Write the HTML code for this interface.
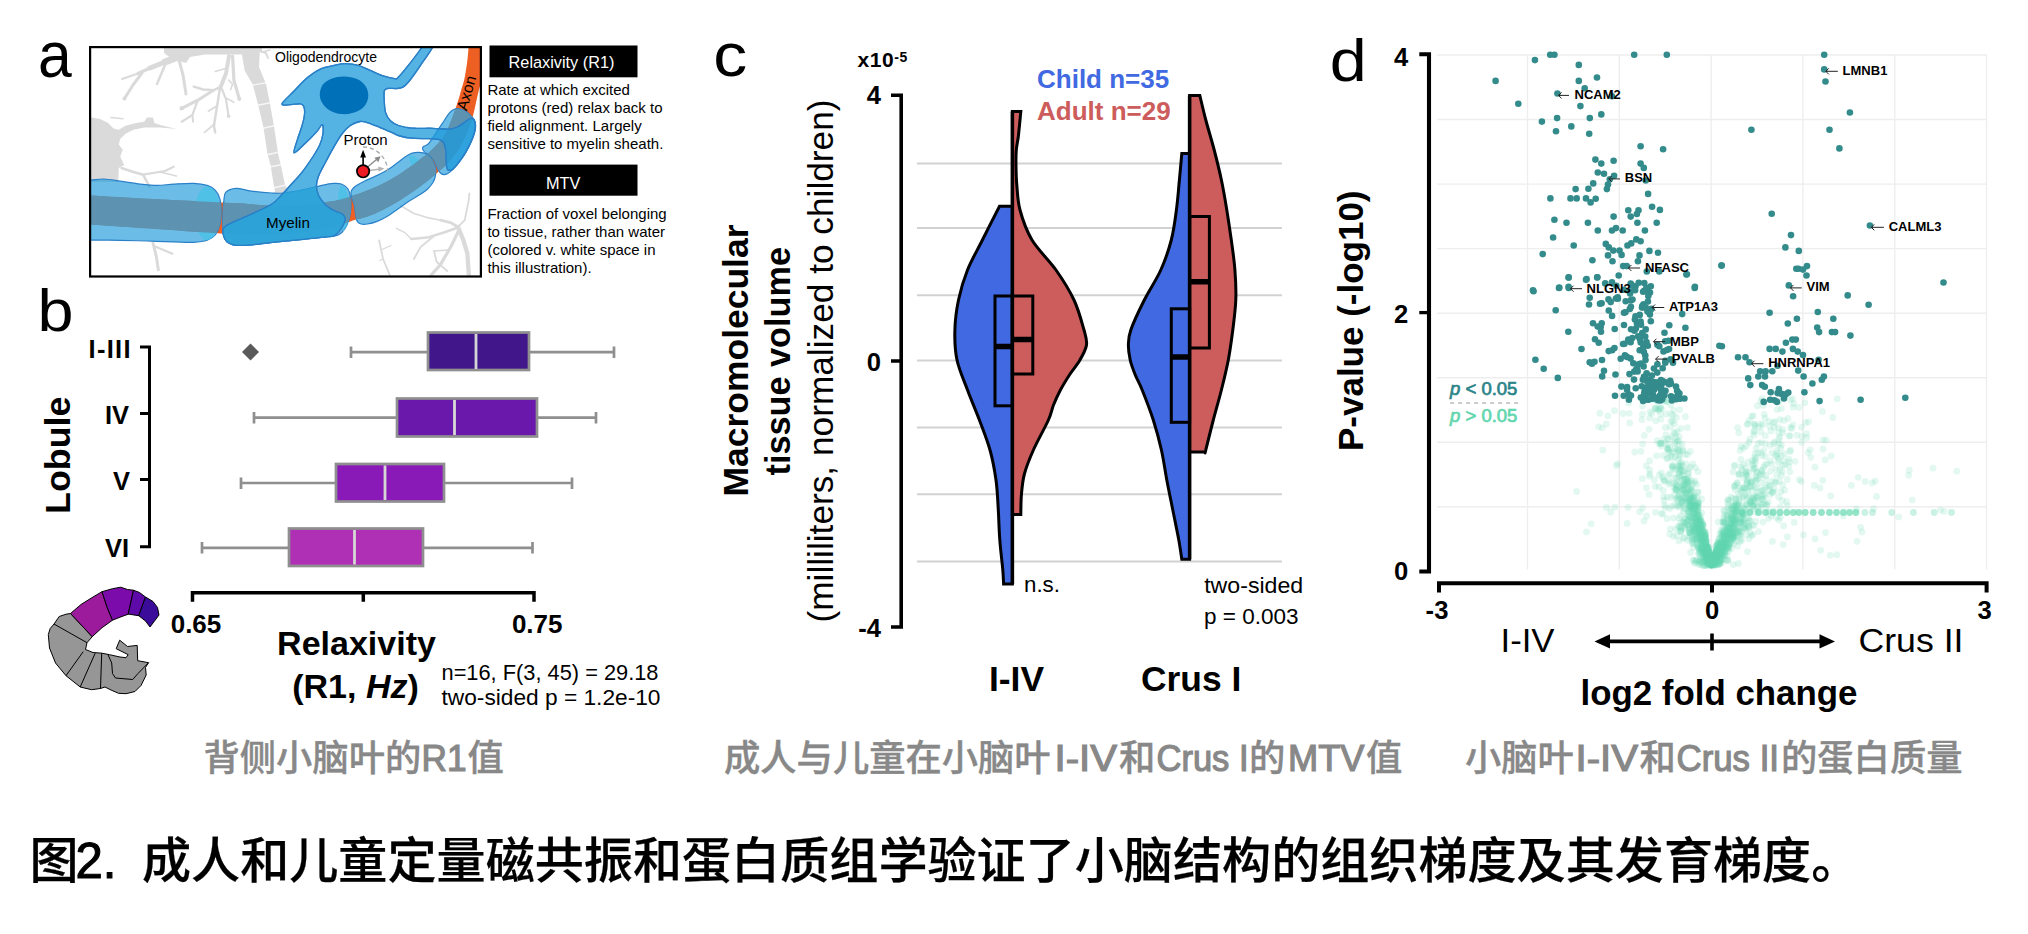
<!DOCTYPE html>
<html lang="zh">
<head>
<meta charset="utf-8">
<title>Figure 2</title>
<style>
html,body{margin:0;padding:0;background:#fff;}
body{width:2028px;height:934px;overflow:hidden;font-family:"Liberation Sans","Noto Sans CJK SC",sans-serif;}
svg{display:block;position:absolute;left:0;top:0;}
text{font-family:"Liberation Sans","Noto Sans CJK SC",sans-serif;}
.b{font-weight:bold;}
.cj{font-family:"Liberation Sans","Noto Sans CJK SC",sans-serif;}
</style>
</head>
<body>
<svg width="2028" height="934" viewBox="0 0 2028 934">
<rect x="0" y="0" width="2028" height="934" fill="#ffffff"/>

<g id="panel-a">
<defs><clipPath id="boxclip"><rect x="90" y="47" width="391" height="229.500"/></clipPath>
<clipPath id="m2clip"><path d="M225.7 192.4C227.7 190.2 231.7 188.5 236.0 188.3C240.3 188.1 245.4 190.3 251.4 191.1C257.4 191.9 266.5 192.7 271.9 193.0C277.2 193.3 278.4 193.5 283.5 193.0C288.6 192.5 296.4 191.1 302.8 189.8C309.2 188.5 316.9 186.4 322.0 185.3C327.1 184.2 330.4 183.6 333.6 183.4C336.8 183.2 339.0 183.2 341.3 184.0C343.6 184.8 346.2 186.5 347.7 188.5C349.2 190.5 349.8 193.0 350.3 196.2C350.8 199.4 351.1 203.9 350.9 207.8C350.7 211.7 350.0 216.0 349.0 219.4C348.0 222.8 346.8 225.8 345.1 228.4C343.4 231.0 341.5 233.4 338.7 234.8C335.9 236.2 334.4 235.9 328.4 236.7C322.4 237.4 311.4 238.5 302.8 239.3C294.2 240.2 285.7 240.9 277.1 241.8C268.5 242.7 258.2 244.2 251.4 244.8C244.6 245.4 240.1 245.8 236.0 245.3C231.9 244.8 229.2 243.8 227.0 241.8C224.8 239.8 223.8 238.1 223.1 233.5C222.4 228.9 222.8 219.5 222.9 214.2C223.0 208.8 223.3 205.0 223.8 201.4C224.3 197.8 223.7 194.6 225.7 192.4Z"/></clipPath><clipPath id="myeclip"><path d="M60.0 181.0C62.5 171.1 69.9 180.7 75.0 180.5C80.1 180.3 85.9 180.3 90.7 180.1C95.5 179.8 99.2 178.8 104.1 179.0C109.0 179.2 114.2 180.3 120.2 181.2C126.2 182.0 134.0 183.4 140.2 184.1C146.4 184.8 152.0 185.4 157.6 185.4C163.2 185.4 167.7 184.4 173.7 184.1C179.7 183.8 188.2 183.2 193.8 183.4C199.4 183.6 203.6 184.3 207.2 185.4C210.8 186.5 213.1 187.9 215.2 190.1C217.3 192.3 218.9 195.3 219.9 198.8C220.9 202.3 221.2 206.7 221.2 210.9C221.2 215.2 220.9 220.3 219.9 224.3C218.9 228.3 217.3 232.3 215.2 235.0C213.1 237.7 210.8 239.1 207.2 240.3C203.6 241.5 199.4 242.0 193.8 242.3C188.2 242.6 181.5 242.1 173.7 241.9C165.9 241.7 155.8 241.3 146.9 241.0C138.0 240.7 129.6 240.5 120.2 240.3C110.8 240.2 98.2 240.1 90.7 240.1C83.2 240.1 80.1 240.1 75.0 240.1C69.9 240.1 62.5 249.8 60.0 240.0C57.5 230.2 57.5 190.9 60.0 181.0Z"/><path d="M225.7 192.4C227.7 190.2 231.7 188.5 236.0 188.3C240.3 188.1 245.4 190.3 251.4 191.1C257.4 191.9 266.5 192.7 271.9 193.0C277.2 193.3 278.4 193.5 283.5 193.0C288.6 192.5 296.4 191.1 302.8 189.8C309.2 188.5 316.9 186.4 322.0 185.3C327.1 184.2 330.4 183.6 333.6 183.4C336.8 183.2 339.0 183.2 341.3 184.0C343.6 184.8 346.2 186.5 347.7 188.5C349.2 190.5 349.8 193.0 350.3 196.2C350.8 199.4 351.1 203.9 350.9 207.8C350.7 211.7 350.0 216.0 349.0 219.4C348.0 222.8 346.8 225.8 345.1 228.4C343.4 231.0 341.5 233.4 338.7 234.8C335.9 236.2 334.4 235.9 328.4 236.7C322.4 237.4 311.4 238.5 302.8 239.3C294.2 240.2 285.7 240.9 277.1 241.8C268.5 242.7 258.2 244.2 251.4 244.8C244.6 245.4 240.1 245.8 236.0 245.3C231.9 244.8 229.2 243.8 227.0 241.8C224.8 239.8 223.8 238.1 223.1 233.5C222.4 228.9 222.8 219.5 222.9 214.2C223.0 208.8 223.3 205.0 223.8 201.4C224.3 197.8 223.7 194.6 225.7 192.4Z"/><path d="M350.9 193.5C350.9 192.2 351.1 191.1 351.9 189.8C352.7 188.6 353.6 187.4 355.7 186.0C357.8 184.6 361.1 182.8 364.3 181.2C367.5 179.6 371.4 178.1 375.0 176.4C378.6 174.7 382.1 173.1 385.7 171.0C389.3 168.9 393.2 165.9 396.4 163.6C399.6 161.3 402.5 158.8 405.0 157.1C407.5 155.4 409.1 154.2 411.4 153.4C413.7 152.6 416.4 152.2 418.9 152.3C421.4 152.4 424.3 152.7 426.4 153.9C428.5 155.1 430.2 157.0 431.7 159.3C433.2 161.6 434.9 165.1 435.5 167.8C436.1 170.5 435.9 172.8 435.5 175.3C435.1 177.8 434.2 180.5 432.8 182.8C431.4 185.1 429.5 187.3 427.4 189.3C425.2 191.3 422.9 192.7 419.9 194.6C416.9 196.5 412.8 198.7 409.2 201.0C405.6 203.3 402.1 206.0 398.5 208.5C394.9 211.0 391.4 213.8 387.8 216.0C384.2 218.2 380.5 220.1 377.1 221.4C373.7 222.7 370.2 223.6 367.5 224.0C364.8 224.4 362.7 224.4 361.0 224.0C359.3 223.6 358.2 222.9 357.3 221.4C356.4 219.9 356.2 217.9 355.7 215.0C355.2 212.1 354.7 207.1 354.1 204.2C353.5 201.3 352.4 199.6 351.9 197.8C351.4 196.0 350.9 194.8 350.9 193.5Z"/><path d="M422.7 149.4C422.3 148.4 422.4 147.5 423.2 146.7C424.0 145.9 426.2 145.6 427.5 144.6C428.8 143.6 429.3 142.9 430.7 140.9C432.1 138.9 434.0 135.8 436.0 132.8C438.0 129.9 440.4 126.4 442.5 123.2C444.6 120.0 447.1 115.8 448.9 113.6C450.7 111.4 451.6 110.6 453.2 109.8C454.8 109.0 456.6 108.5 458.5 108.7C460.4 108.9 462.9 109.8 464.9 110.9C466.9 112.0 468.8 113.8 470.3 115.2C471.8 116.6 473.1 117.7 474.0 119.4C474.9 121.1 475.6 123.1 475.7 125.3C475.8 127.5 475.3 130.1 474.6 132.8C473.9 135.5 472.8 138.2 471.4 141.4C470.0 144.6 468.0 148.7 466.0 152.1C464.0 155.5 461.7 158.8 459.6 161.7C457.5 164.5 455.2 167.2 453.2 169.2C451.2 171.2 449.4 172.6 447.8 173.5C446.2 174.4 444.8 174.8 443.5 174.6C442.2 174.4 440.9 173.7 439.8 172.4C438.7 171.2 438.0 169.1 437.1 167.1C436.2 165.1 435.6 162.7 434.4 160.7C433.1 158.7 431.1 156.7 429.6 155.3C428.1 154.0 426.5 153.6 425.3 152.6C424.1 151.6 423.1 150.4 422.7 149.4Z"/></clipPath></defs>
<text x="37.900" y="77" font-size="64" textLength="33.700" lengthAdjust="spacingAndGlyphs">a</text>
<g clip-path="url(#boxclip)">
<g fill="none" stroke="#dadada" stroke-linecap="round" stroke-linejoin="round">
<path stroke="none" fill="#dadada" d="M164 47L262 47L262 51L255 53L240 54.500L228 54.500L205 54.500L190 57L186 63L176 60L168 56L164 53Z"/>
<path stroke="none" fill="#dadada" d="M240.6 47.0L244.7 70.8L252.7 84.2L258.0 104.3L263.4 127.0L267.4 153.8L270.5 165.0L274.1 186.8L275.4 194.0L288.8 192.0L284.8 184.1L280.8 165.0L278.1 153.8L274.1 127.0L270.1 104.3L266.1 84.2L259.0 66.8L260.0 47.0 Z"/>
<path stroke="#ffffff" stroke-width="1.300" stroke-opacity="0.750" d="M251.0 85.5L267.5 82.5M256.5 105.5L271.5 102.5M262.0 128.5L275.5 125.5M266.0 155.0L279.5 152.0M269.5 167.0L282.0 164.5M273.0 188.0L286.0 185.0"/>
<path stroke="none" fill="#dadada" d="M88.0 117.0L100.1 119.0L108.1 123.0L113.5 128.4L118.8 129.7L125.5 125.7L136.2 123.0L144.3 121.7L146.9 117.4L153.0 117.4L154.3 123.0L160.3 125.0L176.4 129.0L160.3 127.5L144.3 127.5L133.5 129.7L125.5 133.7L120.2 139.1L118.8 144.4L122.8 149.8L120.2 156.5L124.2 165.0L118.8 168.0L118.2 182.0L88.0 182.0 Z"/>
<path stroke-width="7.0" d="M178.0 57.0L165.0 62.0"/>
<path stroke-width="5.0" d="M165.0 62.0L150.0 68.0"/>
<path stroke-width="3.5" d="M150.0 68.0L138.0 73.5"/>
<path stroke-width="2.0" d="M138.0 73.5L122.0 79.0"/>
<path stroke-width="3.0" d="M142.0 73.0L133.0 85.0L124.5 98.5"/>
<circle cx="124.500" cy="98.500" r="2" fill="#dadada" stroke="none"/>
<path stroke-width="2.5" d="M165.0 65.0L157.0 84.0"/>
<path stroke-width="3.0" d="M179.0 60.0L183.0 75.0L186.0 94.0"/>
<path stroke-width="4.0" d="M229.0 56.0L226.0 73.5L220.6 86.9"/>
<path stroke-width="3.2" d="M232.6 56.0L233.9 80.2L239.3 98.9"/>
<circle cx="239.300" cy="98.900" r="2" fill="#dadada" stroke="none"/>
<path stroke-width="2.5" d="M220.6 86.9L213.9 90.2L203.2 89.5L193.8 86.6"/>
<path stroke-width="3.0" d="M213.0 90.5L197.8 100.2L181.7 108.3"/>
<circle cx="181.700" cy="108.300" r="2.200" fill="#dadada" stroke="none"/>
<path stroke-width="2.2" d="M197.8 100.2L192.4 115.0L181.7 121.7"/>
<path stroke-width="2.0" d="M192.4 115.0L193.1 121.7"/>
<path stroke-width="2.5" d="M220.0 88.0L216.5 109.6L213.9 125.7L215.2 132.4"/>
<path stroke-width="1.8" d="M214.5 124.0L204.5 132.4"/>
<path stroke-width="1.8" d="M217.0 106.0L208.5 111.0"/>
<path stroke-width="2.2" d="M221.9 89.0L225.9 98.9L228.6 116.3"/>
<circle cx="228.600" cy="116.300" r="1.800" fill="#dadada" stroke="none"/>
<path stroke-width="1.6" d="M225.9 98.0L234.0 102.2"/>
<path stroke-width="1.6" d="M228.6 80.0L232.6 84.2L230.6 89.5"/>
<path stroke-width="1.6" d="M227.3 68.0L215.2 71.5"/>
<path stroke-width="2.0" d="M257.0 50.0L266.0 53.0L268.0 58.0"/>
<path stroke-width="1.5" d="M262.0 52.0L270.0 50.0"/>
<path stroke-width="1.5" d="M111.0 117.5L123.0 118.7"/>
<path stroke-width="2.5" d="M121.5 168.0L133.5 172.0L143.0 174.7"/>
<path stroke-width="2.2" d="M143.0 174.7L165.0 171.0L173.7 166.7"/>
<path stroke-width="1.8" d="M160.0 172.0L176.4 176.0"/>
<path stroke-width="2.5" d="M143.0 174.7L149.6 186.8"/>
<path stroke-width="3.0" d="M153.0 243.0L156.3 256.4L158.3 269.8"/>
<path stroke-width="2.2" d="M154.0 246.0L172.4 253.7"/>
<path stroke-width="1.6" d="M400.5 205.5L413.9 213.5L427.3 217.6L440.6 220.2"/>
<path stroke-width="2.9" d="M440.6 220.2L451.4 222.9L458.0 226.9"/>
<path stroke-width="1.8" d="M458.0 226.9L464.7 220.2L468.8 200.2L469.4 193.5"/>
<path stroke-width="4.3" d="M458.0 226.9L463.4 240.3L467.4 253.7L468.8 275.0"/>
<path stroke-width="2.5" d="M458.0 227.5L444.7 232.3L427.3 237.6L411.2 239.0"/>
<path stroke-width="1.4" d="M411.2 239.0L404.5 232.3L396.5 228.3"/>
<path stroke-width="1.8" d="M434.0 236.0L420.6 247.0L413.9 259.0"/>
<path stroke-width="3.2" d="M459.0 230.0L451.4 245.7L440.6 264.4L431.3 275.0"/>
<path stroke-width="1.4" d="M449.0 250.0L434.0 251.0"/>
<path stroke-width="1.8" d="M434.0 251.0L436.6 261.7L447.3 271.0"/>
<path stroke-width="1.8" d="M379.1 240.3L383.1 259.0L389.8 275.0"/>
<path stroke-width="1.3" d="M381.0 250.0L391.0 245.5"/>
<path stroke-width="1.3" d="M383.1 259.0L379.6 260.5"/>
</g>
<path d="M84.0 195.2C94.5 195.8 127.6 197.8 146.9 198.8C166.2 199.8 184.7 200.7 200.0 201.4C215.3 202.2 227.8 202.7 238.5 203.3C249.2 203.9 255.6 204.8 264.2 205.2C272.8 205.6 281.4 205.7 290.0 205.5C298.6 205.3 308.9 204.7 315.6 204.0C322.3 203.3 325.8 202.4 330.0 201.6C334.2 200.8 337.2 200.3 340.7 199.4C344.2 198.5 347.3 197.3 350.9 196.2C354.5 195.0 357.6 194.2 362.1 192.5C366.7 190.8 372.9 188.5 378.2 186.0C383.5 183.5 388.8 180.7 394.2 177.5C399.6 174.3 405.6 170.1 410.3 166.8C415.0 163.5 419.3 159.8 422.1 157.7C424.9 155.6 424.6 156.2 426.9 154.2C429.2 152.2 433.2 148.5 436.0 145.7C438.8 142.8 441.4 140.1 443.5 137.1C445.6 134.1 446.9 130.9 448.4 127.5C449.9 124.1 451.5 119.8 452.6 116.8C453.8 113.8 454.3 112.2 455.3 109.3C456.3 106.4 457.5 102.8 458.5 99.6C459.5 96.4 460.2 93.7 461.2 90.0C462.2 86.3 463.7 82.5 464.7 77.5C465.7 72.5 466.7 65.7 467.4 60.1C468.1 54.5 468.6 46.7 468.8 44.0L486.0 44.0C485.7 46.7 484.8 54.0 484.0 60.0C483.2 66.0 482.4 75.0 481.5 80.0C480.6 85.0 479.9 86.0 478.9 90.0C477.9 94.0 476.8 99.3 475.7 103.9C474.6 108.5 474.0 112.6 472.4 117.8C470.8 123.0 468.4 129.6 466.0 135.0C463.6 140.4 461.0 145.3 458.0 150.0C455.0 154.7 451.3 159.3 448.0 163.0C444.7 166.7 440.4 170.0 438.1 172.1C435.8 174.2 436.3 173.7 434.4 175.3C432.4 176.9 429.5 179.4 426.4 181.8C423.3 184.2 420.2 186.7 415.7 189.8C411.2 192.9 405.0 197.2 399.6 200.5C394.2 203.8 388.9 206.9 383.5 209.6C378.1 212.3 372.2 214.9 367.5 216.6C362.8 218.3 358.1 219.0 355.2 219.8C352.3 220.6 353.7 220.3 350.3 221.4C346.9 222.5 340.9 225.0 335.0 226.5C329.1 228.0 322.5 229.4 315.0 230.5C307.5 231.6 298.8 232.6 290.0 233.3C281.2 234.0 270.7 234.6 262.0 234.8C253.3 235.0 244.9 234.5 238.0 234.3C231.1 234.1 235.8 234.6 220.6 233.6C205.4 232.6 169.7 229.9 146.9 228.3C124.1 226.7 94.5 224.7 84.0 224.0Z" fill="#ee5f23"/>
<g fill="#1c9ada" fill-opacity="0.65" stroke="#2a80c8" stroke-width="1.200">
<path d="M60.0 181.0C62.5 171.1 69.9 180.7 75.0 180.5C80.1 180.3 85.9 180.3 90.7 180.1C95.5 179.8 99.2 178.8 104.1 179.0C109.0 179.2 114.2 180.3 120.2 181.2C126.2 182.0 134.0 183.4 140.2 184.1C146.4 184.8 152.0 185.4 157.6 185.4C163.2 185.4 167.7 184.4 173.7 184.1C179.7 183.8 188.2 183.2 193.8 183.4C199.4 183.6 203.6 184.3 207.2 185.4C210.8 186.5 213.1 187.9 215.2 190.1C217.3 192.3 218.9 195.3 219.9 198.8C220.9 202.3 221.2 206.7 221.2 210.9C221.2 215.2 220.9 220.3 219.9 224.3C218.9 228.3 217.3 232.3 215.2 235.0C213.1 237.7 210.8 239.1 207.2 240.3C203.6 241.5 199.4 242.0 193.8 242.3C188.2 242.6 181.5 242.1 173.7 241.9C165.9 241.7 155.8 241.3 146.9 241.0C138.0 240.7 129.6 240.5 120.2 240.3C110.8 240.2 98.2 240.1 90.7 240.1C83.2 240.1 80.1 240.1 75.0 240.1C69.9 240.1 62.5 249.8 60.0 240.0C57.5 230.2 57.5 190.9 60.0 181.0Z"/>
<path d="M225.7 192.4C227.7 190.2 231.7 188.5 236.0 188.3C240.3 188.1 245.4 190.3 251.4 191.1C257.4 191.9 266.5 192.7 271.9 193.0C277.2 193.3 278.4 193.5 283.5 193.0C288.6 192.5 296.4 191.1 302.8 189.8C309.2 188.5 316.9 186.4 322.0 185.3C327.1 184.2 330.4 183.6 333.6 183.4C336.8 183.2 339.0 183.2 341.3 184.0C343.6 184.8 346.2 186.5 347.7 188.5C349.2 190.5 349.8 193.0 350.3 196.2C350.8 199.4 351.1 203.9 350.9 207.8C350.7 211.7 350.0 216.0 349.0 219.4C348.0 222.8 346.8 225.8 345.1 228.4C343.4 231.0 341.5 233.4 338.7 234.8C335.9 236.2 334.4 235.9 328.4 236.7C322.4 237.4 311.4 238.5 302.8 239.3C294.2 240.2 285.7 240.9 277.1 241.8C268.5 242.7 258.2 244.2 251.4 244.8C244.6 245.4 240.1 245.8 236.0 245.3C231.9 244.8 229.2 243.8 227.0 241.8C224.8 239.8 223.8 238.1 223.1 233.5C222.4 228.9 222.8 219.5 222.9 214.2C223.0 208.8 223.3 205.0 223.8 201.4C224.3 197.8 223.7 194.6 225.7 192.4Z"/>
<path d="M350.9 193.5C350.9 192.2 351.1 191.1 351.9 189.8C352.7 188.6 353.6 187.4 355.7 186.0C357.8 184.6 361.1 182.8 364.3 181.2C367.5 179.6 371.4 178.1 375.0 176.4C378.6 174.7 382.1 173.1 385.7 171.0C389.3 168.9 393.2 165.9 396.4 163.6C399.6 161.3 402.5 158.8 405.0 157.1C407.5 155.4 409.1 154.2 411.4 153.4C413.7 152.6 416.4 152.2 418.9 152.3C421.4 152.4 424.3 152.7 426.4 153.9C428.5 155.1 430.2 157.0 431.7 159.3C433.2 161.6 434.9 165.1 435.5 167.8C436.1 170.5 435.9 172.8 435.5 175.3C435.1 177.8 434.2 180.5 432.8 182.8C431.4 185.1 429.5 187.3 427.4 189.3C425.2 191.3 422.9 192.7 419.9 194.6C416.9 196.5 412.8 198.7 409.2 201.0C405.6 203.3 402.1 206.0 398.5 208.5C394.9 211.0 391.4 213.8 387.8 216.0C384.2 218.2 380.5 220.1 377.1 221.4C373.7 222.7 370.2 223.6 367.5 224.0C364.8 224.4 362.7 224.4 361.0 224.0C359.3 223.6 358.2 222.9 357.3 221.4C356.4 219.9 356.2 217.9 355.7 215.0C355.2 212.1 354.7 207.1 354.1 204.2C353.5 201.3 352.4 199.6 351.9 197.8C351.4 196.0 350.9 194.8 350.9 193.5Z"/>
<path d="M422.7 149.4C422.3 148.4 422.4 147.5 423.2 146.7C424.0 145.9 426.2 145.6 427.5 144.6C428.8 143.6 429.3 142.9 430.7 140.9C432.1 138.9 434.0 135.8 436.0 132.8C438.0 129.9 440.4 126.4 442.5 123.2C444.6 120.0 447.1 115.8 448.9 113.6C450.7 111.4 451.6 110.6 453.2 109.8C454.8 109.0 456.6 108.5 458.5 108.7C460.4 108.9 462.9 109.8 464.9 110.9C466.9 112.0 468.8 113.8 470.3 115.2C471.8 116.6 473.1 117.7 474.0 119.4C474.9 121.1 475.6 123.1 475.7 125.3C475.8 127.5 475.3 130.1 474.6 132.8C473.9 135.5 472.8 138.2 471.4 141.4C470.0 144.6 468.0 148.7 466.0 152.1C464.0 155.5 461.7 158.8 459.6 161.7C457.5 164.5 455.2 167.2 453.2 169.2C451.2 171.2 449.4 172.6 447.8 173.5C446.2 174.4 444.8 174.8 443.5 174.6C442.2 174.4 440.9 173.7 439.8 172.4C438.7 171.2 438.0 169.1 437.1 167.1C436.2 165.1 435.6 162.7 434.4 160.7C433.1 158.7 431.1 156.7 429.6 155.3C428.1 154.0 426.5 153.6 425.3 152.6C424.1 151.6 423.1 150.4 422.7 149.4Z"/>
</g>
<g fill="#4cc0e6" fill-opacity="0.9" clip-path="url(#myeclip)"><ellipse cx="207.5" cy="213.500" rx="12.500" ry="27"/><ellipse cx="344.500" cy="210.500" rx="6" ry="25" transform="rotate(-6 344.500 210.500)"/><ellipse cx="419" cy="168" rx="5" ry="15" transform="rotate(-35 419 168)"/></g>
<g clip-path="url(#myeclip)"><path d="M84.0 195.2C94.5 195.8 127.6 197.8 146.9 198.8C166.2 199.8 184.7 200.7 200.0 201.4C215.3 202.2 227.8 202.7 238.5 203.3C249.2 203.9 255.6 204.8 264.2 205.2C272.8 205.6 281.4 205.7 290.0 205.5C298.6 205.3 308.9 204.7 315.6 204.0C322.3 203.3 325.8 202.4 330.0 201.6C334.2 200.8 337.2 200.3 340.7 199.4C344.2 198.5 347.3 197.3 350.9 196.2C354.5 195.0 357.6 194.2 362.1 192.5C366.7 190.8 372.9 188.5 378.2 186.0C383.5 183.5 388.8 180.7 394.2 177.5C399.6 174.3 405.6 170.1 410.3 166.8C415.0 163.5 419.3 159.8 422.1 157.7C424.9 155.6 424.6 156.2 426.9 154.2C429.2 152.2 433.2 148.5 436.0 145.7C438.8 142.8 441.4 140.1 443.5 137.1C445.6 134.1 446.9 130.9 448.4 127.5C449.9 124.1 451.5 119.8 452.6 116.8C453.8 113.8 454.3 112.2 455.3 109.3C456.3 106.4 457.5 102.8 458.5 99.6C459.5 96.4 460.2 93.7 461.2 90.0C462.2 86.3 463.7 82.5 464.7 77.5C465.7 72.5 466.7 65.7 467.4 60.1C468.1 54.5 468.6 46.7 468.8 44.0L486.0 44.0C485.7 46.7 484.8 54.0 484.0 60.0C483.2 66.0 482.4 75.0 481.5 80.0C480.6 85.0 479.9 86.0 478.9 90.0C477.9 94.0 476.8 99.3 475.7 103.9C474.6 108.5 474.0 112.6 472.4 117.8C470.8 123.0 468.4 129.6 466.0 135.0C463.6 140.4 461.0 145.3 458.0 150.0C455.0 154.7 451.3 159.3 448.0 163.0C444.7 166.7 440.4 170.0 438.1 172.1C435.8 174.2 436.3 173.7 434.4 175.3C432.4 176.9 429.5 179.4 426.4 181.8C423.3 184.2 420.2 186.7 415.7 189.8C411.2 192.9 405.0 197.2 399.6 200.5C394.2 203.8 388.9 206.9 383.5 209.6C378.1 212.3 372.2 214.9 367.5 216.6C362.8 218.3 358.1 219.0 355.2 219.8C352.3 220.6 353.7 220.3 350.3 221.4C346.9 222.5 340.9 225.0 335.0 226.5C329.1 228.0 322.5 229.4 315.0 230.5C307.5 231.6 298.8 232.6 290.0 233.3C281.2 234.0 270.7 234.6 262.0 234.8C253.3 235.0 244.9 234.5 238.0 234.3C231.1 234.1 235.8 234.6 220.6 233.6C205.4 232.6 169.7 229.9 146.9 228.3C124.1 226.7 94.5 224.7 84.0 224.0Z" fill="#5d93b1"/></g>
<path d="M282.0 103.8C282.5 101.5 290.0 95.3 294.1 91.0C298.2 86.7 302.6 81.7 306.9 78.1C311.2 74.5 315.2 71.4 319.8 69.3C324.4 67.2 329.9 66.2 334.2 65.3C338.5 64.4 341.5 63.7 345.5 63.7C349.5 63.7 354.3 64.2 358.3 65.3C362.3 66.4 365.6 68.4 369.6 70.1C373.6 71.8 378.2 74.3 382.4 75.7C386.5 77.1 392.0 78.3 394.5 78.7C397.0 79.1 395.5 79.8 397.5 78.0C399.5 76.2 402.8 72.4 406.5 67.7C410.2 63.0 417.2 54.0 420.0 50.0C422.8 46.0 420.7 45.0 423.0 44.0C425.3 43.0 434.5 40.3 434.0 44.0C433.5 47.7 424.1 60.0 420.0 66.1C415.9 72.2 412.5 77.0 409.7 80.5C406.9 84.0 405.4 85.6 403.3 86.9C401.2 88.2 399.6 88.2 396.9 88.5C394.2 88.8 389.3 88.1 387.2 88.5C385.1 88.9 384.8 88.8 384.3 91.0C383.8 93.2 384.1 97.8 384.3 101.4C384.5 105.0 384.6 109.4 385.6 112.6C386.6 115.8 388.2 118.5 390.4 120.7C392.5 122.9 395.3 124.3 398.5 125.5C401.7 126.7 406.6 127.4 409.7 127.9C412.8 128.4 412.9 128.2 416.8 128.3C420.7 128.4 427.6 128.2 432.8 128.3C438.0 128.4 443.9 129.2 447.8 129.1C451.7 129.0 453.5 128.7 456.4 127.5C459.2 126.3 462.6 123.6 464.9 122.1C467.2 120.6 468.8 118.8 470.3 118.4C471.8 118.0 473.1 118.7 474.0 119.8C474.9 120.9 475.3 123.1 475.4 125.3C475.4 127.5 475.0 130.1 474.3 132.8C473.6 135.5 472.5 138.2 471.1 141.4C469.7 144.6 467.7 148.7 465.7 152.1C463.7 155.5 461.4 158.9 459.3 161.7C457.2 164.5 454.8 167.6 453.0 169.0C451.2 170.4 449.4 170.6 448.4 170.3C447.3 170.0 447.1 168.9 446.7 167.1C446.3 165.3 446.4 162.4 446.2 159.6C446.0 156.8 446.1 152.8 445.7 150.0C445.2 147.2 444.8 144.3 443.5 142.5C442.2 140.7 440.9 139.9 438.2 139.3C435.5 138.7 432.0 138.9 427.5 138.7C423.0 138.5 416.0 138.6 411.4 138.2C406.8 137.8 403.2 136.9 400.0 136.0C396.8 135.1 395.6 134.2 392.1 132.7C388.6 131.2 383.5 128.8 379.2 127.1C374.9 125.4 369.6 123.2 366.4 122.3C363.2 121.4 362.6 121.0 359.9 121.5C357.2 122.0 353.2 123.5 350.3 125.5C347.4 127.5 345.0 130.0 342.3 133.5C339.6 137.0 337.1 141.3 334.2 146.4C331.2 151.5 327.3 158.9 324.6 164.0C321.9 169.1 319.6 173.2 318.2 176.9C316.8 180.7 316.4 183.6 316.4 186.5C316.4 189.4 317.4 192.2 318.2 194.5C319.0 196.8 320.1 198.2 321.4 200.0C322.7 201.8 323.9 203.5 325.9 205.2C327.9 206.9 330.8 208.9 333.6 210.4C336.4 211.9 340.7 212.7 342.6 214.2C344.5 215.7 345.3 217.0 345.1 219.4C344.9 221.8 343.0 225.7 341.3 228.4C339.6 231.1 337.0 234.0 334.9 235.4C332.8 236.8 333.8 236.0 328.4 236.7C323.0 237.3 311.4 238.5 302.8 239.3C294.2 240.2 285.7 240.9 277.1 241.8C268.5 242.7 258.2 244.2 251.4 244.8C244.6 245.4 240.1 245.8 236.0 245.3C231.9 244.8 229.2 243.8 227.0 241.8C224.8 239.8 223.5 235.9 223.1 233.5C222.7 231.1 222.9 228.9 224.4 227.1C225.9 225.3 227.6 224.8 232.1 222.6C236.6 220.4 244.8 217.3 251.4 214.2C258.0 211.1 266.8 207.3 271.9 204.0C277.0 200.7 279.3 197.2 282.2 194.3C285.1 191.4 286.0 190.2 289.3 186.5C292.6 182.8 298.1 177.2 302.1 172.1C306.1 167.0 310.4 160.6 313.4 156.0C316.3 151.4 318.2 148.6 319.8 144.8C321.4 141.1 322.6 136.8 323.0 133.5C323.4 130.2 323.3 125.0 322.2 124.7C321.1 124.4 319.4 128.8 316.6 131.9C313.8 135.0 309.1 139.7 305.3 143.2C301.6 146.7 295.4 153.4 294.1 152.8C292.8 152.2 296.0 144.5 297.3 139.9C298.6 135.3 300.9 129.8 302.1 125.5C303.3 121.2 304.2 117.4 304.5 114.2C304.8 111.0 304.4 107.9 303.7 106.2C303.0 104.5 302.6 104.1 300.5 103.8C298.4 103.5 294.0 104.6 290.9 104.6C287.8 104.6 281.5 106.1 282.0 103.8Z" fill="#1c9ada" fill-opacity="0.75" stroke="#2a80c8" stroke-width="1.300" stroke-linejoin="round"/>
<g clip-path="url(#m2clip)"><path d="M282.0 103.8C282.5 101.5 290.0 95.3 294.1 91.0C298.2 86.7 302.6 81.7 306.9 78.1C311.2 74.5 315.2 71.4 319.8 69.3C324.4 67.2 329.9 66.2 334.2 65.3C338.5 64.4 341.5 63.7 345.5 63.7C349.5 63.7 354.3 64.2 358.3 65.3C362.3 66.4 365.6 68.4 369.6 70.1C373.6 71.8 378.2 74.3 382.4 75.7C386.5 77.1 392.0 78.3 394.5 78.7C397.0 79.1 395.5 79.8 397.5 78.0C399.5 76.2 402.8 72.4 406.5 67.7C410.2 63.0 417.2 54.0 420.0 50.0C422.8 46.0 420.7 45.0 423.0 44.0C425.3 43.0 434.5 40.3 434.0 44.0C433.5 47.7 424.1 60.0 420.0 66.1C415.9 72.2 412.5 77.0 409.7 80.5C406.9 84.0 405.4 85.6 403.3 86.9C401.2 88.2 399.6 88.2 396.9 88.5C394.2 88.8 389.3 88.1 387.2 88.5C385.1 88.9 384.8 88.8 384.3 91.0C383.8 93.2 384.1 97.8 384.3 101.4C384.5 105.0 384.6 109.4 385.6 112.6C386.6 115.8 388.2 118.5 390.4 120.7C392.5 122.9 395.3 124.3 398.5 125.5C401.7 126.7 406.6 127.4 409.7 127.9C412.8 128.4 412.9 128.2 416.8 128.3C420.7 128.4 427.6 128.2 432.8 128.3C438.0 128.4 443.9 129.2 447.8 129.1C451.7 129.0 453.5 128.7 456.4 127.5C459.2 126.3 462.6 123.6 464.9 122.1C467.2 120.6 468.8 118.8 470.3 118.4C471.8 118.0 473.1 118.7 474.0 119.8C474.9 120.9 475.3 123.1 475.4 125.3C475.4 127.5 475.0 130.1 474.3 132.8C473.6 135.5 472.5 138.2 471.1 141.4C469.7 144.6 467.7 148.7 465.7 152.1C463.7 155.5 461.4 158.9 459.3 161.7C457.2 164.5 454.8 167.6 453.0 169.0C451.2 170.4 449.4 170.6 448.4 170.3C447.3 170.0 447.1 168.9 446.7 167.1C446.3 165.3 446.4 162.4 446.2 159.6C446.0 156.8 446.1 152.8 445.7 150.0C445.2 147.2 444.8 144.3 443.5 142.5C442.2 140.7 440.9 139.9 438.2 139.3C435.5 138.7 432.0 138.9 427.5 138.7C423.0 138.5 416.0 138.6 411.4 138.2C406.8 137.8 403.2 136.9 400.0 136.0C396.8 135.1 395.6 134.2 392.1 132.7C388.6 131.2 383.5 128.8 379.2 127.1C374.9 125.4 369.6 123.2 366.4 122.3C363.2 121.4 362.6 121.0 359.9 121.5C357.2 122.0 353.2 123.5 350.3 125.5C347.4 127.5 345.0 130.0 342.3 133.5C339.6 137.0 337.1 141.3 334.2 146.4C331.2 151.5 327.3 158.9 324.6 164.0C321.9 169.1 319.6 173.2 318.2 176.9C316.8 180.7 316.4 183.6 316.4 186.5C316.4 189.4 317.4 192.2 318.2 194.5C319.0 196.8 320.1 198.2 321.4 200.0C322.7 201.8 323.9 203.5 325.9 205.2C327.9 206.9 330.8 208.9 333.6 210.4C336.4 211.9 340.7 212.7 342.6 214.2C344.5 215.7 345.3 217.0 345.1 219.4C344.9 221.8 343.0 225.7 341.3 228.4C339.6 231.1 337.0 234.0 334.9 235.4C332.8 236.8 333.8 236.0 328.4 236.7C323.0 237.3 311.4 238.5 302.8 239.3C294.2 240.2 285.7 240.9 277.1 241.8C268.5 242.7 258.2 244.2 251.4 244.8C244.6 245.4 240.1 245.8 236.0 245.3C231.9 244.8 229.2 243.8 227.0 241.8C224.8 239.8 223.5 235.9 223.1 233.5C222.7 231.1 222.9 228.9 224.4 227.1C225.9 225.3 227.6 224.8 232.1 222.6C236.6 220.4 244.8 217.3 251.4 214.2C258.0 211.1 266.8 207.3 271.9 204.0C277.0 200.7 279.3 197.2 282.2 194.3C285.1 191.4 286.0 190.2 289.3 186.5C292.6 182.8 298.1 177.2 302.1 172.1C306.1 167.0 310.4 160.6 313.4 156.0C316.3 151.4 318.2 148.6 319.8 144.8C321.4 141.1 322.6 136.8 323.0 133.5C323.4 130.2 323.3 125.0 322.2 124.7C321.1 124.4 319.4 128.8 316.6 131.9C313.8 135.0 309.1 139.7 305.3 143.2C301.6 146.7 295.4 153.4 294.1 152.8C292.8 152.2 296.0 144.5 297.3 139.9C298.6 135.3 300.9 129.8 302.1 125.5C303.3 121.2 304.2 117.4 304.5 114.2C304.8 111.0 304.4 107.9 303.7 106.2C303.0 104.5 302.6 104.1 300.5 103.8C298.4 103.5 294.0 104.6 290.9 104.6C287.8 104.6 281.5 106.1 282.0 103.8Z" fill="#2ea5d8" fill-opacity="0.8"/></g>
<path d="M282.0 103.8C282.5 101.5 290.0 95.3 294.1 91.0C298.2 86.7 302.6 81.7 306.9 78.1C311.2 74.5 315.2 71.4 319.8 69.3C324.4 67.2 329.9 66.2 334.2 65.3C338.5 64.4 341.5 63.7 345.5 63.7C349.5 63.7 354.3 64.2 358.3 65.3C362.3 66.4 365.6 68.4 369.6 70.1C373.6 71.8 378.2 74.3 382.4 75.7C386.5 77.1 392.0 78.3 394.5 78.7C397.0 79.1 395.5 79.8 397.5 78.0C399.5 76.2 402.8 72.4 406.5 67.7C410.2 63.0 417.2 54.0 420.0 50.0C422.8 46.0 420.7 45.0 423.0 44.0C425.3 43.0 434.5 40.3 434.0 44.0C433.5 47.7 424.1 60.0 420.0 66.1C415.9 72.2 412.5 77.0 409.7 80.5C406.9 84.0 405.4 85.6 403.3 86.9C401.2 88.2 399.6 88.2 396.9 88.5C394.2 88.8 389.3 88.1 387.2 88.5C385.1 88.9 384.8 88.8 384.3 91.0C383.8 93.2 384.1 97.8 384.3 101.4C384.5 105.0 384.6 109.4 385.6 112.6C386.6 115.8 388.2 118.5 390.4 120.7C392.5 122.9 395.3 124.3 398.5 125.5C401.7 126.7 406.6 127.4 409.7 127.9C412.8 128.4 412.9 128.2 416.8 128.3C420.7 128.4 427.6 128.2 432.8 128.3C438.0 128.4 443.9 129.2 447.8 129.1C451.7 129.0 453.5 128.7 456.4 127.5C459.2 126.3 462.6 123.6 464.9 122.1C467.2 120.6 468.8 118.8 470.3 118.4C471.8 118.0 473.1 118.7 474.0 119.8C474.9 120.9 475.3 123.1 475.4 125.3C475.4 127.5 475.0 130.1 474.3 132.8C473.6 135.5 472.5 138.2 471.1 141.4C469.7 144.6 467.7 148.7 465.7 152.1C463.7 155.5 461.4 158.9 459.3 161.7C457.2 164.5 454.8 167.6 453.0 169.0C451.2 170.4 449.4 170.6 448.4 170.3C447.3 170.0 447.1 168.9 446.7 167.1C446.3 165.3 446.4 162.4 446.2 159.6C446.0 156.8 446.1 152.8 445.7 150.0C445.2 147.2 444.8 144.3 443.5 142.5C442.2 140.7 440.9 139.9 438.2 139.3C435.5 138.7 432.0 138.9 427.5 138.7C423.0 138.5 416.0 138.6 411.4 138.2C406.8 137.8 403.2 136.9 400.0 136.0C396.8 135.1 395.6 134.2 392.1 132.7C388.6 131.2 383.5 128.8 379.2 127.1C374.9 125.4 369.6 123.2 366.4 122.3C363.2 121.4 362.6 121.0 359.9 121.5C357.2 122.0 353.2 123.5 350.3 125.5C347.4 127.5 345.0 130.0 342.3 133.5C339.6 137.0 337.1 141.3 334.2 146.4C331.2 151.5 327.3 158.9 324.6 164.0C321.9 169.1 319.6 173.2 318.2 176.9C316.8 180.7 316.4 183.6 316.4 186.5C316.4 189.4 317.4 192.2 318.2 194.5C319.0 196.8 320.1 198.2 321.4 200.0C322.7 201.8 323.9 203.5 325.9 205.2C327.9 206.9 330.8 208.9 333.6 210.4C336.4 211.9 340.7 212.7 342.6 214.2C344.5 215.7 345.3 217.0 345.1 219.4C344.9 221.8 343.0 225.7 341.3 228.4C339.6 231.1 337.0 234.0 334.9 235.4C332.8 236.8 333.8 236.0 328.4 236.7C323.0 237.3 311.4 238.5 302.8 239.3C294.2 240.2 285.7 240.9 277.1 241.8C268.5 242.7 258.2 244.2 251.4 244.8C244.6 245.4 240.1 245.8 236.0 245.3C231.9 244.8 229.2 243.8 227.0 241.8C224.8 239.8 223.5 235.9 223.1 233.5C222.7 231.1 222.9 228.9 224.4 227.1C225.9 225.3 227.6 224.8 232.1 222.6C236.6 220.4 244.8 217.3 251.4 214.2C258.0 211.1 266.8 207.3 271.9 204.0C277.0 200.7 279.3 197.2 282.2 194.3C285.1 191.4 286.0 190.2 289.3 186.5C292.6 182.8 298.1 177.2 302.1 172.1C306.1 167.0 310.4 160.6 313.4 156.0C316.3 151.4 318.2 148.6 319.8 144.8C321.4 141.1 322.6 136.8 323.0 133.5C323.4 130.2 323.3 125.0 322.2 124.7C321.1 124.4 319.4 128.8 316.6 131.9C313.8 135.0 309.1 139.7 305.3 143.2C301.6 146.7 295.4 153.4 294.1 152.8C292.8 152.2 296.0 144.5 297.3 139.9C298.6 135.3 300.9 129.8 302.1 125.5C303.3 121.2 304.2 117.4 304.5 114.2C304.8 111.0 304.4 107.9 303.7 106.2C303.0 104.5 302.6 104.1 300.5 103.8C298.4 103.5 294.0 104.6 290.9 104.6C287.8 104.6 281.5 106.1 282.0 103.8Z" fill="none" stroke="#2a80c8" stroke-width="1.300" stroke-linejoin="round"/>
<path d="M319.8 96.0C319.6 92.6 320.5 87.9 322.5 85.0C324.5 82.1 328.4 79.9 332.0 78.5C335.6 77.1 339.8 76.4 344.0 76.5C348.2 76.6 353.4 77.4 357.0 79.0C360.6 80.6 363.6 83.2 365.5 86.0C367.4 88.8 368.4 92.8 368.3 96.0C368.2 99.2 366.9 102.9 365.0 105.5C363.1 108.1 360.3 110.0 357.0 111.5C353.7 113.0 349.0 114.1 345.0 114.2C341.0 114.3 336.5 113.5 333.0 112.0C329.5 110.5 326.2 108.2 324.0 105.5C321.8 102.8 320.1 99.4 319.8 96.0Z" fill="#0070b9"/>
<path d="M363.1 147A24.500 24.500 0 0 1 387.6 171.300" fill="none" stroke="#ababab" stroke-width="1.400" stroke-dasharray="4 3"/>
<path d="M367 167.500L376.500 159.500" stroke="#8a8a8a" stroke-width="1.400" fill="none"/><path d="M369 170.500L379 169.300" stroke="#b4b4b4" stroke-width="1.400" fill="none"/>
<path d="M380.500 156.300L378.300 162.300L374.400 157.800Z" fill="#8a8a8a"/><path d="M384.500 168.600L378.600 171.700L378.300 166.600Z" fill="#b4b4b4"/>
<path d="M363.1 168V155" stroke="#000" stroke-width="1.600" fill="none"/><path d="M363.1 149.700L366 157.600H360.200Z" fill="#000"/>
<circle cx="363.1" cy="171.300" r="6.200" fill="#ed1c24" stroke="#000" stroke-width="1.700"/>
<g font-size="15"><text x="275" y="61.700" font-size="14">Oligodendrocyte</text><text x="343.5" y="144.500">Proton</text><text x="266" y="228.400" font-size="15.200">Myelin</text>
<text transform="translate(471.500,94.500) rotate(-74)" text-anchor="middle" font-size="15.500">Axon</text></g>
</g>
<rect x="90.100" y="47.100" width="390.800" height="229.400" fill="none" stroke="#000" stroke-width="2.200"/>
<rect x="489.500" y="45.500" width="148" height="31.800" fill="#000"/><rect x="489.500" y="164.600" width="148" height="31.100" fill="#000"/>
<g font-size="16.300" fill="#fff" text-anchor="middle"><text x="561.500" y="67.500">Relaxivity (R1)</text><text x="563.200" y="188.800">MTV</text></g>
<g font-size="15">
<text x="487.400" y="94.5">Rate at which excited</text>
<text x="487.400" y="112.6">protons (red) relax back to</text>
<text x="487.400" y="130.7">field alignment. Largely</text>
<text x="487.400" y="148.8">sensitive to myelin sheath.</text>
<text x="487.400" y="219.2">Fraction of voxel belonging</text>
<text x="487.400" y="237.3">to tissue, rather than water</text>
<text x="487.400" y="255.3">(colored v. white space in</text>
<text x="487.400" y="273.4">this illustration).</text>
</g>
</g>

<g id="panel-b">
<text x="37.500" y="331" font-size="58.500" textLength="36" lengthAdjust="spacingAndGlyphs">b</text>
<text transform="translate(69.5,455.300) rotate(-90)" text-anchor="middle" font-size="35.800" class="b">Lobule</text>
<g font-size="25.500" class="b" text-anchor="end">
<text x="88.500" y="358.300" text-anchor="start" textLength="42" lengthAdjust="spacing">I-III</text>
<text x="129" y="424.300">IV</text>
<text x="130" y="490">V</text>
<text x="129" y="556.600">VI</text>
</g>
<path d="M140 347H149.500V546.800H140M140 413.500H149.500M140 479.500H149.500" fill="none" stroke="#000" stroke-width="3"/>
<g stroke="#8f8f8f" stroke-width="2.700" fill="none">
<path d="M351 352.200H614M351 346.500V358M614 346.500V358"/>
<path d="M254 417.600H596M254 412V423.500M596 412V423.500"/>
<path d="M241 483H572M241 477.500V489M572 477.500V489"/>
<path d="M202 547.800H532.5M202 542V553.500M532.5 542V553.500"/>
<rect x="428" y="332.5" width="101" height="37.5" fill="#40168a"/>
<rect x="397" y="398.5" width="140" height="38" fill="#6a17ab"/>
<rect x="336" y="464" width="108" height="37.5" fill="#8a1ab8"/>
<rect x="289" y="528.5" width="134" height="37.5" fill="#b030b5"/>
</g>
<g stroke="#d6d6d6" stroke-width="2.800">
<path d="M476 334V369M454.5 400V435M385 465.5V500M354.5 530V564.5"/>
</g>
<path d="M250.5 343.500L259 352L250.5 360.500L242 352Z" fill="#5a5a5a"/>
<path d="M192.500 601.700V592.700H534V601.700M363.300 592.700V601.700" fill="none" stroke="#000" stroke-width="3.500"/>
<g font-size="26" class="b" text-anchor="middle">
<text x="196" y="633.200">0.65</text>
<text x="537.200" y="633.200">0.75</text>
</g>
<g font-size="34" class="b" text-anchor="middle">
<text x="356.500" y="654.700">Relaxivity</text>
<text x="355.500" y="697.800">(R1, <tspan font-style="italic">Hz</tspan>)</text>
</g>
<g font-size="21.800">
<text x="441.500" y="679.900" textLength="217" lengthAdjust="spacingAndGlyphs">n=16, F(3, 45) = 29.18</text>
<text x="441.500" y="704.700" textLength="219" lengthAdjust="spacingAndGlyphs">two-sided p = 1.2e-10</text>
</g>
<g id="cereb" stroke="#000" stroke-width="1" stroke-linejoin="round">
<path d="M70.5 613.5L92.2 636.7L87.0 642.7L85.5 649.5L93.0 652.5L102.0 653.2L109.5 654.7L120.0 657.0L126.0 657.7L128.2 654.7L116.2 648.7L119.7 640.2L127.5 646.5L137.2 645.4L137.7 660.7L148.5 662.7L145.5 667.5L146.2 675.0L141.0 685.5L135.0 691.5L126.0 693.7L118.5 693.3L111.0 690.0L105.0 687.0L100.5 688.5L91.5 689.7L80.2 687.0L66.0 675.7L55.5 663.0L49.5 648.0L48.3 634.5L50.2 628.5L54.0 624.0L59.2 616.5L66.0 614.2Z" fill="#969696"/>
<path d="M70.5 613.5L81.0 604.5L93.0 597.0L102.0 591.7L107.2 607.5L112.5 620.2L102.0 627.7L92.2 636.7Z" fill="#9c1b9c"/>
<path d="M102.0 591.7L112.5 588.7L120.7 587.2L127.5 589.5L133.5 590.2L128.2 614.2L120.0 617.2L112.5 620.2L107.2 607.5Z" fill="#7c0bab"/>
<path d="M133.5 590.2L139.5 592.5L145.5 597.0L138.7 615.7L129.0 614.2L128.2 614.2Z" fill="#5e0aa8"/>
<path d="M145.5 597.0L153.0 601.5L157.5 607.5L159.0 615.0L150.0 627.0L145.5 621.0L138.7 615.7Z" fill="#3a0c99"/>
<path d="M54.0 624.0L87.0 642.7M66.0 675.7L83.2 651.7M80.2 687.0L95.2 653.2M100.5 688.5L101.7 653.2M108.0 654.7L111.7 663.0L112.5 673.5L115.5 678.0L132.7 679.5L138.0 673.5L148.5 662.7" fill="none"/>
</g>
</g>

<g id="panel-c">
<text x="713.200" y="76" font-size="61.500" textLength="33.900" lengthAdjust="spacingAndGlyphs">c</text>
<text x="857.500" y="67" font-size="21" class="b" letter-spacing="0.600">x10<tspan font-size="14" dy="-5.300">-5</tspan></text>
<path d="M917 163.4H1282M917 228.0H1282M917 295.3H1282M917 360.5H1282M917 427.4H1282M917 494.3H1282M917 561.4H1282" stroke="#d2d2d2" stroke-width="2" fill="none"/>
<path d="M891 95.300H901.200V627H891M891 361H901.200" fill="none" stroke="#000" stroke-width="3.600"/>
<g font-size="25.600" class="b" text-anchor="end"><text x="881" y="104.200">4</text><text x="881" y="370.700">0</text><text x="881" y="637.200">-4</text></g>
<text transform="translate(747.500,496.500) rotate(-90)" font-size="35.500" class="b" textLength="272" lengthAdjust="spacingAndGlyphs">Macromolecular</text>
<text transform="translate(790.300,475.500) rotate(-90)" font-size="35.500" class="b" textLength="228.500" lengthAdjust="spacingAndGlyphs">tissue volume</text>
<text transform="translate(832.900,622.500) rotate(-90)" font-size="35.200" textLength="523" lengthAdjust="spacingAndGlyphs">(milliliters, normalized to children)</text>
<g stroke="#000" stroke-width="3" stroke-linejoin="miter">
<path d="M1012.4 206.3L999.5 206.3C996.6 211.9 987.7 229.4 982.4 240.0C977.1 250.6 971.5 260.0 967.5 270.0C963.5 280.0 960.6 290.0 958.5 300.0C956.4 310.0 955.1 320.0 954.9 330.0C954.6 340.0 954.9 350.0 957.0 360.0C959.1 370.0 963.8 380.0 967.5 390.0C971.2 400.0 975.6 410.0 979.4 420.0C983.1 430.0 987.2 440.0 990.0 450.0C992.8 460.0 994.6 470.0 996.0 480.0C997.4 490.0 997.7 500.0 998.3 510.0C998.9 520.0 999.0 530.0 999.8 540.0C1000.5 550.0 1002.2 562.7 1002.8 570.0C1003.4 577.3 1003.5 581.7 1003.6 584.0L1012.4 584.0 Z" fill="#4169e1"/>
<path d="M1012.4 111.6L1020.8 111.6C1020.4 115.5 1019.2 128.6 1018.5 135.0C1017.8 141.4 1016.7 145.0 1016.3 150.0C1015.9 155.0 1015.9 159.2 1016.0 165.0C1016.1 170.8 1016.1 177.5 1016.8 185.0C1017.5 192.5 1017.5 200.8 1020.0 210.0C1022.5 219.2 1026.0 230.0 1032.0 240.0C1038.0 250.0 1049.0 260.0 1056.0 270.0C1063.0 280.0 1069.3 290.0 1074.0 300.0C1078.7 310.0 1081.9 322.5 1084.0 330.0C1086.1 337.5 1087.2 340.0 1086.5 345.0C1085.8 350.0 1082.8 355.0 1079.9 360.0C1077.1 365.0 1072.7 370.0 1069.4 375.0C1066.2 380.0 1063.1 385.0 1060.4 390.0C1057.8 395.0 1055.5 400.0 1053.5 405.0C1051.5 410.0 1051.8 412.5 1048.4 420.0C1045.1 427.5 1037.4 441.0 1033.4 450.0C1029.4 459.0 1026.4 466.5 1024.4 474.0C1022.4 481.5 1022.0 488.3 1021.4 495.0C1020.8 501.7 1020.9 511.2 1020.8 514.4L1012.4 514.4 Z" fill="#cd5c5c"/>
<path d="M1189.6 153.5L1181.8 153.5C1181.4 157.9 1180.3 170.6 1179.4 180.0C1178.5 189.4 1177.8 200.0 1176.4 210.0C1175.1 220.0 1173.9 230.0 1171.3 240.0C1168.7 250.0 1165.3 260.0 1160.8 270.0C1156.3 280.0 1149.3 290.0 1144.3 300.0C1139.3 310.0 1133.4 322.5 1130.8 330.0C1128.2 337.5 1128.5 340.0 1128.4 345.0C1128.3 350.0 1129.1 355.0 1130.2 360.0C1131.3 365.0 1133.3 370.0 1135.3 375.0C1137.3 380.0 1139.2 382.5 1142.2 390.0C1145.2 397.5 1150.1 410.0 1153.3 420.0C1156.5 430.0 1159.2 440.0 1161.4 450.0C1163.7 460.0 1164.9 470.0 1166.8 480.0C1168.7 490.0 1170.8 500.0 1172.8 510.0C1174.8 520.0 1177.3 531.8 1178.8 540.0C1180.3 548.2 1181.3 556.1 1181.8 559.3L1189.6 559.3 Z" fill="#4169e1"/>
<path d="M1189.6 95.4L1199.8 95.4C1200.8 99.5 1203.4 110.9 1205.8 120.0C1208.2 129.1 1211.6 140.0 1214.2 150.0C1216.8 160.0 1219.3 170.0 1221.4 180.0C1223.5 190.0 1225.2 200.0 1226.8 210.0C1228.4 220.0 1229.9 230.0 1231.3 240.0C1232.7 250.0 1234.2 260.0 1234.9 270.0C1235.7 280.0 1236.2 290.0 1235.8 300.0C1235.4 310.0 1234.0 320.0 1232.8 330.0C1231.5 340.0 1230.2 350.0 1228.3 360.0C1226.4 370.0 1223.9 380.0 1221.4 390.0C1218.9 400.0 1215.9 410.0 1213.3 420.0C1210.7 430.0 1207.1 444.7 1205.8 450.0C1204.5 455.3 1205.4 451.7 1205.3 452.0L1189.6 452.0 Z" fill="#cd5c5c"/>
<rect x="995" y="296" width="17.400" height="109.800" fill="none"/>
<rect x="1012.4" y="296" width="20.400" height="78" fill="none"/>
<rect x="1171.3" y="308.800" width="18.300" height="113.500" fill="none"/>
<rect x="1189.6" y="216.500" width="19.800" height="131.500" fill="none"/>
</g>
<path d="M995 346.500H1012.4M1012.4 339.600H1032.8M1171.3 357H1189.6M1189.6 281.800H1209.4" stroke="#000" stroke-width="5.500" fill="none"/>
<path d="M1012.4 111.600V584M1189.6 95.400V559.300" stroke="#000" stroke-width="3.500" fill="none"/>
<g font-size="26" class="b"><text x="1037" y="87.600" fill="#4169e1">Child n=35</text><text x="1037" y="120" fill="#cd5c5c">Adult n=29</text></g>
<g font-size="22.500"><text x="1024" y="592" textLength="36" lengthAdjust="spacingAndGlyphs">n.s.</text><text x="1204.2" y="592.800" textLength="99" lengthAdjust="spacingAndGlyphs">two-sided</text><text x="1204" y="623.700">p = 0.003</text></g>
<g font-size="35.400" class="b"><text x="989" y="691.200">I-IV</text><text x="1141" y="691.200">Crus I</text></g>
</g>

<g id="panel-d">
<text x="1329.700" y="81" font-size="60" textLength="37" lengthAdjust="spacingAndGlyphs">d</text>
<path d="M1437 55.0H1986.5M1437 119.5H1986.5M1437 184.1H1986.5M1437 248.6H1986.5M1437 313.2H1986.5M1437 377.8H1986.5M1437 442.3H1986.5M1437 506.8H1986.5M1527.5 54.600V569.500M1619.3 54.600V569.500M1711.1 54.600V569.500M1802.9 54.600V569.500M1894.7 54.600V569.500M1986.5 54.600V569.500" stroke="#eeeeee" stroke-width="1.400" fill="none"/>
<g fill="#66d9b0" fill-opacity="0.18">
<circle cx="1732.7" cy="534.6" r="3.400"/><circle cx="1716.0" cy="548.9" r="3.400"/><circle cx="1728.3" cy="532.8" r="3.400"/><circle cx="1714.9" cy="554.5" r="3.400"/><circle cx="1711.3" cy="562.8" r="3.400"/><circle cx="1704.8" cy="536.4" r="3.400"/><circle cx="1722.4" cy="546.9" r="3.400"/><circle cx="1688.6" cy="498.1" r="3.400"/><circle cx="1697.4" cy="511.6" r="3.400"/><circle cx="1683.8" cy="506.4" r="3.400"/><circle cx="1694.7" cy="538.9" r="3.400"/><circle cx="1710.2" cy="558.1" r="3.400"/><circle cx="1702.8" cy="531.0" r="3.400"/><circle cx="1678.1" cy="449.4" r="3.400"/><circle cx="1655.5" cy="512.3" r="3.400"/><circle cx="1712.5" cy="557.2" r="3.400"/><circle cx="1696.8" cy="539.0" r="3.400"/><circle cx="1710.6" cy="563.5" r="3.400"/><circle cx="1708.8" cy="562.1" r="3.400"/><circle cx="1674.5" cy="423.8" r="3.400"/><circle cx="1743.5" cy="520.0" r="3.400"/><circle cx="1722.5" cy="536.3" r="3.400"/><circle cx="1697.8" cy="510.3" r="3.400"/><circle cx="1716.5" cy="551.0" r="3.400"/><circle cx="1711.3" cy="563.2" r="3.400"/><circle cx="1723.4" cy="546.8" r="3.400"/><circle cx="1743.7" cy="508.2" r="3.400"/><circle cx="1698.4" cy="503.4" r="3.400"/><circle cx="1752.4" cy="481.3" r="3.400"/><circle cx="1753.2" cy="465.6" r="3.400"/><circle cx="1733.8" cy="527.1" r="3.400"/><circle cx="1641.8" cy="399.0" r="3.400"/><circle cx="1696.0" cy="517.8" r="3.400"/><circle cx="1706.2" cy="546.2" r="3.400"/><circle cx="1722.9" cy="544.3" r="3.400"/><circle cx="1705.2" cy="556.3" r="3.400"/><circle cx="1738.9" cy="505.3" r="3.400"/><circle cx="1719.7" cy="542.7" r="3.400"/><circle cx="1723.0" cy="552.8" r="3.400"/><circle cx="1735.6" cy="485.1" r="3.400"/><circle cx="1716.3" cy="552.7" r="3.400"/><circle cx="1715.6" cy="553.7" r="3.400"/><circle cx="1717.4" cy="555.9" r="3.400"/><circle cx="1714.7" cy="555.0" r="3.400"/><circle cx="1703.9" cy="545.0" r="3.400"/><circle cx="1701.0" cy="524.1" r="3.400"/><circle cx="1754.6" cy="424.0" r="3.400"/><circle cx="1757.5" cy="472.4" r="3.400"/><circle cx="1698.2" cy="538.5" r="3.400"/><circle cx="1711.0" cy="561.3" r="3.400"/><circle cx="1753.4" cy="499.4" r="3.400"/><circle cx="1738.6" cy="532.7" r="3.400"/><circle cx="1715.3" cy="553.3" r="3.400"/><circle cx="1733.8" cy="504.3" r="3.400"/><circle cx="1707.9" cy="557.4" r="3.400"/><circle cx="1725.9" cy="543.7" r="3.400"/><circle cx="1735.2" cy="520.2" r="3.400"/><circle cx="1693.4" cy="512.6" r="3.400"/><circle cx="1706.1" cy="545.6" r="3.400"/><circle cx="1734.9" cy="518.5" r="3.400"/><circle cx="1719.4" cy="547.0" r="3.400"/><circle cx="1689.9" cy="505.5" r="3.400"/><circle cx="1717.3" cy="547.3" r="3.400"/><circle cx="1701.6" cy="499.0" r="3.400"/><circle cx="1697.1" cy="520.3" r="3.400"/><circle cx="1665.4" cy="427.5" r="3.400"/><circle cx="1710.9" cy="562.0" r="3.400"/><circle cx="1714.2" cy="557.0" r="3.400"/><circle cx="1711.4" cy="563.7" r="3.400"/><circle cx="1721.9" cy="547.7" r="3.400"/><circle cx="1692.1" cy="483.6" r="3.400"/><circle cx="1712.1" cy="562.1" r="3.400"/><circle cx="1676.1" cy="498.6" r="3.400"/><circle cx="1670.2" cy="427.0" r="3.400"/><circle cx="1715.9" cy="560.4" r="3.400"/><circle cx="1701.3" cy="538.6" r="3.400"/><circle cx="1705.2" cy="532.3" r="3.400"/><circle cx="1723.4" cy="548.9" r="3.400"/><circle cx="1707.6" cy="554.8" r="3.400"/><circle cx="1777.1" cy="456.6" r="3.400"/><circle cx="1724.9" cy="551.0" r="3.400"/><circle cx="1729.8" cy="531.4" r="3.400"/><circle cx="1710.5" cy="560.9" r="3.400"/><circle cx="1691.4" cy="480.7" r="3.400"/><circle cx="1646.3" cy="465.9" r="3.400"/><circle cx="1715.1" cy="557.8" r="3.400"/><circle cx="1718.5" cy="547.7" r="3.400"/><circle cx="1729.7" cy="532.9" r="3.400"/><circle cx="1746.5" cy="534.6" r="3.400"/><circle cx="1722.2" cy="542.6" r="3.400"/><circle cx="1690.6" cy="490.4" r="3.400"/><circle cx="1729.4" cy="528.2" r="3.400"/><circle cx="1717.2" cy="548.4" r="3.400"/><circle cx="1708.0" cy="554.3" r="3.400"/><circle cx="1720.0" cy="549.0" r="3.400"/><circle cx="1737.1" cy="523.1" r="3.400"/><circle cx="1657.2" cy="440.7" r="3.400"/><circle cx="1764.8" cy="465.0" r="3.400"/><circle cx="1708.2" cy="552.4" r="3.400"/><circle cx="1701.7" cy="538.6" r="3.400"/><circle cx="1691.5" cy="522.2" r="3.400"/><circle cx="1683.7" cy="489.7" r="3.400"/><circle cx="1746.0" cy="528.9" r="3.400"/><circle cx="1654.2" cy="400.0" r="3.400"/><circle cx="1703.4" cy="531.3" r="3.400"/><circle cx="1704.8" cy="558.9" r="3.400"/><circle cx="1706.0" cy="540.6" r="3.400"/><circle cx="1706.2" cy="553.5" r="3.400"/><circle cx="1743.9" cy="496.5" r="3.400"/><circle cx="1695.7" cy="530.7" r="3.400"/><circle cx="1696.7" cy="536.6" r="3.400"/><circle cx="1779.8" cy="469.6" r="3.400"/><circle cx="1717.2" cy="558.0" r="3.400"/><circle cx="1737.0" cy="511.5" r="3.400"/><circle cx="1739.2" cy="541.5" r="3.400"/><circle cx="1697.2" cy="523.8" r="3.400"/><circle cx="1735.4" cy="529.3" r="3.400"/><circle cx="1734.9" cy="532.6" r="3.400"/><circle cx="1705.4" cy="550.0" r="3.400"/><circle cx="1712.1" cy="557.1" r="3.400"/><circle cx="1725.8" cy="545.1" r="3.400"/><circle cx="1765.3" cy="503.6" r="3.400"/><circle cx="1716.6" cy="559.5" r="3.400"/><circle cx="1734.9" cy="508.5" r="3.400"/><circle cx="1701.5" cy="529.2" r="3.400"/><circle cx="1689.6" cy="532.6" r="3.400"/><circle cx="1701.1" cy="525.3" r="3.400"/><circle cx="1698.0" cy="546.5" r="3.400"/><circle cx="1727.4" cy="514.9" r="3.400"/><circle cx="1664.7" cy="442.9" r="3.400"/><circle cx="1701.5" cy="538.8" r="3.400"/><circle cx="1717.7" cy="554.3" r="3.400"/><circle cx="1724.6" cy="555.1" r="3.400"/><circle cx="1736.2" cy="519.5" r="3.400"/><circle cx="1711.5" cy="564.3" r="3.400"/><circle cx="1737.7" cy="482.5" r="3.400"/><circle cx="1725.1" cy="548.2" r="3.400"/><circle cx="1778.4" cy="427.6" r="3.400"/><circle cx="1714.0" cy="559.9" r="3.400"/><circle cx="1702.1" cy="540.3" r="3.400"/><circle cx="1707.5" cy="558.1" r="3.400"/><circle cx="1754.9" cy="468.1" r="3.400"/><circle cx="1667.3" cy="401.5" r="3.400"/><circle cx="1722.7" cy="546.7" r="3.400"/><circle cx="1721.1" cy="549.0" r="3.400"/><circle cx="1663.6" cy="439.4" r="3.400"/><circle cx="1723.9" cy="534.2" r="3.400"/><circle cx="1689.8" cy="506.9" r="3.400"/><circle cx="1716.5" cy="555.9" r="3.400"/><circle cx="1671.0" cy="497.4" r="3.400"/><circle cx="1711.9" cy="562.3" r="3.400"/><circle cx="1761.0" cy="507.0" r="3.400"/><circle cx="1681.5" cy="502.4" r="3.400"/><circle cx="1722.9" cy="547.2" r="3.400"/><circle cx="1744.3" cy="513.7" r="3.400"/><circle cx="1676.9" cy="535.5" r="3.400"/><circle cx="1707.4" cy="554.7" r="3.400"/><circle cx="1642.6" cy="406.0" r="3.400"/><circle cx="1706.0" cy="548.7" r="3.400"/><circle cx="1709.9" cy="556.4" r="3.400"/><circle cx="1705.3" cy="545.1" r="3.400"/><circle cx="1713.9" cy="558.7" r="3.400"/><circle cx="1671.9" cy="436.6" r="3.400"/><circle cx="1699.6" cy="544.6" r="3.400"/><circle cx="1699.3" cy="549.6" r="3.400"/><circle cx="1715.1" cy="558.7" r="3.400"/><circle cx="1672.7" cy="421.2" r="3.400"/><circle cx="1743.7" cy="477.6" r="3.400"/><circle cx="1685.6" cy="491.4" r="3.400"/><circle cx="1727.8" cy="525.9" r="3.400"/><circle cx="1682.1" cy="486.2" r="3.400"/><circle cx="1724.9" cy="511.2" r="3.400"/><circle cx="1711.5" cy="565.3" r="3.400"/><circle cx="1773.9" cy="443.7" r="3.400"/><circle cx="1730.5" cy="528.8" r="3.400"/><circle cx="1703.0" cy="549.5" r="3.400"/><circle cx="1737.4" cy="510.7" r="3.400"/><circle cx="1701.1" cy="552.5" r="3.400"/><circle cx="1718.3" cy="522.0" r="3.400"/><circle cx="1744.1" cy="515.0" r="3.400"/><circle cx="1759.0" cy="426.7" r="3.400"/><circle cx="1709.4" cy="558.5" r="3.400"/><circle cx="1806.7" cy="437.7" r="3.400"/><circle cx="1705.7" cy="543.6" r="3.400"/><circle cx="1733.7" cy="537.0" r="3.400"/><circle cx="1720.1" cy="549.4" r="3.400"/><circle cx="1649.6" cy="418.1" r="3.400"/><circle cx="1735.0" cy="518.1" r="3.400"/><circle cx="1662.8" cy="514.2" r="3.400"/><circle cx="1711.3" cy="563.8" r="3.400"/><circle cx="1689.0" cy="517.0" r="3.400"/><circle cx="1693.6" cy="547.5" r="3.400"/><circle cx="1718.2" cy="554.6" r="3.400"/><circle cx="1662.9" cy="477.1" r="3.400"/><circle cx="1700.2" cy="548.3" r="3.400"/><circle cx="1712.1" cy="564.4" r="3.400"/><circle cx="1724.1" cy="529.9" r="3.400"/><circle cx="1708.5" cy="554.5" r="3.400"/><circle cx="1674.4" cy="432.1" r="3.400"/><circle cx="1709.3" cy="560.6" r="3.400"/><circle cx="1716.2" cy="551.1" r="3.400"/><circle cx="1758.2" cy="478.6" r="3.400"/><circle cx="1714.2" cy="560.5" r="3.400"/><circle cx="1750.0" cy="502.9" r="3.400"/><circle cx="1736.6" cy="528.7" r="3.400"/><circle cx="1692.4" cy="512.6" r="3.400"/><circle cx="1713.2" cy="557.4" r="3.400"/><circle cx="1714.5" cy="562.2" r="3.400"/><circle cx="1727.8" cy="548.3" r="3.400"/><circle cx="1704.6" cy="554.0" r="3.400"/><circle cx="1689.7" cy="511.9" r="3.400"/><circle cx="1709.3" cy="563.3" r="3.400"/><circle cx="1706.5" cy="548.1" r="3.400"/><circle cx="1731.3" cy="508.4" r="3.400"/><circle cx="1718.9" cy="552.7" r="3.400"/><circle cx="1649.4" cy="476.2" r="3.400"/><circle cx="1688.3" cy="473.8" r="3.400"/><circle cx="1692.8" cy="508.3" r="3.400"/><circle cx="1705.1" cy="537.4" r="3.400"/><circle cx="1735.6" cy="506.1" r="3.400"/><circle cx="1677.4" cy="431.6" r="3.400"/><circle cx="1709.1" cy="560.0" r="3.400"/><circle cx="1700.7" cy="520.3" r="3.400"/><circle cx="1729.5" cy="539.7" r="3.400"/><circle cx="1760.9" cy="504.3" r="3.400"/><circle cx="1700.7" cy="530.0" r="3.400"/><circle cx="1712.4" cy="563.5" r="3.400"/><circle cx="1694.6" cy="500.8" r="3.400"/><circle cx="1702.5" cy="530.9" r="3.400"/><circle cx="1732.3" cy="518.1" r="3.400"/><circle cx="1660.9" cy="445.9" r="3.400"/><circle cx="1719.9" cy="557.8" r="3.400"/><circle cx="1713.6" cy="558.5" r="3.400"/><circle cx="1678.3" cy="526.4" r="3.400"/><circle cx="1724.2" cy="532.4" r="3.400"/><circle cx="1738.4" cy="535.8" r="3.400"/><circle cx="1702.7" cy="524.5" r="3.400"/><circle cx="1670.3" cy="528.8" r="3.400"/><circle cx="1700.7" cy="538.5" r="3.400"/><circle cx="1766.9" cy="464.0" r="3.400"/><circle cx="1705.8" cy="549.3" r="3.400"/><circle cx="1747.6" cy="481.9" r="3.400"/><circle cx="1745.9" cy="467.9" r="3.400"/><circle cx="1679.5" cy="466.5" r="3.400"/><circle cx="1692.0" cy="539.4" r="3.400"/><circle cx="1754.7" cy="457.3" r="3.400"/><circle cx="1698.5" cy="532.7" r="3.400"/><circle cx="1776.8" cy="450.5" r="3.400"/><circle cx="1715.0" cy="559.5" r="3.400"/><circle cx="1667.1" cy="518.7" r="3.400"/><circle cx="1702.1" cy="541.3" r="3.400"/><circle cx="1723.5" cy="543.1" r="3.400"/><circle cx="1714.1" cy="561.5" r="3.400"/><circle cx="1687.5" cy="503.0" r="3.400"/><circle cx="1700.2" cy="533.1" r="3.400"/><circle cx="1705.8" cy="553.8" r="3.400"/><circle cx="1673.4" cy="410.1" r="3.400"/><circle cx="1706.6" cy="551.3" r="3.400"/><circle cx="1717.1" cy="548.5" r="3.400"/><circle cx="1704.2" cy="548.9" r="3.400"/><circle cx="1686.4" cy="492.2" r="3.400"/><circle cx="1708.6" cy="554.6" r="3.400"/><circle cx="1657.5" cy="402.0" r="3.400"/><circle cx="1686.5" cy="485.2" r="3.400"/><circle cx="1671.5" cy="506.4" r="3.400"/><circle cx="1717.1" cy="559.6" r="3.400"/><circle cx="1673.2" cy="415.1" r="3.400"/><circle cx="1701.3" cy="527.8" r="3.400"/><circle cx="1685.0" cy="500.7" r="3.400"/><circle cx="1709.6" cy="556.3" r="3.400"/><circle cx="1754.4" cy="469.0" r="3.400"/><circle cx="1694.7" cy="520.2" r="3.400"/><circle cx="1666.0" cy="434.8" r="3.400"/><circle cx="1778.6" cy="432.9" r="3.400"/><circle cx="1708.0" cy="556.5" r="3.400"/><circle cx="1661.4" cy="513.4" r="3.400"/><circle cx="1701.9" cy="528.0" r="3.400"/><circle cx="1711.7" cy="564.8" r="3.400"/><circle cx="1742.0" cy="469.9" r="3.400"/><circle cx="1698.0" cy="529.5" r="3.400"/><circle cx="1717.7" cy="558.4" r="3.400"/><circle cx="1683.9" cy="498.1" r="3.400"/><circle cx="1769.1" cy="490.6" r="3.400"/><circle cx="1691.6" cy="509.3" r="3.400"/><circle cx="1712.3" cy="556.3" r="3.400"/><circle cx="1702.8" cy="534.7" r="3.400"/><circle cx="1655.2" cy="486.5" r="3.400"/><circle cx="1703.1" cy="551.7" r="3.400"/><circle cx="1705.9" cy="539.0" r="3.400"/><circle cx="1691.4" cy="519.9" r="3.400"/><circle cx="1708.6" cy="557.6" r="3.400"/><circle cx="1708.9" cy="551.6" r="3.400"/><circle cx="1731.6" cy="538.6" r="3.400"/><circle cx="1692.4" cy="536.5" r="3.400"/><circle cx="1730.5" cy="520.3" r="3.400"/><circle cx="1721.1" cy="529.8" r="3.400"/><circle cx="1751.3" cy="482.2" r="3.400"/><circle cx="1666.8" cy="458.8" r="3.400"/><circle cx="1664.4" cy="400.4" r="3.400"/><circle cx="1692.0" cy="489.6" r="3.400"/><circle cx="1709.8" cy="560.4" r="3.400"/><circle cx="1744.9" cy="495.1" r="3.400"/><circle cx="1675.9" cy="484.6" r="3.400"/><circle cx="1715.4" cy="552.3" r="3.400"/><circle cx="1707.5" cy="551.7" r="3.400"/><circle cx="1667.9" cy="448.7" r="3.400"/><circle cx="1734.8" cy="531.2" r="3.400"/><circle cx="1692.4" cy="541.5" r="3.400"/><circle cx="1749.0" cy="526.3" r="3.400"/><circle cx="1701.7" cy="513.0" r="3.400"/><circle cx="1697.3" cy="528.5" r="3.400"/><circle cx="1717.1" cy="552.4" r="3.400"/><circle cx="1707.7" cy="549.2" r="3.400"/><circle cx="1712.5" cy="559.2" r="3.400"/><circle cx="1708.2" cy="555.5" r="3.400"/><circle cx="1763.3" cy="405.4" r="3.400"/><circle cx="1708.6" cy="560.6" r="3.400"/><circle cx="1758.1" cy="443.4" r="3.400"/><circle cx="1748.9" cy="442.3" r="3.400"/><circle cx="1777.0" cy="409.6" r="3.400"/><circle cx="1713.9" cy="560.9" r="3.400"/><circle cx="1724.3" cy="514.6" r="3.400"/><circle cx="1716.4" cy="550.4" r="3.400"/><circle cx="1699.1" cy="528.8" r="3.400"/><circle cx="1724.2" cy="522.7" r="3.400"/><circle cx="1751.5" cy="535.8" r="3.400"/><circle cx="1708.7" cy="560.4" r="3.400"/><circle cx="1788.7" cy="459.1" r="3.400"/><circle cx="1755.5" cy="512.0" r="3.400"/><circle cx="1697.2" cy="539.8" r="3.400"/><circle cx="1751.0" cy="497.9" r="3.400"/><circle cx="1762.0" cy="470.5" r="3.400"/><circle cx="1710.6" cy="560.5" r="3.400"/><circle cx="1724.0" cy="537.2" r="3.400"/><circle cx="1727.6" cy="501.4" r="3.400"/><circle cx="1733.3" cy="520.0" r="3.400"/><circle cx="1745.8" cy="472.3" r="3.400"/><circle cx="1709.3" cy="562.0" r="3.400"/><circle cx="1703.4" cy="525.0" r="3.400"/><circle cx="1704.6" cy="552.3" r="3.400"/><circle cx="1750.2" cy="503.3" r="3.400"/><circle cx="1704.6" cy="558.4" r="3.400"/><circle cx="1724.9" cy="555.5" r="3.400"/><circle cx="1705.0" cy="553.0" r="3.400"/><circle cx="1693.9" cy="523.3" r="3.400"/><circle cx="1730.9" cy="517.5" r="3.400"/><circle cx="1733.0" cy="521.6" r="3.400"/><circle cx="1768.8" cy="421.5" r="3.400"/><circle cx="1708.3" cy="555.1" r="3.400"/><circle cx="1713.6" cy="558.4" r="3.400"/><circle cx="1719.0" cy="554.5" r="3.400"/><circle cx="1708.1" cy="549.0" r="3.400"/><circle cx="1677.3" cy="481.8" r="3.400"/><circle cx="1713.5" cy="562.0" r="3.400"/><circle cx="1732.7" cy="513.1" r="3.400"/><circle cx="1685.6" cy="493.8" r="3.400"/><circle cx="1693.2" cy="504.9" r="3.400"/><circle cx="1722.9" cy="547.3" r="3.400"/><circle cx="1734.6" cy="522.2" r="3.400"/><circle cx="1726.5" cy="538.8" r="3.400"/><circle cx="1743.3" cy="522.3" r="3.400"/><circle cx="1665.5" cy="401.4" r="3.400"/><circle cx="1723.7" cy="510.2" r="3.400"/><circle cx="1711.6" cy="563.4" r="3.400"/><circle cx="1701.3" cy="535.8" r="3.400"/><circle cx="1732.8" cy="533.0" r="3.400"/><circle cx="1718.6" cy="554.3" r="3.400"/><circle cx="1716.4" cy="552.1" r="3.400"/><circle cx="1749.3" cy="420.2" r="3.400"/><circle cx="1711.2" cy="564.8" r="3.400"/><circle cx="1694.2" cy="504.9" r="3.400"/><circle cx="1734.0" cy="466.0" r="3.400"/><circle cx="1707.1" cy="559.9" r="3.400"/><circle cx="1678.0" cy="496.5" r="3.400"/><circle cx="1705.3" cy="542.0" r="3.400"/><circle cx="1728.4" cy="540.8" r="3.400"/><circle cx="1737.6" cy="427.6" r="3.400"/><circle cx="1699.5" cy="538.0" r="3.400"/><circle cx="1714.1" cy="556.9" r="3.400"/><circle cx="1778.5" cy="462.2" r="3.400"/><circle cx="1721.8" cy="547.6" r="3.400"/><circle cx="1746.9" cy="475.7" r="3.400"/><circle cx="1709.8" cy="558.3" r="3.400"/><circle cx="1712.6" cy="560.7" r="3.400"/><circle cx="1678.1" cy="440.3" r="3.400"/><circle cx="1747.8" cy="491.0" r="3.400"/><circle cx="1707.9" cy="556.7" r="3.400"/><circle cx="1722.7" cy="522.1" r="3.400"/><circle cx="1727.7" cy="534.1" r="3.400"/><circle cx="1704.1" cy="551.3" r="3.400"/><circle cx="1673.5" cy="536.4" r="3.400"/><circle cx="1792.9" cy="407.2" r="3.400"/><circle cx="1737.6" cy="531.7" r="3.400"/><circle cx="1706.7" cy="557.8" r="3.400"/><circle cx="1706.7" cy="555.4" r="3.400"/><circle cx="1725.9" cy="526.1" r="3.400"/><circle cx="1696.8" cy="527.9" r="3.400"/><circle cx="1673.5" cy="518.0" r="3.400"/><circle cx="1731.4" cy="531.3" r="3.400"/><circle cx="1699.8" cy="526.0" r="3.400"/><circle cx="1711.1" cy="561.3" r="3.400"/><circle cx="1723.4" cy="555.9" r="3.400"/><circle cx="1676.2" cy="489.8" r="3.400"/><circle cx="1693.5" cy="507.1" r="3.400"/><circle cx="1720.0" cy="556.5" r="3.400"/><circle cx="1713.2" cy="559.2" r="3.400"/><circle cx="1736.8" cy="505.4" r="3.400"/><circle cx="1711.7" cy="562.7" r="3.400"/><circle cx="1672.3" cy="453.2" r="3.400"/><circle cx="1723.9" cy="537.3" r="3.400"/><circle cx="1701.1" cy="531.1" r="3.400"/><circle cx="1708.3" cy="547.2" r="3.400"/><circle cx="1700.4" cy="532.1" r="3.400"/><circle cx="1720.7" cy="546.7" r="3.400"/><circle cx="1757.2" cy="498.0" r="3.400"/><circle cx="1703.2" cy="545.4" r="3.400"/><circle cx="1728.0" cy="528.4" r="3.400"/><circle cx="1720.3" cy="544.4" r="3.400"/><circle cx="1717.6" cy="552.4" r="3.400"/><circle cx="1769.4" cy="426.0" r="3.400"/><circle cx="1739.4" cy="473.9" r="3.400"/><circle cx="1704.6" cy="538.9" r="3.400"/><circle cx="1670.9" cy="421.2" r="3.400"/><circle cx="1682.1" cy="488.0" r="3.400"/><circle cx="1707.1" cy="555.1" r="3.400"/><circle cx="1732.1" cy="505.9" r="3.400"/><circle cx="1711.4" cy="562.5" r="3.400"/><circle cx="1740.7" cy="522.4" r="3.400"/><circle cx="1694.8" cy="533.3" r="3.400"/><circle cx="1702.2" cy="533.5" r="3.400"/><circle cx="1683.0" cy="450.0" r="3.400"/><circle cx="1765.4" cy="456.6" r="3.400"/><circle cx="1682.6" cy="485.6" r="3.400"/><circle cx="1702.3" cy="536.8" r="3.400"/><circle cx="1702.5" cy="534.3" r="3.400"/><circle cx="1719.0" cy="548.1" r="3.400"/><circle cx="1708.6" cy="559.4" r="3.400"/><circle cx="1663.3" cy="479.2" r="3.400"/><circle cx="1701.1" cy="544.1" r="3.400"/><circle cx="1730.1" cy="543.9" r="3.400"/><circle cx="1699.4" cy="525.5" r="3.400"/><circle cx="1757.3" cy="405.8" r="3.400"/><circle cx="1692.8" cy="524.9" r="3.400"/><circle cx="1732.4" cy="532.0" r="3.400"/><circle cx="1696.8" cy="484.4" r="3.400"/><circle cx="1676.8" cy="506.3" r="3.400"/><circle cx="1684.6" cy="485.1" r="3.400"/><circle cx="1752.4" cy="525.6" r="3.400"/><circle cx="1737.9" cy="504.6" r="3.400"/><circle cx="1733.0" cy="525.0" r="3.400"/><circle cx="1699.4" cy="525.6" r="3.400"/><circle cx="1667.0" cy="448.6" r="3.400"/><circle cx="1699.4" cy="551.1" r="3.400"/><circle cx="1713.8" cy="557.1" r="3.400"/><circle cx="1670.6" cy="482.9" r="3.400"/><circle cx="1731.2" cy="518.4" r="3.400"/><circle cx="1755.7" cy="521.5" r="3.400"/><circle cx="1675.1" cy="441.9" r="3.400"/><circle cx="1699.9" cy="533.6" r="3.400"/><circle cx="1744.8" cy="488.8" r="3.400"/><circle cx="1711.8" cy="561.7" r="3.400"/><circle cx="1741.2" cy="446.4" r="3.400"/><circle cx="1721.4" cy="550.2" r="3.400"/><circle cx="1722.9" cy="549.1" r="3.400"/><circle cx="1755.1" cy="487.6" r="3.400"/><circle cx="1713.8" cy="561.9" r="3.400"/><circle cx="1721.6" cy="554.1" r="3.400"/><circle cx="1704.7" cy="541.4" r="3.400"/><circle cx="1728.1" cy="518.9" r="3.400"/><circle cx="1719.6" cy="555.5" r="3.400"/><circle cx="1734.8" cy="537.1" r="3.400"/><circle cx="1791.9" cy="428.4" r="3.400"/><circle cx="1723.0" cy="549.4" r="3.400"/><circle cx="1723.4" cy="543.2" r="3.400"/><circle cx="1708.3" cy="551.4" r="3.400"/><circle cx="1706.2" cy="545.6" r="3.400"/><circle cx="1703.0" cy="534.9" r="3.400"/><circle cx="1742.3" cy="487.8" r="3.400"/><circle cx="1724.0" cy="522.6" r="3.400"/><circle cx="1722.4" cy="544.7" r="3.400"/><circle cx="1727.0" cy="517.1" r="3.400"/><circle cx="1651.7" cy="413.7" r="3.400"/><circle cx="1698.9" cy="520.1" r="3.400"/><circle cx="1723.4" cy="544.5" r="3.400"/><circle cx="1739.7" cy="534.5" r="3.400"/><circle cx="1778.6" cy="497.0" r="3.400"/><circle cx="1702.1" cy="538.9" r="3.400"/><circle cx="1752.7" cy="504.2" r="3.400"/><circle cx="1727.9" cy="531.5" r="3.400"/><circle cx="1756.4" cy="471.8" r="3.400"/><circle cx="1739.5" cy="522.2" r="3.400"/><circle cx="1718.7" cy="550.0" r="3.400"/><circle cx="1649.5" cy="460.7" r="3.400"/><circle cx="1729.6" cy="531.9" r="3.400"/><circle cx="1690.1" cy="535.6" r="3.400"/><circle cx="1696.6" cy="522.2" r="3.400"/><circle cx="1694.5" cy="483.0" r="3.400"/><circle cx="1712.2" cy="564.9" r="3.400"/><circle cx="1704.1" cy="544.8" r="3.400"/><circle cx="1708.0" cy="548.8" r="3.400"/><circle cx="1675.7" cy="529.1" r="3.400"/><circle cx="1727.7" cy="527.8" r="3.400"/><circle cx="1695.2" cy="537.8" r="3.400"/><circle cx="1689.4" cy="501.1" r="3.400"/><circle cx="1724.1" cy="552.3" r="3.400"/><circle cx="1702.4" cy="555.4" r="3.400"/><circle cx="1733.1" cy="528.4" r="3.400"/><circle cx="1660.7" cy="443.1" r="3.400"/><circle cx="1701.6" cy="549.1" r="3.400"/><circle cx="1722.0" cy="547.4" r="3.400"/><circle cx="1722.0" cy="546.8" r="3.400"/><circle cx="1832.8" cy="417.5" r="3.400"/><circle cx="1689.6" cy="532.6" r="3.400"/><circle cx="1697.3" cy="506.8" r="3.400"/><circle cx="1698.4" cy="548.3" r="3.400"/><circle cx="1704.3" cy="538.4" r="3.400"/><circle cx="1715.6" cy="554.2" r="3.400"/><circle cx="1724.7" cy="546.1" r="3.400"/><circle cx="1688.4" cy="509.6" r="3.400"/><circle cx="1697.5" cy="524.5" r="3.400"/><circle cx="1703.6" cy="543.3" r="3.400"/><circle cx="1731.3" cy="523.7" r="3.400"/><circle cx="1708.5" cy="549.2" r="3.400"/><circle cx="1804.9" cy="402.8" r="3.400"/><circle cx="1721.2" cy="553.0" r="3.400"/><circle cx="1760.4" cy="474.0" r="3.400"/><circle cx="1702.6" cy="549.4" r="3.400"/><circle cx="1734.1" cy="522.4" r="3.400"/><circle cx="1705.4" cy="551.5" r="3.400"/><circle cx="1752.9" cy="463.4" r="3.400"/><circle cx="1683.0" cy="450.9" r="3.400"/><circle cx="1710.2" cy="558.2" r="3.400"/><circle cx="1672.8" cy="469.4" r="3.400"/><circle cx="1792.9" cy="424.8" r="3.400"/><circle cx="1697.6" cy="528.3" r="3.400"/><circle cx="1712.1" cy="565.0" r="3.400"/><circle cx="1700.1" cy="554.0" r="3.400"/><circle cx="1790.1" cy="451.5" r="3.400"/><circle cx="1720.1" cy="546.3" r="3.400"/><circle cx="1690.5" cy="507.9" r="3.400"/><circle cx="1677.8" cy="499.1" r="3.400"/><circle cx="1712.8" cy="559.3" r="3.400"/><circle cx="1710.1" cy="557.1" r="3.400"/><circle cx="1694.9" cy="530.0" r="3.400"/><circle cx="1746.0" cy="527.0" r="3.400"/><circle cx="1702.7" cy="546.9" r="3.400"/><circle cx="1746.4" cy="505.1" r="3.400"/><circle cx="1707.8" cy="546.4" r="3.400"/><circle cx="1692.4" cy="501.5" r="3.400"/><circle cx="1740.4" cy="520.2" r="3.400"/><circle cx="1706.2" cy="546.5" r="3.400"/><circle cx="1703.1" cy="534.9" r="3.400"/><circle cx="1699.8" cy="540.7" r="3.400"/><circle cx="1714.3" cy="558.1" r="3.400"/><circle cx="1691.3" cy="495.0" r="3.400"/><circle cx="1723.8" cy="539.8" r="3.400"/><circle cx="1686.7" cy="498.9" r="3.400"/><circle cx="1717.4" cy="548.9" r="3.400"/><circle cx="1707.8" cy="560.4" r="3.400"/><circle cx="1701.9" cy="557.6" r="3.400"/><circle cx="1715.2" cy="547.0" r="3.400"/><circle cx="1747.2" cy="424.4" r="3.400"/><circle cx="1723.8" cy="520.3" r="3.400"/><circle cx="1697.4" cy="534.0" r="3.400"/><circle cx="1702.6" cy="539.1" r="3.400"/><circle cx="1695.5" cy="511.5" r="3.400"/><circle cx="1719.4" cy="547.4" r="3.400"/><circle cx="1762.2" cy="398.3" r="3.400"/><circle cx="1736.8" cy="509.3" r="3.400"/><circle cx="1699.7" cy="533.6" r="3.400"/><circle cx="1711.4" cy="561.6" r="3.400"/><circle cx="1681.1" cy="465.3" r="3.400"/><circle cx="1775.4" cy="455.5" r="3.400"/><circle cx="1682.9" cy="521.8" r="3.400"/><circle cx="1719.2" cy="550.7" r="3.400"/><circle cx="1716.2" cy="555.8" r="3.400"/><circle cx="1721.7" cy="533.6" r="3.400"/><circle cx="1700.3" cy="521.3" r="3.400"/><circle cx="1675.0" cy="489.6" r="3.400"/><circle cx="1685.4" cy="523.4" r="3.400"/><circle cx="1748.2" cy="522.8" r="3.400"/><circle cx="1742.9" cy="527.5" r="3.400"/><circle cx="1734.4" cy="505.6" r="3.400"/><circle cx="1735.9" cy="499.2" r="3.400"/><circle cx="1715.0" cy="556.4" r="3.400"/><circle cx="1779.1" cy="401.5" r="3.400"/><circle cx="1748.0" cy="462.2" r="3.400"/><circle cx="1728.9" cy="535.6" r="3.400"/><circle cx="1695.7" cy="508.0" r="3.400"/><circle cx="1719.7" cy="534.2" r="3.400"/><circle cx="1726.1" cy="536.5" r="3.400"/><circle cx="1704.1" cy="534.5" r="3.400"/><circle cx="1740.0" cy="528.4" r="3.400"/><circle cx="1709.4" cy="557.7" r="3.400"/><circle cx="1748.9" cy="472.3" r="3.400"/><circle cx="1741.2" cy="516.3" r="3.400"/><circle cx="1682.1" cy="499.7" r="3.400"/><circle cx="1727.3" cy="536.2" r="3.400"/><circle cx="1702.8" cy="539.1" r="3.400"/><circle cx="1747.2" cy="488.4" r="3.400"/><circle cx="1736.2" cy="504.1" r="3.400"/><circle cx="1707.2" cy="556.4" r="3.400"/><circle cx="1728.6" cy="531.7" r="3.400"/><circle cx="1741.1" cy="509.2" r="3.400"/><circle cx="1705.4" cy="545.5" r="3.400"/><circle cx="1706.5" cy="550.0" r="3.400"/><circle cx="1778.7" cy="443.6" r="3.400"/><circle cx="1730.9" cy="522.4" r="3.400"/><circle cx="1714.5" cy="557.2" r="3.400"/><circle cx="1783.8" cy="420.4" r="3.400"/><circle cx="1748.9" cy="527.8" r="3.400"/><circle cx="1707.0" cy="551.6" r="3.400"/><circle cx="1790.4" cy="450.2" r="3.400"/><circle cx="1721.9" cy="549.0" r="3.400"/><circle cx="1706.0" cy="551.8" r="3.400"/><circle cx="1725.2" cy="536.3" r="3.400"/><circle cx="1685.4" cy="479.1" r="3.400"/><circle cx="1746.1" cy="474.4" r="3.400"/><circle cx="1724.7" cy="551.5" r="3.400"/><circle cx="1687.5" cy="540.3" r="3.400"/><circle cx="1711.4" cy="562.9" r="3.400"/><circle cx="1693.6" cy="498.1" r="3.400"/><circle cx="1705.5" cy="545.2" r="3.400"/><circle cx="1693.1" cy="527.3" r="3.400"/><circle cx="1682.1" cy="470.7" r="3.400"/><circle cx="1688.6" cy="501.9" r="3.400"/><circle cx="1694.0" cy="504.8" r="3.400"/><circle cx="1711.1" cy="560.4" r="3.400"/><circle cx="1694.1" cy="539.4" r="3.400"/><circle cx="1753.3" cy="415.6" r="3.400"/><circle cx="1750.5" cy="500.9" r="3.400"/><circle cx="1659.0" cy="443.6" r="3.400"/><circle cx="1732.5" cy="539.9" r="3.400"/><circle cx="1731.8" cy="535.8" r="3.400"/><circle cx="1715.9" cy="553.5" r="3.400"/><circle cx="1682.5" cy="503.4" r="3.400"/><circle cx="1729.7" cy="533.6" r="3.400"/><circle cx="1740.2" cy="450.4" r="3.400"/><circle cx="1754.2" cy="424.7" r="3.400"/><circle cx="1642.5" cy="414.2" r="3.400"/><circle cx="1708.3" cy="555.2" r="3.400"/><circle cx="1722.5" cy="546.0" r="3.400"/><circle cx="1771.8" cy="492.4" r="3.400"/><circle cx="1735.7" cy="540.9" r="3.400"/><circle cx="1691.0" cy="534.2" r="3.400"/><circle cx="1717.8" cy="552.4" r="3.400"/><circle cx="1685.2" cy="508.6" r="3.400"/><circle cx="1741.3" cy="541.1" r="3.400"/><circle cx="1729.7" cy="527.5" r="3.400"/><circle cx="1694.5" cy="495.5" r="3.400"/><circle cx="1733.7" cy="544.1" r="3.400"/><circle cx="1655.6" cy="409.0" r="3.400"/><circle cx="1692.4" cy="530.3" r="3.400"/><circle cx="1765.1" cy="487.4" r="3.400"/><circle cx="1762.4" cy="495.3" r="3.400"/><circle cx="1672.4" cy="466.7" r="3.400"/><circle cx="1714.4" cy="556.9" r="3.400"/><circle cx="1714.5" cy="555.5" r="3.400"/><circle cx="1728.6" cy="549.2" r="3.400"/><circle cx="1735.8" cy="499.1" r="3.400"/><circle cx="1706.7" cy="559.8" r="3.400"/><circle cx="1715.1" cy="560.6" r="3.400"/><circle cx="1691.9" cy="520.8" r="3.400"/><circle cx="1699.9" cy="522.2" r="3.400"/><circle cx="1760.2" cy="491.4" r="3.400"/><circle cx="1697.5" cy="503.2" r="3.400"/><circle cx="1682.5" cy="465.1" r="3.400"/><circle cx="1728.1" cy="499.6" r="3.400"/><circle cx="1782.2" cy="500.5" r="3.400"/><circle cx="1690.0" cy="507.0" r="3.400"/><circle cx="1674.7" cy="483.5" r="3.400"/><circle cx="1749.1" cy="511.5" r="3.400"/><circle cx="1709.0" cy="562.5" r="3.400"/><circle cx="1686.3" cy="464.2" r="3.400"/><circle cx="1681.0" cy="529.2" r="3.400"/><circle cx="1686.4" cy="524.1" r="3.400"/><circle cx="1718.3" cy="552.1" r="3.400"/><circle cx="1712.1" cy="564.1" r="3.400"/><circle cx="1723.7" cy="546.4" r="3.400"/><circle cx="1724.2" cy="542.3" r="3.400"/><circle cx="1705.3" cy="554.5" r="3.400"/><circle cx="1768.6" cy="511.4" r="3.400"/><circle cx="1711.0" cy="558.8" r="3.400"/><circle cx="1710.9" cy="561.4" r="3.400"/><circle cx="1707.7" cy="553.5" r="3.400"/><circle cx="1667.3" cy="497.1" r="3.400"/><circle cx="1743.2" cy="498.6" r="3.400"/><circle cx="1712.0" cy="561.5" r="3.400"/><circle cx="1822.4" cy="411.5" r="3.400"/><circle cx="1690.7" cy="498.3" r="3.400"/><circle cx="1781.4" cy="445.0" r="3.400"/><circle cx="1774.1" cy="488.7" r="3.400"/><circle cx="1712.5" cy="564.1" r="3.400"/><circle cx="1733.7" cy="526.0" r="3.400"/><circle cx="1755.3" cy="463.2" r="3.400"/><circle cx="1720.3" cy="552.4" r="3.400"/><circle cx="1765.1" cy="443.7" r="3.400"/><circle cx="1656.6" cy="455.8" r="3.400"/><circle cx="1679.2" cy="472.1" r="3.400"/><circle cx="1719.7" cy="555.2" r="3.400"/><circle cx="1690.2" cy="531.7" r="3.400"/><circle cx="1711.5" cy="563.8" r="3.400"/><circle cx="1728.4" cy="504.2" r="3.400"/><circle cx="1741.9" cy="522.6" r="3.400"/><circle cx="1770.4" cy="460.9" r="3.400"/><circle cx="1634.7" cy="452.0" r="3.400"/><circle cx="1703.4" cy="534.7" r="3.400"/><circle cx="1755.2" cy="502.6" r="3.400"/><circle cx="1837.2" cy="398.8" r="3.400"/><circle cx="1758.3" cy="506.8" r="3.400"/><circle cx="1705.1" cy="535.8" r="3.400"/><circle cx="1754.6" cy="430.9" r="3.400"/><circle cx="1732.4" cy="537.6" r="3.400"/><circle cx="1718.1" cy="552.0" r="3.400"/><circle cx="1700.1" cy="534.4" r="3.400"/><circle cx="1780.5" cy="448.0" r="3.400"/><circle cx="1709.5" cy="557.6" r="3.400"/><circle cx="1673.4" cy="465.5" r="3.400"/><circle cx="1709.6" cy="557.1" r="3.400"/><circle cx="1682.8" cy="490.0" r="3.400"/><circle cx="1808.2" cy="452.6" r="3.400"/><circle cx="1680.3" cy="475.8" r="3.400"/><circle cx="1705.4" cy="554.3" r="3.400"/><circle cx="1712.6" cy="563.9" r="3.400"/><circle cx="1706.6" cy="553.9" r="3.400"/><circle cx="1687.5" cy="479.5" r="3.400"/><circle cx="1778.8" cy="520.0" r="3.400"/><circle cx="1716.3" cy="556.0" r="3.400"/><circle cx="1728.8" cy="536.9" r="3.400"/><circle cx="1717.7" cy="548.0" r="3.400"/><circle cx="1699.3" cy="528.5" r="3.400"/><circle cx="1706.8" cy="546.4" r="3.400"/><circle cx="1664.6" cy="480.8" r="3.400"/><circle cx="1706.7" cy="546.6" r="3.400"/><circle cx="1710.3" cy="558.7" r="3.400"/><circle cx="1699.0" cy="520.6" r="3.400"/><circle cx="1721.7" cy="539.1" r="3.400"/><circle cx="1690.3" cy="451.5" r="3.400"/><circle cx="1710.5" cy="558.5" r="3.400"/><circle cx="1716.5" cy="559.4" r="3.400"/><circle cx="1691.5" cy="503.1" r="3.400"/><circle cx="1695.3" cy="467.6" r="3.400"/><circle cx="1712.0" cy="563.7" r="3.400"/><circle cx="1745.2" cy="487.9" r="3.400"/><circle cx="1708.9" cy="559.3" r="3.400"/><circle cx="1755.2" cy="426.0" r="3.400"/><circle cx="1729.8" cy="510.9" r="3.400"/><circle cx="1708.1" cy="556.9" r="3.400"/><circle cx="1710.8" cy="563.1" r="3.400"/><circle cx="1782.5" cy="432.7" r="3.400"/><circle cx="1723.2" cy="533.2" r="3.400"/><circle cx="1752.1" cy="486.0" r="3.400"/><circle cx="1740.7" cy="534.8" r="3.400"/><circle cx="1685.4" cy="416.7" r="3.400"/><circle cx="1722.6" cy="550.3" r="3.400"/><circle cx="1730.3" cy="543.4" r="3.400"/><circle cx="1694.0" cy="530.4" r="3.400"/><circle cx="1702.7" cy="549.6" r="3.400"/><circle cx="1710.0" cy="560.0" r="3.400"/><circle cx="1711.3" cy="565.1" r="3.400"/><circle cx="1685.3" cy="454.5" r="3.400"/><circle cx="1720.1" cy="549.7" r="3.400"/><circle cx="1717.9" cy="543.7" r="3.400"/><circle cx="1707.1" cy="551.2" r="3.400"/><circle cx="1707.2" cy="556.0" r="3.400"/><circle cx="1717.5" cy="554.9" r="3.400"/><circle cx="1693.8" cy="504.6" r="3.400"/><circle cx="1679.3" cy="527.2" r="3.400"/><circle cx="1733.3" cy="519.8" r="3.400"/><circle cx="1706.6" cy="556.8" r="3.400"/><circle cx="1716.1" cy="558.9" r="3.400"/><circle cx="1714.7" cy="558.0" r="3.400"/><circle cx="1691.7" cy="490.9" r="3.400"/><circle cx="1700.4" cy="533.1" r="3.400"/><circle cx="1723.2" cy="521.8" r="3.400"/><circle cx="1752.0" cy="506.6" r="3.400"/><circle cx="1755.7" cy="475.6" r="3.400"/><circle cx="1826.1" cy="440.3" r="3.400"/><circle cx="1701.1" cy="548.5" r="3.400"/><circle cx="1722.6" cy="545.0" r="3.400"/><circle cx="1705.6" cy="542.9" r="3.400"/><circle cx="1722.7" cy="553.7" r="3.400"/><circle cx="1760.4" cy="476.1" r="3.400"/><circle cx="1689.3" cy="529.1" r="3.400"/><circle cx="1716.5" cy="558.4" r="3.400"/><circle cx="1735.1" cy="465.1" r="3.400"/><circle cx="1695.3" cy="525.6" r="3.400"/><circle cx="1689.0" cy="519.6" r="3.400"/><circle cx="1707.6" cy="547.6" r="3.400"/><circle cx="1781.0" cy="491.6" r="3.400"/><circle cx="1669.1" cy="452.5" r="3.400"/><circle cx="1698.6" cy="530.0" r="3.400"/><circle cx="1696.4" cy="524.5" r="3.400"/><circle cx="1709.3" cy="558.7" r="3.400"/><circle cx="1758.0" cy="452.9" r="3.400"/><circle cx="1688.2" cy="482.5" r="3.400"/><circle cx="1712.9" cy="563.4" r="3.400"/><circle cx="1719.4" cy="553.4" r="3.400"/><circle cx="1682.4" cy="480.0" r="3.400"/><circle cx="1774.8" cy="421.7" r="3.400"/><circle cx="1704.9" cy="552.2" r="3.400"/><circle cx="1703.4" cy="542.9" r="3.400"/><circle cx="1798.9" cy="407.5" r="3.400"/><circle cx="1708.8" cy="553.1" r="3.400"/><circle cx="1692.0" cy="543.3" r="3.400"/><circle cx="1665.6" cy="400.3" r="3.400"/><circle cx="1724.9" cy="523.4" r="3.400"/><circle cx="1704.2" cy="556.2" r="3.400"/><circle cx="1706.4" cy="541.4" r="3.400"/><circle cx="1732.5" cy="515.9" r="3.400"/><circle cx="1698.1" cy="492.2" r="3.400"/><circle cx="1703.8" cy="549.2" r="3.400"/><circle cx="1753.7" cy="506.5" r="3.400"/><circle cx="1710.1" cy="557.3" r="3.400"/><circle cx="1732.7" cy="498.3" r="3.400"/><circle cx="1735.4" cy="520.4" r="3.400"/><circle cx="1730.8" cy="539.0" r="3.400"/><circle cx="1722.1" cy="542.0" r="3.400"/><circle cx="1693.4" cy="496.7" r="3.400"/><circle cx="1693.5" cy="518.5" r="3.400"/><circle cx="1678.5" cy="505.2" r="3.400"/><circle cx="1717.0" cy="557.5" r="3.400"/><circle cx="1726.2" cy="547.8" r="3.400"/><circle cx="1700.0" cy="519.0" r="3.400"/><circle cx="1709.2" cy="562.8" r="3.400"/><circle cx="1715.9" cy="551.8" r="3.400"/><circle cx="1706.9" cy="548.9" r="3.400"/><circle cx="1688.6" cy="482.1" r="3.400"/><circle cx="1707.4" cy="557.2" r="3.400"/><circle cx="1704.1" cy="530.4" r="3.400"/><circle cx="1709.7" cy="554.1" r="3.400"/><circle cx="1663.2" cy="490.4" r="3.400"/><circle cx="1727.5" cy="544.2" r="3.400"/><circle cx="1703.5" cy="552.1" r="3.400"/><circle cx="1714.5" cy="555.5" r="3.400"/><circle cx="1714.5" cy="559.7" r="3.400"/><circle cx="1628.7" cy="403.0" r="3.400"/><circle cx="1735.1" cy="489.7" r="3.400"/><circle cx="1720.4" cy="556.4" r="3.400"/><circle cx="1680.1" cy="450.6" r="3.400"/><circle cx="1701.9" cy="542.1" r="3.400"/><circle cx="1782.6" cy="485.0" r="3.400"/><circle cx="1697.2" cy="519.2" r="3.400"/><circle cx="1714.9" cy="560.9" r="3.400"/><circle cx="1752.2" cy="460.3" r="3.400"/><circle cx="1704.6" cy="550.0" r="3.400"/><circle cx="1718.1" cy="555.6" r="3.400"/><circle cx="1687.4" cy="515.6" r="3.400"/><circle cx="1709.8" cy="561.5" r="3.400"/><circle cx="1714.7" cy="561.6" r="3.400"/><circle cx="1721.3" cy="548.2" r="3.400"/><circle cx="1729.2" cy="526.6" r="3.400"/><circle cx="1734.2" cy="538.2" r="3.400"/><circle cx="1689.1" cy="503.9" r="3.400"/><circle cx="1785.0" cy="464.6" r="3.400"/><circle cx="1716.3" cy="549.7" r="3.400"/><circle cx="1722.5" cy="556.0" r="3.400"/><circle cx="1698.0" cy="471.7" r="3.400"/><circle cx="1707.6" cy="556.0" r="3.400"/><circle cx="1702.9" cy="549.3" r="3.400"/><circle cx="1680.7" cy="469.0" r="3.400"/><circle cx="1711.3" cy="564.7" r="3.400"/><circle cx="1796.9" cy="435.2" r="3.400"/><circle cx="1687.9" cy="490.4" r="3.400"/><circle cx="1702.6" cy="525.1" r="3.400"/><circle cx="1732.6" cy="537.7" r="3.400"/><circle cx="1706.6" cy="549.7" r="3.400"/><circle cx="1712.4" cy="561.0" r="3.400"/><circle cx="1738.0" cy="526.3" r="3.400"/><circle cx="1762.3" cy="497.6" r="3.400"/><circle cx="1711.1" cy="556.2" r="3.400"/><circle cx="1658.2" cy="410.3" r="3.400"/><circle cx="1712.5" cy="563.2" r="3.400"/><circle cx="1714.9" cy="556.1" r="3.400"/><circle cx="1782.4" cy="465.3" r="3.400"/><circle cx="1744.5" cy="509.8" r="3.400"/><circle cx="1708.0" cy="549.8" r="3.400"/><circle cx="1713.4" cy="558.5" r="3.400"/><circle cx="1722.2" cy="556.1" r="3.400"/><circle cx="1708.2" cy="556.8" r="3.400"/><circle cx="1692.1" cy="505.2" r="3.400"/><circle cx="1740.5" cy="514.6" r="3.400"/><circle cx="1775.9" cy="482.5" r="3.400"/><circle cx="1719.4" cy="555.6" r="3.400"/><circle cx="1699.9" cy="533.7" r="3.400"/><circle cx="1717.8" cy="555.7" r="3.400"/><circle cx="1727.0" cy="528.3" r="3.400"/><circle cx="1722.3" cy="548.3" r="3.400"/><circle cx="1718.9" cy="539.0" r="3.400"/><circle cx="1688.8" cy="486.4" r="3.400"/><circle cx="1703.4" cy="541.1" r="3.400"/><circle cx="1781.3" cy="455.7" r="3.400"/><circle cx="1703.7" cy="554.1" r="3.400"/><circle cx="1801.3" cy="481.6" r="3.400"/><circle cx="1795.0" cy="461.3" r="3.400"/><circle cx="1684.5" cy="479.1" r="3.400"/><circle cx="1690.2" cy="494.8" r="3.400"/><circle cx="1702.6" cy="524.3" r="3.400"/><circle cx="1763.8" cy="450.3" r="3.400"/><circle cx="1744.5" cy="522.6" r="3.400"/><circle cx="1712.1" cy="560.9" r="3.400"/><circle cx="1676.3" cy="485.2" r="3.400"/><circle cx="1705.4" cy="536.1" r="3.400"/><circle cx="1756.1" cy="495.9" r="3.400"/><circle cx="1678.6" cy="473.8" r="3.400"/><circle cx="1706.2" cy="542.1" r="3.400"/><circle cx="1706.4" cy="541.1" r="3.400"/><circle cx="1709.7" cy="556.9" r="3.400"/><circle cx="1714.1" cy="559.0" r="3.400"/><circle cx="1708.3" cy="557.3" r="3.400"/><circle cx="1701.6" cy="547.8" r="3.400"/><circle cx="1700.5" cy="534.3" r="3.400"/><circle cx="1703.0" cy="526.0" r="3.400"/><circle cx="1752.9" cy="505.7" r="3.400"/><circle cx="1730.4" cy="531.2" r="3.400"/><circle cx="1701.4" cy="521.6" r="3.400"/><circle cx="1743.0" cy="513.3" r="3.400"/><circle cx="1713.5" cy="563.1" r="3.400"/><circle cx="1771.2" cy="516.1" r="3.400"/><circle cx="1668.5" cy="484.0" r="3.400"/><circle cx="1655.8" cy="408.4" r="3.400"/><circle cx="1697.8" cy="514.9" r="3.400"/><circle cx="1781.4" cy="408.7" r="3.400"/><circle cx="1738.7" cy="517.5" r="3.400"/><circle cx="1684.9" cy="470.6" r="3.400"/><circle cx="1715.2" cy="557.4" r="3.400"/><circle cx="1702.8" cy="536.9" r="3.400"/><circle cx="1725.6" cy="546.4" r="3.400"/><circle cx="1752.4" cy="490.6" r="3.400"/><circle cx="1690.6" cy="517.6" r="3.400"/><circle cx="1709.5" cy="560.2" r="3.400"/><circle cx="1743.0" cy="515.5" r="3.400"/><circle cx="1697.8" cy="501.7" r="3.400"/><circle cx="1704.6" cy="544.9" r="3.400"/><circle cx="1768.2" cy="512.2" r="3.400"/><circle cx="1623.0" cy="413.5" r="3.400"/><circle cx="1703.5" cy="549.6" r="3.400"/><circle cx="1734.0" cy="516.6" r="3.400"/><circle cx="1763.0" cy="522.1" r="3.400"/><circle cx="1693.4" cy="513.8" r="3.400"/><circle cx="1719.8" cy="546.9" r="3.400"/><circle cx="1663.2" cy="455.4" r="3.400"/><circle cx="1725.2" cy="543.6" r="3.400"/><circle cx="1701.0" cy="533.5" r="3.400"/><circle cx="1716.5" cy="553.5" r="3.400"/><circle cx="1723.8" cy="543.4" r="3.400"/><circle cx="1700.1" cy="541.7" r="3.400"/><circle cx="1743.1" cy="464.7" r="3.400"/><circle cx="1743.7" cy="487.7" r="3.400"/><circle cx="1711.2" cy="564.8" r="3.400"/><circle cx="1779.8" cy="419.6" r="3.400"/><circle cx="1709.7" cy="558.4" r="3.400"/><circle cx="1710.7" cy="556.3" r="3.400"/><circle cx="1752.5" cy="469.1" r="3.400"/><circle cx="1709.3" cy="551.1" r="3.400"/><circle cx="1694.5" cy="514.5" r="3.400"/><circle cx="1699.4" cy="515.2" r="3.400"/><circle cx="1690.6" cy="552.4" r="3.400"/><circle cx="1732.6" cy="537.3" r="3.400"/><circle cx="1769.9" cy="486.5" r="3.400"/><circle cx="1672.9" cy="458.3" r="3.400"/><circle cx="1680.8" cy="526.2" r="3.400"/><circle cx="1731.9" cy="524.4" r="3.400"/><circle cx="1742.2" cy="511.0" r="3.400"/><circle cx="1723.0" cy="533.3" r="3.400"/><circle cx="1725.7" cy="537.8" r="3.400"/><circle cx="1756.1" cy="480.3" r="3.400"/><circle cx="1736.4" cy="514.5" r="3.400"/><circle cx="1690.5" cy="506.0" r="3.400"/><circle cx="1761.1" cy="442.6" r="3.400"/><circle cx="1728.1" cy="527.9" r="3.400"/><circle cx="1694.5" cy="497.4" r="3.400"/><circle cx="1676.0" cy="489.0" r="3.400"/><circle cx="1717.7" cy="543.9" r="3.400"/><circle cx="1687.0" cy="479.6" r="3.400"/><circle cx="1725.3" cy="538.0" r="3.400"/><circle cx="1718.7" cy="557.1" r="3.400"/><circle cx="1659.4" cy="475.0" r="3.400"/><circle cx="1727.7" cy="545.3" r="3.400"/><circle cx="1707.5" cy="560.5" r="3.400"/><circle cx="1700.1" cy="520.8" r="3.400"/><circle cx="1709.2" cy="555.5" r="3.400"/><circle cx="1724.3" cy="544.9" r="3.400"/><circle cx="1705.7" cy="541.4" r="3.400"/><circle cx="1710.8" cy="563.9" r="3.400"/><circle cx="1718.4" cy="554.9" r="3.400"/><circle cx="1705.6" cy="534.3" r="3.400"/><circle cx="1712.3" cy="563.2" r="3.400"/><circle cx="1712.8" cy="559.9" r="3.400"/><circle cx="1720.8" cy="536.6" r="3.400"/><circle cx="1676.7" cy="490.4" r="3.400"/><circle cx="1716.0" cy="552.0" r="3.400"/><circle cx="1681.2" cy="531.9" r="3.400"/><circle cx="1701.5" cy="547.2" r="3.400"/><circle cx="1706.3" cy="551.7" r="3.400"/><circle cx="1669.6" cy="447.5" r="3.400"/><circle cx="1697.3" cy="497.5" r="3.400"/><circle cx="1732.1" cy="532.7" r="3.400"/><circle cx="1717.3" cy="557.0" r="3.400"/><circle cx="1693.9" cy="529.0" r="3.400"/><circle cx="1735.0" cy="532.0" r="3.400"/><circle cx="1649.7" cy="473.9" r="3.400"/><circle cx="1754.1" cy="435.0" r="3.400"/><circle cx="1763.4" cy="490.4" r="3.400"/><circle cx="1718.1" cy="549.4" r="3.400"/><circle cx="1748.9" cy="538.8" r="3.400"/><circle cx="1709.9" cy="556.6" r="3.400"/><circle cx="1664.5" cy="505.4" r="3.400"/><circle cx="1728.1" cy="544.3" r="3.400"/><circle cx="1764.2" cy="414.3" r="3.400"/><circle cx="1697.0" cy="525.0" r="3.400"/><circle cx="1715.9" cy="555.3" r="3.400"/><circle cx="1696.5" cy="527.5" r="3.400"/><circle cx="1708.8" cy="560.5" r="3.400"/><circle cx="1717.5" cy="557.7" r="3.400"/><circle cx="1691.1" cy="505.6" r="3.400"/><circle cx="1742.9" cy="514.5" r="3.400"/><circle cx="1709.1" cy="559.3" r="3.400"/><circle cx="1734.5" cy="486.1" r="3.400"/><circle cx="1660.3" cy="408.7" r="3.400"/><circle cx="1728.3" cy="547.0" r="3.400"/><circle cx="1695.4" cy="513.1" r="3.400"/><circle cx="1705.3" cy="538.2" r="3.400"/><circle cx="1667.9" cy="458.0" r="3.400"/><circle cx="1715.2" cy="561.1" r="3.400"/><circle cx="1746.7" cy="482.5" r="3.400"/><circle cx="1711.6" cy="564.0" r="3.400"/><circle cx="1682.2" cy="443.9" r="3.400"/><circle cx="1688.1" cy="472.6" r="3.400"/><circle cx="1689.2" cy="501.6" r="3.400"/><circle cx="1716.2" cy="555.7" r="3.400"/><circle cx="1691.7" cy="502.7" r="3.400"/><circle cx="1754.2" cy="525.3" r="3.400"/><circle cx="1720.4" cy="548.6" r="3.400"/><circle cx="1703.2" cy="550.6" r="3.400"/><circle cx="1693.4" cy="543.5" r="3.400"/><circle cx="1714.0" cy="558.5" r="3.400"/><circle cx="1687.8" cy="525.2" r="3.400"/><circle cx="1680.7" cy="522.7" r="3.400"/><circle cx="1683.6" cy="486.0" r="3.400"/><circle cx="1729.0" cy="545.9" r="3.400"/><circle cx="1737.6" cy="509.8" r="3.400"/><circle cx="1724.6" cy="548.5" r="3.400"/><circle cx="1709.6" cy="557.6" r="3.400"/><circle cx="1711.7" cy="560.3" r="3.400"/><circle cx="1698.7" cy="553.3" r="3.400"/><circle cx="1712.7" cy="562.9" r="3.400"/><circle cx="1710.2" cy="561.6" r="3.400"/><circle cx="1748.8" cy="518.3" r="3.400"/><circle cx="1685.1" cy="497.4" r="3.400"/><circle cx="1696.0" cy="533.4" r="3.400"/><circle cx="1761.5" cy="470.7" r="3.400"/><circle cx="1738.6" cy="528.5" r="3.400"/><circle cx="1740.3" cy="522.2" r="3.400"/><circle cx="1659.0" cy="487.0" r="3.400"/><circle cx="1731.4" cy="548.4" r="3.400"/><circle cx="1707.6" cy="560.2" r="3.400"/><circle cx="1707.1" cy="548.1" r="3.400"/><circle cx="1790.5" cy="427.5" r="3.400"/><circle cx="1671.8" cy="465.6" r="3.400"/><circle cx="1711.2" cy="564.6" r="3.400"/><circle cx="1736.0" cy="503.1" r="3.400"/><circle cx="1731.5" cy="509.1" r="3.400"/><circle cx="1728.2" cy="536.0" r="3.400"/><circle cx="1706.0" cy="545.1" r="3.400"/><circle cx="1689.3" cy="537.5" r="3.400"/><circle cx="1701.2" cy="539.9" r="3.400"/><circle cx="1720.4" cy="548.8" r="3.400"/><circle cx="1667.6" cy="449.2" r="3.400"/><circle cx="1679.0" cy="518.2" r="3.400"/><circle cx="1695.6" cy="536.2" r="3.400"/><circle cx="1706.5" cy="547.2" r="3.400"/><circle cx="1690.7" cy="497.4" r="3.400"/><circle cx="1711.4" cy="564.9" r="3.400"/><circle cx="1728.0" cy="534.8" r="3.400"/><circle cx="1738.6" cy="530.8" r="3.400"/><circle cx="1690.6" cy="497.0" r="3.400"/><circle cx="1714.4" cy="559.7" r="3.400"/><circle cx="1733.8" cy="536.0" r="3.400"/><circle cx="1725.4" cy="537.1" r="3.400"/><circle cx="1703.9" cy="553.0" r="3.400"/><circle cx="1712.0" cy="563.2" r="3.400"/><circle cx="1710.0" cy="558.9" r="3.400"/><circle cx="1714.8" cy="554.9" r="3.400"/><circle cx="1710.0" cy="560.7" r="3.400"/><circle cx="1680.2" cy="470.2" r="3.400"/><circle cx="1740.9" cy="459.5" r="3.400"/><circle cx="1786.6" cy="501.7" r="3.400"/><circle cx="1700.7" cy="536.4" r="3.400"/><circle cx="1674.8" cy="448.6" r="3.400"/><circle cx="1680.5" cy="531.5" r="3.400"/><circle cx="1707.3" cy="559.6" r="3.400"/><circle cx="1730.3" cy="523.5" r="3.400"/><circle cx="1713.4" cy="560.8" r="3.400"/><circle cx="1712.8" cy="562.1" r="3.400"/><circle cx="1694.0" cy="526.3" r="3.400"/><circle cx="1750.2" cy="520.5" r="3.400"/><circle cx="1683.8" cy="522.1" r="3.400"/><circle cx="1723.9" cy="533.2" r="3.400"/><circle cx="1706.8" cy="546.5" r="3.400"/><circle cx="1709.4" cy="556.3" r="3.400"/><circle cx="1661.4" cy="472.8" r="3.400"/><circle cx="1711.3" cy="561.9" r="3.400"/><circle cx="1710.0" cy="556.7" r="3.400"/><circle cx="1770.6" cy="471.1" r="3.400"/><circle cx="1704.6" cy="536.9" r="3.400"/><circle cx="1676.4" cy="417.4" r="3.400"/><circle cx="1792.5" cy="398.7" r="3.400"/><circle cx="1709.1" cy="552.3" r="3.400"/><circle cx="1753.2" cy="504.6" r="3.400"/><circle cx="1706.5" cy="556.4" r="3.400"/><circle cx="1711.5" cy="563.7" r="3.400"/><circle cx="1715.6" cy="556.8" r="3.400"/><circle cx="1679.3" cy="466.3" r="3.400"/><circle cx="1714.8" cy="560.2" r="3.400"/><circle cx="1705.1" cy="549.9" r="3.400"/><circle cx="1801.5" cy="427.3" r="3.400"/><circle cx="1701.1" cy="524.7" r="3.400"/><circle cx="1707.6" cy="551.4" r="3.400"/><circle cx="1675.8" cy="469.6" r="3.400"/><circle cx="1713.8" cy="562.3" r="3.400"/><circle cx="1696.9" cy="532.3" r="3.400"/><circle cx="1689.0" cy="500.0" r="3.400"/><circle cx="1685.1" cy="519.0" r="3.400"/><circle cx="1696.4" cy="532.6" r="3.400"/><circle cx="1673.8" cy="451.7" r="3.400"/><circle cx="1712.9" cy="562.7" r="3.400"/><circle cx="1739.2" cy="499.6" r="3.400"/><circle cx="1723.4" cy="548.7" r="3.400"/><circle cx="1737.1" cy="512.0" r="3.400"/><circle cx="1723.1" cy="531.1" r="3.400"/><circle cx="1748.6" cy="495.6" r="3.400"/><circle cx="1705.7" cy="547.9" r="3.400"/><circle cx="1781.3" cy="475.5" r="3.400"/><circle cx="1717.5" cy="554.8" r="3.400"/><circle cx="1687.3" cy="482.0" r="3.400"/><circle cx="1719.4" cy="557.2" r="3.400"/><circle cx="1725.4" cy="552.9" r="3.400"/><circle cx="1700.1" cy="532.0" r="3.400"/><circle cx="1726.9" cy="540.4" r="3.400"/><circle cx="1708.3" cy="556.3" r="3.400"/><circle cx="1713.6" cy="560.0" r="3.400"/><circle cx="1753.6" cy="432.0" r="3.400"/><circle cx="1771.5" cy="464.1" r="3.400"/><circle cx="1719.6" cy="543.8" r="3.400"/><circle cx="1700.6" cy="524.8" r="3.400"/><circle cx="1738.7" cy="474.9" r="3.400"/><circle cx="1740.0" cy="531.5" r="3.400"/><circle cx="1696.0" cy="504.7" r="3.400"/><circle cx="1754.9" cy="454.0" r="3.400"/><circle cx="1707.0" cy="558.4" r="3.400"/><circle cx="1741.1" cy="532.4" r="3.400"/><circle cx="1654.9" cy="408.2" r="3.400"/><circle cx="1700.2" cy="516.9" r="3.400"/><circle cx="1750.6" cy="482.9" r="3.400"/><circle cx="1698.9" cy="519.6" r="3.400"/><circle cx="1722.1" cy="550.3" r="3.400"/><circle cx="1683.9" cy="479.1" r="3.400"/><circle cx="1719.3" cy="538.7" r="3.400"/><circle cx="1690.5" cy="508.9" r="3.400"/><circle cx="1746.9" cy="504.7" r="3.400"/><circle cx="1721.6" cy="544.1" r="3.400"/><circle cx="1677.3" cy="441.6" r="3.400"/><circle cx="1710.1" cy="556.0" r="3.400"/><circle cx="1728.3" cy="535.3" r="3.400"/><circle cx="1758.5" cy="511.9" r="3.400"/><circle cx="1682.9" cy="471.2" r="3.400"/><circle cx="1709.4" cy="556.8" r="3.400"/><circle cx="1746.8" cy="517.6" r="3.400"/><circle cx="1704.2" cy="534.6" r="3.400"/><circle cx="1731.5" cy="534.5" r="3.400"/><circle cx="1714.4" cy="560.0" r="3.400"/><circle cx="1695.7" cy="512.9" r="3.400"/><circle cx="1694.9" cy="521.9" r="3.400"/><circle cx="1660.7" cy="443.5" r="3.400"/><circle cx="1702.7" cy="535.5" r="3.400"/><circle cx="1682.6" cy="501.5" r="3.400"/><circle cx="1706.8" cy="550.9" r="3.400"/><circle cx="1708.9" cy="555.2" r="3.400"/><circle cx="1718.6" cy="554.8" r="3.400"/><circle cx="1738.7" cy="497.2" r="3.400"/><circle cx="1724.2" cy="545.4" r="3.400"/><circle cx="1642.6" cy="444.1" r="3.400"/><circle cx="1735.4" cy="515.8" r="3.400"/><circle cx="1725.6" cy="548.0" r="3.400"/><circle cx="1708.7" cy="550.3" r="3.400"/><circle cx="1679.3" cy="444.0" r="3.400"/><circle cx="1700.3" cy="539.5" r="3.400"/><circle cx="1704.7" cy="554.0" r="3.400"/><circle cx="1694.4" cy="509.9" r="3.400"/><circle cx="1728.2" cy="539.8" r="3.400"/><circle cx="1733.0" cy="512.7" r="3.400"/><circle cx="1810.2" cy="449.8" r="3.400"/><circle cx="1710.9" cy="563.5" r="3.400"/><circle cx="1710.7" cy="557.9" r="3.400"/><circle cx="1725.9" cy="542.9" r="3.400"/><circle cx="1722.0" cy="542.4" r="3.400"/><circle cx="1701.0" cy="546.6" r="3.400"/><circle cx="1731.1" cy="496.9" r="3.400"/><circle cx="1770.0" cy="485.3" r="3.400"/><circle cx="1751.2" cy="501.7" r="3.400"/><circle cx="1773.7" cy="491.8" r="3.400"/><circle cx="1802.0" cy="436.3" r="3.400"/><circle cx="1711.1" cy="563.5" r="3.400"/><circle cx="1711.1" cy="561.6" r="3.400"/><circle cx="1744.6" cy="527.9" r="3.400"/><circle cx="1670.6" cy="404.8" r="3.400"/><circle cx="1697.7" cy="508.9" r="3.400"/><circle cx="1711.6" cy="559.4" r="3.400"/><circle cx="1702.8" cy="547.1" r="3.400"/><circle cx="1683.2" cy="538.5" r="3.400"/><circle cx="1706.1" cy="548.1" r="3.400"/><circle cx="1727.2" cy="529.1" r="3.400"/><circle cx="1701.3" cy="551.7" r="3.400"/><circle cx="1687.6" cy="484.3" r="3.400"/><circle cx="1721.6" cy="552.3" r="3.400"/><circle cx="1764.4" cy="496.7" r="3.400"/><circle cx="1738.3" cy="493.9" r="3.400"/><circle cx="1680.4" cy="488.4" r="3.400"/><circle cx="1748.4" cy="526.2" r="3.400"/><circle cx="1715.5" cy="557.7" r="3.400"/><circle cx="1793.9" cy="403.6" r="3.400"/><circle cx="1732.8" cy="519.3" r="3.400"/><circle cx="1695.9" cy="519.3" r="3.400"/><circle cx="1801.7" cy="442.3" r="3.400"/><circle cx="1706.4" cy="552.2" r="3.400"/><circle cx="1720.3" cy="553.9" r="3.400"/><circle cx="1736.5" cy="521.8" r="3.400"/><circle cx="1711.5" cy="560.8" r="3.400"/><circle cx="1695.9" cy="533.2" r="3.400"/><circle cx="1712.1" cy="562.3" r="3.400"/><circle cx="1766.1" cy="505.2" r="3.400"/><circle cx="1667.5" cy="438.8" r="3.400"/><circle cx="1692.8" cy="463.8" r="3.400"/><circle cx="1722.0" cy="544.5" r="3.400"/><circle cx="1716.5" cy="557.5" r="3.400"/><circle cx="1733.7" cy="535.0" r="3.400"/><circle cx="1711.4" cy="560.2" r="3.400"/><circle cx="1772.5" cy="480.9" r="3.400"/><circle cx="1712.1" cy="564.6" r="3.400"/><circle cx="1737.6" cy="546.2" r="3.400"/><circle cx="1714.9" cy="559.4" r="3.400"/><circle cx="1717.5" cy="544.9" r="3.400"/><circle cx="1693.8" cy="516.7" r="3.400"/><circle cx="1724.3" cy="536.2" r="3.400"/><circle cx="1730.3" cy="528.2" r="3.400"/><circle cx="1705.9" cy="544.0" r="3.400"/><circle cx="1727.0" cy="555.5" r="3.400"/><circle cx="1746.7" cy="504.2" r="3.400"/><circle cx="1708.9" cy="554.2" r="3.400"/><circle cx="1704.4" cy="545.9" r="3.400"/><circle cx="1750.2" cy="501.3" r="3.400"/><circle cx="1702.9" cy="538.7" r="3.400"/><circle cx="1715.5" cy="556.9" r="3.400"/><circle cx="1695.7" cy="508.3" r="3.400"/><circle cx="1717.1" cy="554.3" r="3.400"/><circle cx="1698.5" cy="538.4" r="3.400"/><circle cx="1704.6" cy="532.2" r="3.400"/><circle cx="1683.4" cy="511.6" r="3.400"/><circle cx="1697.6" cy="491.8" r="3.400"/><circle cx="1713.2" cy="559.5" r="3.400"/><circle cx="1694.8" cy="481.2" r="3.400"/><circle cx="1666.2" cy="414.0" r="3.400"/><circle cx="1684.0" cy="483.8" r="3.400"/><circle cx="1715.9" cy="556.2" r="3.400"/><circle cx="1756.2" cy="497.9" r="3.400"/><circle cx="1715.6" cy="552.7" r="3.400"/><circle cx="1707.5" cy="547.4" r="3.400"/><circle cx="1678.8" cy="469.4" r="3.400"/><circle cx="1682.6" cy="490.4" r="3.400"/><circle cx="1779.3" cy="481.1" r="3.400"/><circle cx="1702.1" cy="537.1" r="3.400"/><circle cx="1689.2" cy="489.6" r="3.400"/><circle cx="1720.4" cy="543.8" r="3.400"/><circle cx="1708.1" cy="553.6" r="3.400"/><circle cx="1710.4" cy="562.5" r="3.400"/><circle cx="1688.1" cy="514.0" r="3.400"/><circle cx="1681.9" cy="502.5" r="3.400"/><circle cx="1731.2" cy="524.3" r="3.400"/><circle cx="1709.3" cy="559.8" r="3.400"/><circle cx="1684.7" cy="484.4" r="3.400"/><circle cx="1708.8" cy="552.5" r="3.400"/><circle cx="1690.3" cy="500.6" r="3.400"/><circle cx="1777.6" cy="453.5" r="3.400"/><circle cx="1741.4" cy="518.5" r="3.400"/><circle cx="1734.9" cy="506.1" r="3.400"/><circle cx="1750.5" cy="532.7" r="3.400"/><circle cx="1709.4" cy="552.5" r="3.400"/><circle cx="1724.3" cy="536.2" r="3.400"/><circle cx="1731.5" cy="525.7" r="3.400"/><circle cx="1728.4" cy="534.7" r="3.400"/><circle cx="1698.5" cy="547.6" r="3.400"/><circle cx="1718.0" cy="541.8" r="3.400"/><circle cx="1698.1" cy="522.0" r="3.400"/><circle cx="1718.1" cy="550.6" r="3.400"/><circle cx="1758.5" cy="531.6" r="3.400"/><circle cx="1675.2" cy="457.0" r="3.400"/><circle cx="1698.2" cy="525.6" r="3.400"/><circle cx="1701.0" cy="530.2" r="3.400"/><circle cx="1705.0" cy="553.2" r="3.400"/><circle cx="1722.1" cy="549.8" r="3.400"/><circle cx="1679.0" cy="540.9" r="3.400"/><circle cx="1710.1" cy="559.2" r="3.400"/><circle cx="1674.1" cy="495.2" r="3.400"/><circle cx="1758.1" cy="495.8" r="3.400"/><circle cx="1721.1" cy="546.4" r="3.400"/><circle cx="1669.8" cy="534.1" r="3.400"/><circle cx="1660.9" cy="419.2" r="3.400"/><circle cx="1705.4" cy="545.5" r="3.400"/><circle cx="1674.6" cy="433.7" r="3.400"/><circle cx="1687.5" cy="521.3" r="3.400"/><circle cx="1741.8" cy="492.5" r="3.400"/><circle cx="1668.5" cy="450.5" r="3.400"/><circle cx="1709.7" cy="554.9" r="3.400"/><circle cx="1683.5" cy="474.9" r="3.400"/><circle cx="1715.2" cy="558.6" r="3.400"/><circle cx="1708.5" cy="557.9" r="3.400"/><circle cx="1688.4" cy="511.6" r="3.400"/><circle cx="1711.4" cy="565.2" r="3.400"/><circle cx="1756.1" cy="458.3" r="3.400"/><circle cx="1724.7" cy="539.8" r="3.400"/><circle cx="1692.4" cy="526.2" r="3.400"/><circle cx="1712.3" cy="562.8" r="3.400"/><circle cx="1728.9" cy="500.1" r="3.400"/><circle cx="1708.0" cy="555.7" r="3.400"/><circle cx="1688.5" cy="468.8" r="3.400"/><circle cx="1717.2" cy="553.8" r="3.400"/><circle cx="1790.1" cy="435.8" r="3.400"/><circle cx="1718.9" cy="544.1" r="3.400"/><circle cx="1726.8" cy="532.5" r="3.400"/><circle cx="1806.6" cy="433.6" r="3.400"/><circle cx="1694.3" cy="510.4" r="3.400"/><circle cx="1747.1" cy="497.7" r="3.400"/><circle cx="1681.6" cy="462.2" r="3.400"/><circle cx="1718.7" cy="541.7" r="3.400"/><circle cx="1732.0" cy="528.2" r="3.400"/><circle cx="1731.1" cy="513.5" r="3.400"/><circle cx="1669.5" cy="439.2" r="3.400"/><circle cx="1709.5" cy="560.3" r="3.400"/><circle cx="1689.2" cy="532.5" r="3.400"/><circle cx="1780.4" cy="506.9" r="3.400"/><circle cx="1754.8" cy="460.3" r="3.400"/><circle cx="1727.0" cy="537.6" r="3.400"/><circle cx="1762.6" cy="425.0" r="3.400"/><circle cx="1736.6" cy="510.9" r="3.400"/><circle cx="1699.9" cy="528.4" r="3.400"/><circle cx="1711.2" cy="560.7" r="3.400"/><circle cx="1709.7" cy="557.2" r="3.400"/><circle cx="1705.7" cy="535.9" r="3.400"/><circle cx="1713.9" cy="559.5" r="3.400"/><circle cx="1661.3" cy="443.6" r="3.400"/><circle cx="1706.0" cy="549.8" r="3.400"/><circle cx="1702.1" cy="538.1" r="3.400"/><circle cx="1710.9" cy="563.3" r="3.400"/><circle cx="1717.7" cy="553.9" r="3.400"/><circle cx="1694.1" cy="508.2" r="3.400"/><circle cx="1679.2" cy="436.9" r="3.400"/><circle cx="1698.8" cy="553.6" r="3.400"/><circle cx="1718.2" cy="554.0" r="3.400"/><circle cx="1743.3" cy="520.5" r="3.400"/><circle cx="1690.6" cy="467.1" r="3.400"/><circle cx="1698.3" cy="507.5" r="3.400"/><circle cx="1810.8" cy="457.3" r="3.400"/><circle cx="1704.7" cy="544.7" r="3.400"/><circle cx="1678.7" cy="459.7" r="3.400"/><circle cx="1696.9" cy="506.0" r="3.400"/><circle cx="1763.6" cy="467.3" r="3.400"/><circle cx="1718.8" cy="549.0" r="3.400"/><circle cx="1799.3" cy="479.6" r="3.400"/><circle cx="1677.8" cy="466.1" r="3.400"/><circle cx="1724.5" cy="544.4" r="3.400"/><circle cx="1712.6" cy="563.4" r="3.400"/><circle cx="1717.3" cy="554.3" r="3.400"/><circle cx="1711.3" cy="563.2" r="3.400"/><circle cx="1746.2" cy="445.9" r="3.400"/><circle cx="1753.6" cy="500.5" r="3.400"/><circle cx="1661.5" cy="408.6" r="3.400"/><circle cx="1715.9" cy="556.2" r="3.400"/><circle cx="1757.0" cy="487.4" r="3.400"/><circle cx="1734.2" cy="523.5" r="3.400"/><circle cx="1693.2" cy="496.9" r="3.400"/><circle cx="1702.1" cy="542.3" r="3.400"/><circle cx="1694.3" cy="518.3" r="3.400"/><circle cx="1710.8" cy="564.2" r="3.400"/><circle cx="1677.6" cy="486.8" r="3.400"/><circle cx="1742.8" cy="513.0" r="3.400"/><circle cx="1788.8" cy="466.1" r="3.400"/><circle cx="1695.8" cy="529.5" r="3.400"/><circle cx="1706.8" cy="552.4" r="3.400"/><circle cx="1694.1" cy="540.4" r="3.400"/><circle cx="1726.2" cy="530.3" r="3.400"/><circle cx="1698.0" cy="503.8" r="3.400"/><circle cx="1776.9" cy="475.2" r="3.400"/><circle cx="1700.3" cy="519.1" r="3.400"/><circle cx="1704.3" cy="539.3" r="3.400"/><circle cx="1701.8" cy="522.0" r="3.400"/><circle cx="1684.8" cy="528.4" r="3.400"/><circle cx="1750.2" cy="486.8" r="3.400"/><circle cx="1685.3" cy="527.0" r="3.400"/><circle cx="1715.7" cy="556.9" r="3.400"/><circle cx="1762.8" cy="474.0" r="3.400"/><circle cx="1710.1" cy="562.4" r="3.400"/><circle cx="1678.9" cy="476.0" r="3.400"/><circle cx="1649.6" cy="470.0" r="3.400"/><circle cx="1676.3" cy="488.7" r="3.400"/><circle cx="1750.3" cy="485.7" r="3.400"/><circle cx="1698.1" cy="518.5" r="3.400"/><circle cx="1668.9" cy="481.1" r="3.400"/><circle cx="1692.0" cy="527.5" r="3.400"/><circle cx="1707.0" cy="552.0" r="3.400"/><circle cx="1726.2" cy="537.0" r="3.400"/><circle cx="1762.1" cy="455.6" r="3.400"/><circle cx="1702.7" cy="535.9" r="3.400"/><circle cx="1658.7" cy="409.2" r="3.400"/><circle cx="1691.0" cy="499.1" r="3.400"/><circle cx="1689.6" cy="506.5" r="3.400"/><circle cx="1760.9" cy="401.2" r="3.400"/><circle cx="1715.5" cy="556.7" r="3.400"/><circle cx="1717.5" cy="544.9" r="3.400"/><circle cx="1698.0" cy="515.3" r="3.400"/><circle cx="1692.1" cy="508.9" r="3.400"/><circle cx="1721.8" cy="546.4" r="3.400"/><circle cx="1706.1" cy="548.9" r="3.400"/><circle cx="1768.3" cy="502.2" r="3.400"/><circle cx="1708.5" cy="553.6" r="3.400"/><circle cx="1767.0" cy="504.8" r="3.400"/><circle cx="1726.0" cy="542.0" r="3.400"/><circle cx="1705.3" cy="538.9" r="3.400"/><circle cx="1660.5" cy="407.3" r="3.400"/><circle cx="1760.8" cy="482.7" r="3.400"/><circle cx="1697.5" cy="515.1" r="3.400"/><circle cx="1680.9" cy="428.4" r="3.400"/><circle cx="1674.7" cy="505.0" r="3.400"/><circle cx="1715.0" cy="556.0" r="3.400"/><circle cx="1674.6" cy="443.4" r="3.400"/><circle cx="1708.1" cy="552.6" r="3.400"/><circle cx="1703.0" cy="536.6" r="3.400"/><circle cx="1766.0" cy="479.9" r="3.400"/><circle cx="1697.1" cy="545.7" r="3.400"/><circle cx="1733.0" cy="506.2" r="3.400"/><circle cx="1700.6" cy="530.1" r="3.400"/><circle cx="1703.1" cy="539.8" r="3.400"/><circle cx="1714.5" cy="563.7" r="3.400"/><circle cx="1731.1" cy="517.6" r="3.400"/><circle cx="1805.5" cy="422.7" r="3.400"/><circle cx="1678.6" cy="451.8" r="3.400"/><circle cx="1698.4" cy="526.8" r="3.400"/><circle cx="1728.5" cy="547.2" r="3.400"/><circle cx="1707.2" cy="548.8" r="3.400"/><circle cx="1736.9" cy="483.3" r="3.400"/><circle cx="1789.1" cy="435.8" r="3.400"/><circle cx="1751.8" cy="416.3" r="3.400"/><circle cx="1749.0" cy="478.7" r="3.400"/><circle cx="1680.6" cy="515.7" r="3.400"/><circle cx="1722.4" cy="546.0" r="3.400"/><circle cx="1706.5" cy="547.8" r="3.400"/><circle cx="1664.1" cy="500.4" r="3.400"/><circle cx="1710.9" cy="561.6" r="3.400"/><circle cx="1680.6" cy="504.6" r="3.400"/><circle cx="1726.7" cy="539.5" r="3.400"/><circle cx="1721.2" cy="542.8" r="3.400"/><circle cx="1712.7" cy="562.2" r="3.400"/><circle cx="1774.3" cy="427.6" r="3.400"/><circle cx="1790.5" cy="400.1" r="3.400"/><circle cx="1679.8" cy="493.7" r="3.400"/><circle cx="1673.8" cy="487.4" r="3.400"/><circle cx="1696.4" cy="527.2" r="3.400"/><circle cx="1711.7" cy="564.0" r="3.400"/><circle cx="1722.1" cy="539.7" r="3.400"/><circle cx="1738.8" cy="432.8" r="3.400"/><circle cx="1709.4" cy="556.6" r="3.400"/><circle cx="1723.6" cy="541.8" r="3.400"/><circle cx="1704.8" cy="553.7" r="3.400"/><circle cx="1705.1" cy="546.2" r="3.400"/><circle cx="1695.8" cy="517.7" r="3.400"/><circle cx="1700.2" cy="557.7" r="3.400"/><circle cx="1720.6" cy="549.6" r="3.400"/><circle cx="1722.0" cy="546.8" r="3.400"/><circle cx="1698.3" cy="506.6" r="3.400"/><circle cx="1672.6" cy="467.5" r="3.400"/><circle cx="1749.4" cy="521.2" r="3.400"/><circle cx="1787.4" cy="479.5" r="3.400"/><circle cx="1688.7" cy="512.3" r="3.400"/><circle cx="1709.3" cy="558.3" r="3.400"/><circle cx="1717.1" cy="553.7" r="3.400"/><circle cx="1700.9" cy="532.6" r="3.400"/><circle cx="1697.3" cy="544.5" r="3.400"/><circle cx="1713.2" cy="561.6" r="3.400"/><circle cx="1688.1" cy="492.5" r="3.400"/><circle cx="1733.0" cy="538.1" r="3.400"/><circle cx="1676.4" cy="477.9" r="3.400"/><circle cx="1701.7" cy="542.3" r="3.400"/><circle cx="1712.4" cy="564.8" r="3.400"/><circle cx="1782.7" cy="429.3" r="3.400"/><circle cx="1740.8" cy="466.9" r="3.400"/><circle cx="1760.8" cy="431.9" r="3.400"/><circle cx="1668.4" cy="474.8" r="3.400"/><circle cx="1709.3" cy="557.1" r="3.400"/><circle cx="1727.8" cy="527.7" r="3.400"/><circle cx="1747.2" cy="480.6" r="3.400"/><circle cx="1715.6" cy="556.0" r="3.400"/><circle cx="1776.6" cy="517.5" r="3.400"/><circle cx="1693.7" cy="513.6" r="3.400"/><circle cx="1708.1" cy="557.3" r="3.400"/><circle cx="1704.8" cy="540.1" r="3.400"/><circle cx="1655.7" cy="420.7" r="3.400"/><circle cx="1717.2" cy="550.1" r="3.400"/><circle cx="1739.2" cy="473.6" r="3.400"/><circle cx="1679.5" cy="455.9" r="3.400"/><circle cx="1738.4" cy="522.8" r="3.400"/><circle cx="1707.1" cy="553.2" r="3.400"/><circle cx="1691.1" cy="505.2" r="3.400"/><circle cx="1770.8" cy="430.9" r="3.400"/><circle cx="1709.9" cy="561.7" r="3.400"/><circle cx="1699.1" cy="502.8" r="3.400"/><circle cx="1746.8" cy="484.1" r="3.400"/><circle cx="1687.4" cy="454.4" r="3.400"/><circle cx="1753.4" cy="497.5" r="3.400"/><circle cx="1765.0" cy="418.2" r="3.400"/><circle cx="1713.0" cy="563.3" r="3.400"/><circle cx="1747.9" cy="423.7" r="3.400"/><circle cx="1717.3" cy="549.0" r="3.400"/><circle cx="1704.6" cy="545.2" r="3.400"/><circle cx="1733.3" cy="528.4" r="3.400"/><circle cx="1679.6" cy="409.7" r="3.400"/><circle cx="1727.9" cy="507.2" r="3.400"/><circle cx="1741.0" cy="518.0" r="3.400"/><circle cx="1711.1" cy="565.0" r="3.400"/><circle cx="1720.4" cy="549.0" r="3.400"/><circle cx="1689.6" cy="528.9" r="3.400"/><circle cx="1688.7" cy="477.6" r="3.400"/><circle cx="1732.7" cy="519.3" r="3.400"/><circle cx="1760.8" cy="424.0" r="3.400"/><circle cx="1696.7" cy="516.8" r="3.400"/><circle cx="1741.3" cy="505.7" r="3.400"/><circle cx="1670.1" cy="473.7" r="3.400"/><circle cx="1674.5" cy="477.9" r="3.400"/><circle cx="1689.4" cy="500.0" r="3.400"/><circle cx="1709.8" cy="556.6" r="3.400"/><circle cx="1733.0" cy="510.0" r="3.400"/><circle cx="1687.3" cy="525.3" r="3.400"/><circle cx="1732.5" cy="534.6" r="3.400"/><circle cx="1727.5" cy="521.3" r="3.400"/><circle cx="1701.4" cy="526.3" r="3.400"/><circle cx="1685.5" cy="491.8" r="3.400"/><circle cx="1708.8" cy="552.5" r="3.400"/><circle cx="1772.8" cy="492.3" r="3.400"/><circle cx="1773.4" cy="422.7" r="3.400"/><circle cx="1694.2" cy="506.7" r="3.400"/><circle cx="1745.8" cy="471.7" r="3.400"/><circle cx="1712.6" cy="563.4" r="3.400"/><circle cx="1741.0" cy="490.4" r="3.400"/><circle cx="1715.7" cy="556.1" r="3.400"/><circle cx="1761.1" cy="452.9" r="3.400"/><circle cx="1690.6" cy="517.3" r="3.400"/><circle cx="1733.1" cy="471.9" r="3.400"/><circle cx="1682.0" cy="527.1" r="3.400"/><circle cx="1735.0" cy="518.8" r="3.400"/><circle cx="1739.3" cy="503.2" r="3.400"/><circle cx="1682.0" cy="476.0" r="3.400"/><circle cx="1784.7" cy="490.2" r="3.400"/><circle cx="1715.4" cy="562.4" r="3.400"/><circle cx="1756.1" cy="448.4" r="3.400"/><circle cx="1708.1" cy="551.6" r="3.400"/><circle cx="1717.9" cy="550.6" r="3.400"/><circle cx="1740.1" cy="488.1" r="3.400"/><circle cx="1689.2" cy="516.8" r="3.400"/><circle cx="1702.9" cy="543.6" r="3.400"/><circle cx="1708.9" cy="554.4" r="3.400"/><circle cx="1719.8" cy="542.5" r="3.400"/><circle cx="1823.0" cy="439.8" r="3.400"/><circle cx="1679.2" cy="455.1" r="3.400"/><circle cx="1713.6" cy="557.0" r="3.400"/><circle cx="1665.3" cy="507.6" r="3.400"/><circle cx="1782.2" cy="471.6" r="3.400"/><circle cx="1732.0" cy="540.2" r="3.400"/><circle cx="1701.5" cy="548.6" r="3.400"/><circle cx="1679.3" cy="491.3" r="3.400"/><circle cx="1766.0" cy="475.4" r="3.400"/><circle cx="1705.8" cy="547.6" r="3.400"/><circle cx="1712.0" cy="562.8" r="3.400"/><circle cx="1745.6" cy="474.8" r="3.400"/><circle cx="1694.4" cy="528.9" r="3.400"/><circle cx="1677.4" cy="449.5" r="3.400"/><circle cx="1731.8" cy="518.6" r="3.400"/><circle cx="1694.5" cy="531.9" r="3.400"/><circle cx="1725.5" cy="538.6" r="3.400"/><circle cx="1664.2" cy="480.9" r="3.400"/><circle cx="1744.1" cy="524.2" r="3.400"/><circle cx="1762.3" cy="490.0" r="3.400"/><circle cx="1685.0" cy="492.8" r="3.400"/><circle cx="1690.9" cy="510.8" r="3.400"/><circle cx="1722.5" cy="553.9" r="3.400"/><circle cx="1686.7" cy="494.1" r="3.400"/><circle cx="1725.9" cy="531.4" r="3.400"/><circle cx="1703.6" cy="531.6" r="3.400"/><circle cx="1708.6" cy="547.2" r="3.400"/><circle cx="1698.0" cy="511.1" r="3.400"/><circle cx="1701.5" cy="536.9" r="3.400"/><circle cx="1688.4" cy="505.5" r="3.400"/><circle cx="1731.8" cy="532.9" r="3.400"/><circle cx="1691.4" cy="488.8" r="3.400"/><circle cx="1725.3" cy="544.4" r="3.400"/><circle cx="1754.2" cy="497.1" r="3.400"/><circle cx="1710.0" cy="554.2" r="3.400"/><circle cx="1680.5" cy="481.5" r="3.400"/><circle cx="1684.2" cy="497.8" r="3.400"/><circle cx="1773.9" cy="510.9" r="3.400"/><circle cx="1735.3" cy="524.9" r="3.400"/><circle cx="1679.5" cy="463.5" r="3.400"/><circle cx="1717.0" cy="552.4" r="3.400"/><circle cx="1713.4" cy="563.5" r="3.400"/><circle cx="1710.6" cy="560.4" r="3.400"/><circle cx="1705.7" cy="542.6" r="3.400"/><circle cx="1741.4" cy="539.1" r="3.400"/><circle cx="1714.2" cy="555.2" r="3.400"/><circle cx="1663.6" cy="496.8" r="3.400"/><circle cx="1734.2" cy="486.5" r="3.400"/><circle cx="1787.4" cy="505.8" r="3.400"/><circle cx="1761.5" cy="499.5" r="3.400"/><circle cx="1749.8" cy="439.0" r="3.400"/><circle cx="1730.0" cy="542.7" r="3.400"/><circle cx="1705.1" cy="534.7" r="3.400"/><circle cx="1688.0" cy="520.1" r="3.400"/><circle cx="1711.8" cy="557.7" r="3.400"/><circle cx="1698.5" cy="514.5" r="3.400"/><circle cx="1697.2" cy="514.0" r="3.400"/><circle cx="1705.7" cy="544.2" r="3.400"/><circle cx="1696.3" cy="506.1" r="3.400"/><circle cx="1756.2" cy="477.9" r="3.400"/><circle cx="1691.7" cy="517.2" r="3.400"/><circle cx="1736.7" cy="532.5" r="3.400"/><circle cx="1697.1" cy="503.8" r="3.400"/><circle cx="1696.9" cy="538.5" r="3.400"/><circle cx="1682.2" cy="496.7" r="3.400"/><circle cx="1779.8" cy="437.1" r="3.400"/><circle cx="1696.8" cy="543.4" r="3.400"/><circle cx="1692.6" cy="497.3" r="3.400"/><circle cx="1710.1" cy="556.7" r="3.400"/><circle cx="1698.7" cy="523.1" r="3.400"/><circle cx="1697.4" cy="517.1" r="3.400"/><circle cx="1716.4" cy="551.3" r="3.400"/><circle cx="1701.8" cy="547.4" r="3.400"/><circle cx="1789.3" cy="462.0" r="3.400"/><circle cx="1735.6" cy="511.6" r="3.400"/><circle cx="1755.3" cy="481.0" r="3.400"/><circle cx="1649.1" cy="494.4" r="3.400"/><circle cx="1705.7" cy="551.0" r="3.400"/><circle cx="1703.2" cy="557.2" r="3.400"/><circle cx="1717.0" cy="554.1" r="3.400"/><circle cx="1716.4" cy="545.0" r="3.400"/><circle cx="1707.7" cy="559.5" r="3.400"/><circle cx="1688.7" cy="526.0" r="3.400"/><circle cx="1719.3" cy="550.8" r="3.400"/><circle cx="1723.8" cy="517.7" r="3.400"/><circle cx="1694.4" cy="502.6" r="3.400"/><circle cx="1712.2" cy="563.4" r="3.400"/><circle cx="1729.9" cy="514.7" r="3.400"/><circle cx="1711.7" cy="562.7" r="3.400"/><circle cx="1687.5" cy="427.6" r="3.400"/><circle cx="1687.0" cy="484.5" r="3.400"/><circle cx="1724.4" cy="530.7" r="3.400"/><circle cx="1696.5" cy="518.1" r="3.400"/><circle cx="1757.9" cy="506.6" r="3.400"/><circle cx="1708.6" cy="556.7" r="3.400"/><circle cx="1696.2" cy="523.0" r="3.400"/><circle cx="1671.0" cy="414.2" r="3.400"/><circle cx="1700.2" cy="550.9" r="3.400"/><circle cx="1667.9" cy="444.4" r="3.400"/><circle cx="1729.0" cy="523.4" r="3.400"/><circle cx="1737.1" cy="505.7" r="3.400"/><circle cx="1707.0" cy="550.4" r="3.400"/><circle cx="1693.4" cy="531.3" r="3.400"/><circle cx="1720.6" cy="557.5" r="3.400"/><circle cx="1808.6" cy="421.8" r="3.400"/><circle cx="1767.3" cy="485.5" r="3.400"/><circle cx="1728.7" cy="509.1" r="3.400"/><circle cx="1679.0" cy="495.4" r="3.400"/><circle cx="1778.4" cy="459.2" r="3.400"/><circle cx="1679.6" cy="498.1" r="3.400"/><circle cx="1720.7" cy="553.5" r="3.400"/><circle cx="1730.3" cy="538.8" r="3.400"/><circle cx="1676.0" cy="437.4" r="3.400"/><circle cx="1715.1" cy="558.9" r="3.400"/><circle cx="1712.7" cy="561.8" r="3.400"/><circle cx="1727.2" cy="548.1" r="3.400"/><circle cx="1706.0" cy="547.8" r="3.400"/><circle cx="1680.6" cy="530.7" r="3.400"/><circle cx="1728.4" cy="544.4" r="3.400"/><circle cx="1783.7" cy="460.6" r="3.400"/><circle cx="1693.4" cy="525.9" r="3.400"/><circle cx="1708.6" cy="557.1" r="3.400"/><circle cx="1757.4" cy="492.7" r="3.400"/><circle cx="1764.2" cy="494.3" r="3.400"/><circle cx="1788.0" cy="418.5" r="3.400"/><circle cx="1735.4" cy="509.3" r="3.400"/><circle cx="1720.4" cy="546.7" r="3.400"/><circle cx="1721.6" cy="551.1" r="3.400"/><circle cx="1677.6" cy="500.3" r="3.400"/><circle cx="1719.3" cy="556.2" r="3.400"/><circle cx="1720.4" cy="551.6" r="3.400"/><circle cx="1716.8" cy="546.0" r="3.400"/><circle cx="1733.3" cy="533.6" r="3.400"/><circle cx="1722.1" cy="535.3" r="3.400"/><circle cx="1725.4" cy="550.5" r="3.400"/><circle cx="1758.8" cy="500.9" r="3.400"/><circle cx="1724.2" cy="543.6" r="3.400"/><circle cx="1720.5" cy="547.5" r="3.400"/><circle cx="1679.0" cy="507.1" r="3.400"/><circle cx="1722.6" cy="547.8" r="3.400"/><circle cx="1721.2" cy="532.2" r="3.400"/><circle cx="1694.4" cy="505.2" r="3.400"/><circle cx="1683.8" cy="509.0" r="3.400"/><circle cx="1660.4" cy="413.8" r="3.400"/><circle cx="1705.2" cy="532.6" r="3.400"/><circle cx="1669.7" cy="508.5" r="3.400"/><circle cx="1725.3" cy="521.4" r="3.400"/><circle cx="1704.4" cy="543.0" r="3.400"/><circle cx="1702.5" cy="547.1" r="3.400"/><circle cx="1692.0" cy="523.6" r="3.400"/><circle cx="1726.5" cy="515.6" r="3.400"/><circle cx="1721.2" cy="544.3" r="3.400"/><circle cx="1728.6" cy="551.2" r="3.400"/><circle cx="1670.8" cy="456.0" r="3.400"/><circle cx="1701.5" cy="538.6" r="3.400"/><circle cx="1705.1" cy="538.0" r="3.400"/><circle cx="1744.0" cy="528.6" r="3.400"/><circle cx="1710.2" cy="557.3" r="3.400"/><circle cx="1686.3" cy="479.6" r="3.400"/><circle cx="1710.1" cy="559.9" r="3.400"/><circle cx="1720.5" cy="547.4" r="3.400"/><circle cx="1685.1" cy="518.6" r="3.400"/><circle cx="1724.9" cy="536.2" r="3.400"/><circle cx="1684.2" cy="537.5" r="3.400"/><circle cx="1694.6" cy="507.8" r="3.400"/><circle cx="1725.5" cy="537.6" r="3.400"/><circle cx="1765.3" cy="435.7" r="3.400"/><circle cx="1711.3" cy="559.7" r="3.400"/><circle cx="1690.3" cy="488.1" r="3.400"/><circle cx="1629.7" cy="422.9" r="3.400"/><circle cx="1702.0" cy="547.9" r="3.400"/><circle cx="1723.3" cy="526.1" r="3.400"/><circle cx="1733.4" cy="527.0" r="3.400"/><circle cx="1712.3" cy="563.2" r="3.400"/><circle cx="1685.0" cy="522.5" r="3.400"/><circle cx="1716.2" cy="552.4" r="3.400"/><circle cx="1689.8" cy="532.8" r="3.400"/><circle cx="1716.6" cy="555.4" r="3.400"/><circle cx="1729.8" cy="541.4" r="3.400"/><circle cx="1735.6" cy="535.8" r="3.400"/><circle cx="1713.7" cy="561.1" r="3.400"/><circle cx="1715.1" cy="561.7" r="3.400"/><circle cx="1707.0" cy="562.5" r="3.400"/><circle cx="1700.6" cy="564.5" r="3.400"/><circle cx="1720.2" cy="562.8" r="3.400"/><circle cx="1706.3" cy="564.1" r="3.400"/><circle cx="1694.9" cy="563.2" r="3.400"/><circle cx="1727.7" cy="560.6" r="3.400"/><circle cx="1719.4" cy="564.0" r="3.400"/><circle cx="1719.4" cy="564.3" r="3.400"/><circle cx="1708.8" cy="561.6" r="3.400"/><circle cx="1719.3" cy="563.2" r="3.400"/><circle cx="1714.6" cy="560.3" r="3.400"/><circle cx="1707.8" cy="563.0" r="3.400"/><circle cx="1713.7" cy="564.1" r="3.400"/><circle cx="1703.5" cy="560.0" r="3.400"/><circle cx="1702.9" cy="562.4" r="3.400"/><circle cx="1701.5" cy="561.2" r="3.400"/><circle cx="1724.6" cy="559.5" r="3.400"/><circle cx="1707.8" cy="563.5" r="3.400"/><circle cx="1706.4" cy="560.4" r="3.400"/><circle cx="1727.9" cy="560.1" r="3.400"/><circle cx="1703.7" cy="559.7" r="3.400"/><circle cx="1714.9" cy="564.5" r="3.400"/><circle cx="1714.0" cy="563.8" r="3.400"/><circle cx="1715.9" cy="563.1" r="3.400"/><circle cx="1704.7" cy="565.6" r="3.400"/><circle cx="1717.7" cy="563.6" r="3.400"/><circle cx="1708.7" cy="562.7" r="3.400"/><circle cx="1711.4" cy="560.0" r="3.400"/><circle cx="1700.1" cy="560.2" r="3.400"/><circle cx="1695.1" cy="562.6" r="3.400"/><circle cx="1714.4" cy="562.1" r="3.400"/><circle cx="1711.9" cy="560.4" r="3.400"/><circle cx="1709.3" cy="560.9" r="3.400"/><circle cx="1715.3" cy="562.3" r="3.400"/><circle cx="1707.3" cy="562.2" r="3.400"/><circle cx="1712.4" cy="562.1" r="3.400"/><circle cx="1707.1" cy="565.3" r="3.400"/><circle cx="1694.2" cy="560.4" r="3.400"/><circle cx="1707.8" cy="563.6" r="3.400"/><circle cx="1719.2" cy="560.6" r="3.400"/><circle cx="1708.5" cy="562.7" r="3.400"/><circle cx="1712.7" cy="564.8" r="3.400"/><circle cx="1714.2" cy="563.3" r="3.400"/><circle cx="1711.8" cy="562.9" r="3.400"/><circle cx="1716.0" cy="560.0" r="3.400"/><circle cx="1711.5" cy="562.3" r="3.400"/><circle cx="1721.8" cy="559.6" r="3.400"/><circle cx="1710.2" cy="561.3" r="3.400"/><circle cx="1709.5" cy="564.8" r="3.400"/><circle cx="1713.2" cy="560.7" r="3.400"/><circle cx="1707.9" cy="564.7" r="3.400"/><circle cx="1705.6" cy="561.7" r="3.400"/><circle cx="1717.1" cy="559.4" r="3.400"/><circle cx="1708.8" cy="562.3" r="3.400"/><circle cx="1712.9" cy="561.2" r="3.400"/><circle cx="1716.6" cy="559.8" r="3.400"/><circle cx="1713.3" cy="564.9" r="3.400"/><circle cx="1717.3" cy="564.5" r="3.400"/><circle cx="1712.8" cy="564.3" r="3.400"/><circle cx="1720.0" cy="561.5" r="3.400"/><circle cx="1711.9" cy="563.1" r="3.400"/><circle cx="1718.0" cy="564.7" r="3.400"/><circle cx="1714.9" cy="565.8" r="3.400"/><circle cx="1712.6" cy="561.4" r="3.400"/><circle cx="1720.5" cy="560.1" r="3.400"/><circle cx="1714.4" cy="561.8" r="3.400"/><circle cx="1708.6" cy="563.0" r="3.400"/><circle cx="1719.4" cy="563.7" r="3.400"/><circle cx="1716.0" cy="564.9" r="3.400"/><circle cx="1713.1" cy="564.5" r="3.400"/><circle cx="1709.6" cy="561.8" r="3.400"/><circle cx="1714.9" cy="564.5" r="3.400"/><circle cx="1698.8" cy="562.6" r="3.400"/><circle cx="1710.7" cy="561.0" r="3.400"/><circle cx="1713.2" cy="564.4" r="3.400"/><circle cx="1702.7" cy="565.5" r="3.400"/><circle cx="1708.7" cy="563.9" r="3.400"/><circle cx="1704.1" cy="565.3" r="3.400"/><circle cx="1718.9" cy="562.8" r="3.400"/><circle cx="1727.3" cy="560.3" r="3.400"/><circle cx="1715.0" cy="564.3" r="3.400"/><circle cx="1706.3" cy="560.1" r="3.400"/><circle cx="1712.4" cy="559.8" r="3.400"/><circle cx="1722.6" cy="562.8" r="3.400"/><circle cx="1693.0" cy="560.2" r="3.400"/><circle cx="1721.0" cy="559.8" r="3.400"/><circle cx="1709.9" cy="565.5" r="3.400"/><circle cx="1705.8" cy="565.7" r="3.400"/><circle cx="1720.7" cy="560.1" r="3.400"/><circle cx="1706.7" cy="559.6" r="3.400"/><circle cx="1713.2" cy="564.0" r="3.400"/><circle cx="1733.3" cy="564.6" r="3.400"/><circle cx="1707.7" cy="559.7" r="3.400"/><circle cx="1738.4" cy="563.5" r="3.400"/><circle cx="1696.2" cy="560.6" r="3.400"/><circle cx="1713.2" cy="560.0" r="3.400"/><circle cx="1707.6" cy="562.5" r="3.400"/><circle cx="1716.1" cy="559.8" r="3.400"/><circle cx="1698.8" cy="564.5" r="3.400"/><circle cx="1700.6" cy="562.5" r="3.400"/><circle cx="1720.8" cy="560.7" r="3.400"/><circle cx="1706.2" cy="560.6" r="3.400"/><circle cx="1699.7" cy="561.3" r="3.400"/><circle cx="1716.0" cy="563.0" r="3.400"/><circle cx="1696.6" cy="560.1" r="3.400"/><circle cx="1709.6" cy="559.4" r="3.400"/><circle cx="1703.2" cy="562.2" r="3.400"/><circle cx="1720.7" cy="560.3" r="3.400"/><circle cx="1769.9" cy="494.9" r="3.400"/><circle cx="1772.0" cy="453.0" r="3.400"/><circle cx="1830.3" cy="555.3" r="3.400"/><circle cx="1753.0" cy="534.6" r="3.400"/><circle cx="1815.0" cy="467.2" r="3.400"/><circle cx="1783.2" cy="544.6" r="3.400"/><circle cx="1814.3" cy="485.4" r="3.400"/><circle cx="1794.3" cy="522.4" r="3.400"/><circle cx="1783.6" cy="525.9" r="3.400"/><circle cx="1843.5" cy="516.1" r="3.400"/><circle cx="1830.7" cy="495.9" r="3.400"/><circle cx="1768.5" cy="518.4" r="3.400"/><circle cx="1825.2" cy="460.0" r="3.400"/><circle cx="1857.0" cy="541.3" r="3.400"/><circle cx="1772.4" cy="541.4" r="3.400"/><circle cx="1763.4" cy="504.1" r="3.400"/><circle cx="1831.3" cy="455.9" r="3.400"/><circle cx="1815.0" cy="538.9" r="3.400"/><circle cx="1787.4" cy="537.0" r="3.400"/><circle cx="1775.0" cy="482.3" r="3.400"/><circle cx="1803.5" cy="534.9" r="3.400"/><circle cx="1774.5" cy="442.0" r="3.400"/><circle cx="1820.1" cy="488.0" r="3.400"/><circle cx="1780.4" cy="517.3" r="3.400"/><circle cx="1836.9" cy="554.7" r="3.400"/><circle cx="1823.1" cy="449.0" r="3.400"/><circle cx="1820.7" cy="550.3" r="3.400"/><circle cx="1743.4" cy="448.1" r="3.400"/><circle cx="1762.8" cy="499.5" r="3.400"/><circle cx="1822.8" cy="480.3" r="3.400"/><circle cx="1776.0" cy="469.1" r="3.400"/><circle cx="1856.5" cy="509.0" r="3.400"/><circle cx="1790.0" cy="471.8" r="3.400"/><circle cx="1851.3" cy="485.4" r="3.400"/><circle cx="1858.2" cy="477.3" r="3.400"/><circle cx="1862.0" cy="531.9" r="3.400"/><circle cx="1825.5" cy="532.6" r="3.400"/><circle cx="1754.1" cy="508.7" r="3.400"/><circle cx="1860.6" cy="527.3" r="3.400"/><circle cx="1778.7" cy="439.4" r="3.400"/><circle cx="1865.2" cy="481.5" r="3.400"/><circle cx="1784.4" cy="453.7" r="3.400"/><circle cx="1747.5" cy="551.6" r="3.400"/><circle cx="1747.2" cy="508.6" r="3.400"/><circle cx="1770.0" cy="445.4" r="3.400"/><circle cx="1908.6" cy="475.3" r="3.400"/><circle cx="1912.3" cy="500.1" r="3.400"/><circle cx="1898.7" cy="516.9" r="3.400"/><circle cx="1909.3" cy="470.2" r="3.400"/><circle cx="1956.8" cy="471.2" r="3.400"/><circle cx="1876.5" cy="496.5" r="3.400"/><circle cx="1944.1" cy="511.4" r="3.400"/><circle cx="1873.6" cy="508.7" r="3.400"/><circle cx="1875.3" cy="481.1" r="3.400"/><circle cx="1933.0" cy="468.2" r="3.400"/><circle cx="1872.2" cy="483.0" r="3.400"/><circle cx="1940.4" cy="510.1" r="3.400"/><circle cx="1649.9" cy="412.0" r="3.400"/><circle cx="1591.1" cy="523.8" r="3.400"/><circle cx="1641.0" cy="451.4" r="3.400"/><circle cx="1642.3" cy="478.7" r="3.400"/><circle cx="1644.0" cy="521.0" r="3.400"/><circle cx="1616.4" cy="465.7" r="3.400"/><circle cx="1586.4" cy="531.8" r="3.400"/><circle cx="1627.1" cy="523.4" r="3.400"/><circle cx="1610.8" cy="512.0" r="3.400"/><circle cx="1629.1" cy="413.3" r="3.400"/><circle cx="1602.8" cy="450.2" r="3.400"/><circle cx="1606.4" cy="507.5" r="3.400"/><circle cx="1599.8" cy="413.2" r="3.400"/><circle cx="1649.0" cy="429.3" r="3.400"/><circle cx="1628.0" cy="507.5" r="3.400"/><circle cx="1602.3" cy="427.8" r="3.400"/><circle cx="1642.6" cy="508.0" r="3.400"/><circle cx="1615.0" cy="507.1" r="3.400"/><circle cx="1614.5" cy="410.7" r="3.400"/><circle cx="1654.3" cy="479.7" r="3.400"/><circle cx="1639.7" cy="511.8" r="3.400"/><circle cx="1607.8" cy="415.9" r="3.400"/><circle cx="1617.6" cy="463.7" r="3.400"/><circle cx="1598.6" cy="426.8" r="3.400"/><circle cx="1576.5" cy="491.4" r="3.400"/><circle cx="1641.8" cy="419.7" r="3.400"/><circle cx="1606.4" cy="423.9" r="3.400"/><circle cx="1644.3" cy="435.4" r="3.400"/><circle cx="1646.6" cy="516.0" r="3.400"/><circle cx="1646.4" cy="487.8" r="3.400"/>
</g>
<g fill="#66d9b0" fill-opacity="0.7">
<circle cx="1735.0" cy="512.5" r="3.400"/><circle cx="1742.0" cy="512.5" r="3.400"/><circle cx="1749.8" cy="512.5" r="3.400"/><circle cx="1758.5" cy="512.5" r="3.400"/><circle cx="1765.5" cy="512.5" r="3.400"/><circle cx="1773.1" cy="512.5" r="3.400"/><circle cx="1780.0" cy="512.5" r="3.400"/><circle cx="1786.8" cy="512.5" r="3.400"/><circle cx="1793.3" cy="512.5" r="3.400"/><circle cx="1798.8" cy="512.5" r="3.400"/><circle cx="1805.2" cy="512.5" r="3.400"/><circle cx="1813.2" cy="512.5" r="3.400"/><circle cx="1821.5" cy="512.5" r="3.400"/><circle cx="1829.4" cy="512.5" r="3.400"/><circle cx="1836.5" cy="512.5" r="3.400"/><circle cx="1843.4" cy="512.5" r="3.400"/><circle cx="1849.6" cy="512.5" r="3.400"/><circle cx="1855.9" cy="512.5" r="3.400"/>
</g>
<g fill="#66d9b0" fill-opacity="0.35">
<circle cx="1864.9" cy="512.5" r="3.400"/><circle cx="1872.5" cy="512.5" r="3.400"/><circle cx="1891.7" cy="512.5" r="3.400"/><circle cx="1913.4" cy="512.5" r="3.400"/><circle cx="1934.2" cy="512.5" r="3.400"/><circle cx="1951.5" cy="512.5" r="3.400"/>
</g>
<g fill="#348b8b">
<circle cx="1495.6" cy="80.9" r="3.300"/><circle cx="1518.3" cy="103.7" r="3.300"/><circle cx="1534.9" cy="60.1" r="3.300"/><circle cx="1550.2" cy="54.7" r="3.300"/><circle cx="1554.4" cy="54.7" r="3.300"/><circle cx="1578.8" cy="64.9" r="3.300"/><circle cx="1578.8" cy="80.9" r="3.300"/><circle cx="1597.0" cy="77.5" r="3.300"/><circle cx="1584.7" cy="88.2" r="3.300"/><circle cx="1557.4" cy="93.5" r="3.300"/><circle cx="1612.0" cy="96.2" r="3.300"/><circle cx="1580.4" cy="106.1" r="3.300"/><circle cx="1601.3" cy="114.4" r="3.300"/><circle cx="1589.8" cy="118.1" r="3.300"/><circle cx="1557.1" cy="118.1" r="3.300"/><circle cx="1541.9" cy="121.6" r="3.300"/><circle cx="1571.3" cy="126.4" r="3.300"/><circle cx="1556.0" cy="131.3" r="3.300"/><circle cx="1589.2" cy="133.7" r="3.300"/><circle cx="1634.2" cy="54.7" r="3.300"/><circle cx="1666.8" cy="54.7" r="3.300"/><circle cx="1640.6" cy="146.2" r="3.300"/><circle cx="1663.1" cy="149.2" r="3.300"/><circle cx="1595.4" cy="159.6" r="3.300"/><circle cx="1601.3" cy="163.6" r="3.300"/><circle cx="1613.6" cy="160.7" r="3.300"/><circle cx="1640.6" cy="163.6" r="3.300"/><circle cx="1643.8" cy="167.9" r="3.300"/><circle cx="1597.8" cy="172.5" r="3.300"/><circle cx="1604.0" cy="173.8" r="3.300"/><circle cx="1614.1" cy="175.7" r="3.300"/><circle cx="1609.8" cy="179.2" r="3.300"/><circle cx="1608.0" cy="184.5" r="3.300"/><circle cx="1593.2" cy="183.4" r="3.300"/><circle cx="1588.4" cy="188.8" r="3.300"/><circle cx="1606.9" cy="189.1" r="3.300"/><circle cx="1575.6" cy="189.1" r="3.300"/><circle cx="1645.7" cy="180.5" r="3.300"/><circle cx="1648.1" cy="193.9" r="3.300"/><circle cx="1550.4" cy="198.4" r="3.300"/><circle cx="1570.5" cy="198.4" r="3.300"/><circle cx="1576.7" cy="198.4" r="3.300"/><circle cx="1586.0" cy="198.4" r="3.300"/><circle cx="1590.6" cy="202.4" r="3.300"/><circle cx="1595.7" cy="198.7" r="3.300"/><circle cx="1628.3" cy="210.2" r="3.300"/><circle cx="1638.5" cy="210.2" r="3.300"/><circle cx="1636.9" cy="214.0" r="3.300"/><circle cx="1652.1" cy="206.7" r="3.300"/><circle cx="1659.9" cy="209.9" r="3.300"/><circle cx="1630.7" cy="216.6" r="3.300"/><circle cx="1613.6" cy="216.6" r="3.300"/><circle cx="1637.4" cy="222.8" r="3.300"/><circle cx="1656.7" cy="222.8" r="3.300"/><circle cx="1554.4" cy="219.8" r="3.300"/><circle cx="1566.5" cy="222.8" r="3.300"/><circle cx="1587.9" cy="222.8" r="3.300"/><circle cx="1597.8" cy="230.5" r="3.300"/><circle cx="1612.0" cy="230.5" r="3.300"/><circle cx="1616.0" cy="228.1" r="3.300"/><circle cx="1622.7" cy="230.5" r="3.300"/><circle cx="1644.9" cy="230.5" r="3.300"/><circle cx="1553.1" cy="237.5" r="3.300"/><circle cx="1636.3" cy="239.4" r="3.300"/><circle cx="1640.6" cy="241.2" r="3.300"/><circle cx="1631.2" cy="243.4" r="3.300"/><circle cx="1627.5" cy="245.5" r="3.300"/><circle cx="1573.7" cy="245.5" r="3.300"/><circle cx="1605.8" cy="243.9" r="3.300"/><circle cx="1608.8" cy="247.4" r="3.300"/><circle cx="1613.3" cy="250.6" r="3.300"/><circle cx="1619.5" cy="250.6" r="3.300"/><circle cx="1621.6" cy="254.9" r="3.300"/><circle cx="1608.0" cy="255.4" r="3.300"/><circle cx="1639.5" cy="255.4" r="3.300"/><circle cx="1649.4" cy="250.9" r="3.300"/><circle cx="1658.0" cy="252.8" r="3.300"/><circle cx="1542.7" cy="254.1" r="3.300"/><circle cx="1592.4" cy="260.2" r="3.300"/><circle cx="1612.5" cy="261.3" r="3.300"/><circle cx="1637.9" cy="261.3" r="3.300"/><circle cx="1623.2" cy="266.1" r="3.300"/><circle cx="1626.7" cy="266.1" r="3.300"/><circle cx="1646.8" cy="271.5" r="3.300"/><circle cx="1659.3" cy="271.5" r="3.300"/><circle cx="1686.9" cy="274.2" r="3.300"/><circle cx="1721.7" cy="265.6" r="3.300"/><circle cx="1568.6" cy="277.4" r="3.300"/><circle cx="1586.6" cy="279.0" r="3.300"/><circle cx="1597.3" cy="277.4" r="3.300"/><circle cx="1618.7" cy="275.5" r="3.300"/><circle cx="1638.7" cy="282.7" r="3.300"/><circle cx="1559.3" cy="287.5" r="3.300"/><circle cx="1568.6" cy="286.7" r="3.300"/><circle cx="1612.0" cy="282.2" r="3.300"/><circle cx="1635.5" cy="286.2" r="3.300"/><circle cx="1650.8" cy="286.2" r="3.300"/><circle cx="1694.9" cy="286.7" r="3.300"/><circle cx="1533.0" cy="290.2" r="3.300"/><circle cx="1824.2" cy="54.7" r="3.300"/><circle cx="1824.2" cy="69.4" r="3.300"/><circle cx="1825.5" cy="81.5" r="3.300"/><circle cx="1849.9" cy="112.5" r="3.300"/><circle cx="1751.4" cy="129.7" r="3.300"/><circle cx="1829.5" cy="129.7" r="3.300"/><circle cx="1839.4" cy="148.4" r="3.300"/><circle cx="1771.7" cy="213.7" r="3.300"/><circle cx="1869.9" cy="225.5" r="3.300"/><circle cx="1791.0" cy="235.1" r="3.300"/><circle cx="1785.4" cy="247.4" r="3.300"/><circle cx="1798.8" cy="250.9" r="3.300"/><circle cx="1721.4" cy="265.6" r="3.300"/><circle cx="1807.0" cy="266.1" r="3.300"/><circle cx="1796.3" cy="268.8" r="3.300"/><circle cx="1798.5" cy="268.8" r="3.300"/><circle cx="1803.0" cy="269.6" r="3.300"/><circle cx="1806.5" cy="275.5" r="3.300"/><circle cx="1943.5" cy="282.5" r="3.300"/><circle cx="1788.8" cy="285.4" r="3.300"/><circle cx="1793.1" cy="296.2" r="3.300"/><circle cx="1847.7" cy="295.4" r="3.300"/><circle cx="1868.6" cy="304.8" r="3.300"/><circle cx="1769.6" cy="312.8" r="3.300"/><circle cx="1817.8" cy="312.0" r="3.300"/><circle cx="1796.9" cy="318.7" r="3.300"/><circle cx="1787.8" cy="323.5" r="3.300"/><circle cx="1833.3" cy="318.7" r="3.300"/><circle cx="1817.2" cy="327.5" r="3.300"/><circle cx="1819.1" cy="332.1" r="3.300"/><circle cx="1831.9" cy="332.1" r="3.300"/><circle cx="1835.1" cy="332.1" r="3.300"/><circle cx="1850.4" cy="335.6" r="3.300"/><circle cx="1785.9" cy="342.8" r="3.300"/><circle cx="1792.3" cy="339.6" r="3.300"/><circle cx="1795.8" cy="339.6" r="3.300"/><circle cx="1721.9" cy="346.3" r="3.300"/><circle cx="1769.6" cy="348.9" r="3.300"/><circle cx="1775.7" cy="348.9" r="3.300"/><circle cx="1782.4" cy="351.6" r="3.300"/><circle cx="1792.9" cy="348.9" r="3.300"/><circle cx="1797.7" cy="351.6" r="3.300"/><circle cx="1803.0" cy="355.1" r="3.300"/><circle cx="1738.0" cy="357.2" r="3.300"/><circle cx="1745.5" cy="357.2" r="3.300"/><circle cx="1749.5" cy="362.3" r="3.300"/><circle cx="1818.6" cy="359.7" r="3.300"/><circle cx="1760.2" cy="371.2" r="3.300"/><circle cx="1765.6" cy="371.2" r="3.300"/><circle cx="1772.3" cy="371.2" r="3.300"/><circle cx="1777.6" cy="365.8" r="3.300"/><circle cx="1798.2" cy="370.6" r="3.300"/><circle cx="1758.3" cy="376.5" r="3.300"/><circle cx="1765.0" cy="376.5" r="3.300"/><circle cx="1803.6" cy="376.5" r="3.300"/><circle cx="1748.2" cy="378.4" r="3.300"/><circle cx="1823.9" cy="376.5" r="3.300"/><circle cx="1821.8" cy="379.7" r="3.300"/><circle cx="1812.4" cy="383.5" r="3.300"/><circle cx="1750.3" cy="385.1" r="3.300"/><circle cx="1762.1" cy="385.1" r="3.300"/><circle cx="1764.8" cy="386.7" r="3.300"/><circle cx="1770.7" cy="392.3" r="3.300"/><circle cx="1778.9" cy="389.1" r="3.300"/><circle cx="1777.6" cy="393.1" r="3.300"/><circle cx="1781.6" cy="393.9" r="3.300"/><circle cx="1785.6" cy="394.4" r="3.300"/><circle cx="1788.3" cy="392.6" r="3.300"/><circle cx="1804.4" cy="392.3" r="3.300"/><circle cx="1784.0" cy="398.5" r="3.300"/><circle cx="1763.7" cy="401.9" r="3.300"/><circle cx="1770.1" cy="399.8" r="3.300"/><circle cx="1774.4" cy="400.3" r="3.300"/><circle cx="1777.1" cy="401.9" r="3.300"/><circle cx="1819.6" cy="401.1" r="3.300"/><circle cx="1860.6" cy="399.8" r="3.300"/><circle cx="1905.3" cy="397.7" r="3.300"/><circle cx="1533.5" cy="291.3" r="3.300"/><circle cx="1559.0" cy="288.0" r="3.300"/><circle cx="1568.7" cy="277.5" r="3.300"/><circle cx="1568.7" cy="288.0" r="3.300"/><circle cx="1586.0" cy="279.7" r="3.300"/><circle cx="1597.2" cy="277.2" r="3.300"/><circle cx="1589.7" cy="297.7" r="3.300"/><circle cx="1589.0" cy="304.5" r="3.300"/><circle cx="1555.7" cy="310.2" r="3.300"/><circle cx="1568.3" cy="331.8" r="3.300"/><circle cx="1593.0" cy="323.2" r="3.300"/><circle cx="1601.7" cy="323.2" r="3.300"/><circle cx="1601.0" cy="331.8" r="3.300"/><circle cx="1595.0" cy="339.3" r="3.300"/><circle cx="1598.7" cy="342.7" r="3.300"/><circle cx="1581.5" cy="349.0" r="3.300"/><circle cx="1535.4" cy="359.7" r="3.300"/><circle cx="1543.7" cy="368.7" r="3.300"/><circle cx="1557.8" cy="377.9" r="3.300"/><circle cx="1589.7" cy="362.2" r="3.300"/><circle cx="1592.0" cy="363.7" r="3.300"/><circle cx="1594.5" cy="361.8" r="3.300"/><circle cx="1602.0" cy="360.0" r="3.300"/><circle cx="1604.0" cy="370.7" r="3.300"/><circle cx="1602.2" cy="376.4" r="3.300"/><circle cx="1615.5" cy="374.5" r="3.300"/><circle cx="1612.2" cy="350.2" r="3.300"/><circle cx="1614.5" cy="348.0" r="3.300"/><circle cx="1694.7" cy="288.0" r="3.300"/><circle cx="1686.4" cy="274.5" r="3.300"/><circle cx="1685.4" cy="327.7" r="3.300"/><circle cx="1719.4" cy="345.7" r="3.300"/><circle cx="1650.8" cy="321.2" r="3.300"/><circle cx="1659.3" cy="346.2" r="3.300"/><circle cx="1623.8" cy="289.8" r="3.300"/><circle cx="1629.4" cy="291.2" r="3.300"/><circle cx="1642.2" cy="333.1" r="3.300"/><circle cx="1608.7" cy="351.1" r="3.300"/><circle cx="1669.1" cy="384.3" r="3.300"/><circle cx="1643.5" cy="304.3" r="3.300"/><circle cx="1630.5" cy="358.4" r="3.300"/><circle cx="1647.9" cy="290.0" r="3.300"/><circle cx="1633.3" cy="363.3" r="3.300"/><circle cx="1645.2" cy="336.5" r="3.300"/><circle cx="1644.0" cy="376.7" r="3.300"/><circle cx="1636.4" cy="369.1" r="3.300"/><circle cx="1646.6" cy="373.2" r="3.300"/><circle cx="1641.7" cy="386.3" r="3.300"/><circle cx="1663.5" cy="351.4" r="3.300"/><circle cx="1661.6" cy="382.1" r="3.300"/><circle cx="1670.5" cy="359.4" r="3.300"/><circle cx="1635.9" cy="328.5" r="3.300"/><circle cx="1616.3" cy="285.7" r="3.300"/><circle cx="1650.0" cy="292.5" r="3.300"/><circle cx="1612.1" cy="315.9" r="3.300"/><circle cx="1669.3" cy="325.3" r="3.300"/><circle cx="1600.0" cy="303.8" r="3.300"/><circle cx="1608.8" cy="310.5" r="3.300"/><circle cx="1630.7" cy="283.5" r="3.300"/><circle cx="1597.7" cy="326.6" r="3.300"/><circle cx="1624.5" cy="343.8" r="3.300"/><circle cx="1673.0" cy="362.8" r="3.300"/><circle cx="1657.7" cy="386.2" r="3.300"/><circle cx="1631.0" cy="329.3" r="3.300"/><circle cx="1635.1" cy="290.3" r="3.300"/><circle cx="1642.0" cy="307.6" r="3.300"/><circle cx="1644.3" cy="283.0" r="3.300"/><circle cx="1645.3" cy="355.5" r="3.300"/><circle cx="1624.0" cy="312.8" r="3.300"/><circle cx="1632.3" cy="338.0" r="3.300"/><circle cx="1637.0" cy="323.4" r="3.300"/><circle cx="1643.6" cy="345.3" r="3.300"/><circle cx="1651.3" cy="384.9" r="3.300"/><circle cx="1647.8" cy="345.8" r="3.300"/><circle cx="1670.9" cy="383.6" r="3.300"/><circle cx="1647.1" cy="379.6" r="3.300"/><circle cx="1624.0" cy="325.0" r="3.300"/><circle cx="1659.7" cy="395.9" r="3.300"/><circle cx="1679.4" cy="393.6" r="3.300"/><circle cx="1629.8" cy="309.0" r="3.300"/><circle cx="1665.1" cy="382.2" r="3.300"/><circle cx="1645.5" cy="360.1" r="3.300"/><circle cx="1645.1" cy="390.4" r="3.300"/><circle cx="1637.6" cy="371.5" r="3.300"/><circle cx="1642.3" cy="397.7" r="3.300"/><circle cx="1653.9" cy="368.5" r="3.300"/><circle cx="1645.8" cy="398.7" r="3.300"/><circle cx="1615.9" cy="298.5" r="3.300"/><circle cx="1643.2" cy="397.6" r="3.300"/><circle cx="1650.2" cy="380.5" r="3.300"/><circle cx="1647.5" cy="311.4" r="3.300"/><circle cx="1641.0" cy="324.7" r="3.300"/><circle cx="1630.6" cy="342.2" r="3.300"/><circle cx="1657.4" cy="344.8" r="3.300"/><circle cx="1601.6" cy="303.3" r="3.300"/><circle cx="1640.6" cy="321.5" r="3.300"/><circle cx="1642.9" cy="348.5" r="3.300"/><circle cx="1625.4" cy="312.3" r="3.300"/><circle cx="1629.5" cy="374.1" r="3.300"/><circle cx="1649.2" cy="390.7" r="3.300"/><circle cx="1624.9" cy="355.3" r="3.300"/><circle cx="1638.2" cy="336.4" r="3.300"/><circle cx="1644.2" cy="394.2" r="3.300"/><circle cx="1669.1" cy="349.0" r="3.300"/><circle cx="1617.7" cy="297.4" r="3.300"/><circle cx="1651.9" cy="375.5" r="3.300"/><circle cx="1625.7" cy="301.2" r="3.300"/><circle cx="1651.4" cy="308.9" r="3.300"/><circle cx="1648.5" cy="399.8" r="3.300"/><circle cx="1610.7" cy="302.1" r="3.300"/><circle cx="1642.3" cy="306.1" r="3.300"/><circle cx="1662.7" cy="368.2" r="3.300"/><circle cx="1631.7" cy="285.1" r="3.300"/><circle cx="1639.7" cy="314.9" r="3.300"/><circle cx="1664.5" cy="332.8" r="3.300"/><circle cx="1639.7" cy="350.3" r="3.300"/><circle cx="1638.7" cy="364.2" r="3.300"/><circle cx="1644.2" cy="290.9" r="3.300"/><circle cx="1649.9" cy="314.6" r="3.300"/><circle cx="1648.3" cy="295.9" r="3.300"/><circle cx="1634.5" cy="288.9" r="3.300"/><circle cx="1657.3" cy="372.6" r="3.300"/><circle cx="1646.5" cy="342.0" r="3.300"/><circle cx="1649.4" cy="312.6" r="3.300"/><circle cx="1637.2" cy="369.5" r="3.300"/><circle cx="1648.1" cy="393.3" r="3.300"/><circle cx="1634.0" cy="379.6" r="3.300"/><circle cx="1645.7" cy="329.4" r="3.300"/><circle cx="1657.4" cy="364.2" r="3.300"/><circle cx="1643.6" cy="366.4" r="3.300"/><circle cx="1634.5" cy="330.8" r="3.300"/><circle cx="1653.3" cy="385.7" r="3.300"/><circle cx="1635.5" cy="316.3" r="3.300"/><circle cx="1647.9" cy="301.6" r="3.300"/><circle cx="1682.2" cy="314.1" r="3.300"/><circle cx="1634.9" cy="319.5" r="3.300"/><circle cx="1640.0" cy="339.0" r="3.300"/><circle cx="1630.9" cy="306.7" r="3.300"/><circle cx="1630.1" cy="293.6" r="3.300"/><circle cx="1646.4" cy="287.9" r="3.300"/><circle cx="1643.9" cy="352.1" r="3.300"/><circle cx="1634.3" cy="371.6" r="3.300"/><circle cx="1614.7" cy="329.0" r="3.300"/><circle cx="1662.2" cy="399.2" r="3.300"/><circle cx="1635.7" cy="388.2" r="3.300"/><circle cx="1608.5" cy="299.4" r="3.300"/><circle cx="1640.8" cy="363.6" r="3.300"/><circle cx="1617.9" cy="298.7" r="3.300"/><circle cx="1626.9" cy="356.9" r="3.300"/><circle cx="1668.5" cy="340.7" r="3.300"/><circle cx="1640.7" cy="342.4" r="3.300"/><circle cx="1665.4" cy="360.8" r="3.300"/><circle cx="1643.1" cy="291.8" r="3.300"/><circle cx="1665.2" cy="341.3" r="3.300"/><circle cx="1628.3" cy="339.5" r="3.300"/><circle cx="1620.7" cy="358.8" r="3.300"/><circle cx="1630.7" cy="300.4" r="3.300"/><circle cx="1666.9" cy="350.0" r="3.300"/><circle cx="1665.3" cy="362.7" r="3.300"/><circle cx="1623.1" cy="344.0" r="3.300"/><circle cx="1652.4" cy="388.5" r="3.300"/><circle cx="1653.4" cy="398.4" r="3.300"/><circle cx="1645.9" cy="307.9" r="3.300"/><circle cx="1642.9" cy="379.8" r="3.300"/><circle cx="1646.7" cy="387.6" r="3.300"/><circle cx="1628.5" cy="340.4" r="3.300"/><circle cx="1605.2" cy="283.4" r="3.300"/><circle cx="1632.5" cy="299.6" r="3.300"/><circle cx="1647.5" cy="382.0" r="3.300"/><circle cx="1644.4" cy="392.3" r="3.300"/><circle cx="1600.7" cy="326.9" r="3.300"/><circle cx="1643.1" cy="400.9" r="3.300"/><circle cx="1652.7" cy="384.3" r="3.300"/><circle cx="1658.9" cy="397.2" r="3.300"/><circle cx="1656.9" cy="384.6" r="3.300"/><circle cx="1660.5" cy="384.1" r="3.300"/><circle cx="1654.1" cy="389.8" r="3.300"/><circle cx="1658.3" cy="400.0" r="3.300"/><circle cx="1661.8" cy="398.3" r="3.300"/><circle cx="1659.5" cy="399.0" r="3.300"/><circle cx="1647.5" cy="399.6" r="3.300"/><circle cx="1646.1" cy="379.1" r="3.300"/><circle cx="1652.8" cy="394.8" r="3.300"/><circle cx="1645.6" cy="392.8" r="3.300"/><circle cx="1659.3" cy="384.6" r="3.300"/><circle cx="1670.2" cy="380.9" r="3.300"/><circle cx="1660.5" cy="388.9" r="3.300"/><circle cx="1653.0" cy="395.0" r="3.300"/><circle cx="1660.5" cy="400.5" r="3.300"/><circle cx="1655.4" cy="384.9" r="3.300"/><circle cx="1665.5" cy="390.8" r="3.300"/><circle cx="1652.9" cy="381.7" r="3.300"/><circle cx="1658.4" cy="382.8" r="3.300"/><circle cx="1662.3" cy="383.1" r="3.300"/><circle cx="1651.8" cy="398.8" r="3.300"/><circle cx="1663.1" cy="381.2" r="3.300"/><circle cx="1655.8" cy="382.4" r="3.300"/><circle cx="1661.0" cy="380.1" r="3.300"/><circle cx="1659.2" cy="383.5" r="3.300"/><circle cx="1655.6" cy="398.4" r="3.300"/><circle cx="1664.4" cy="395.2" r="3.300"/><circle cx="1650.3" cy="390.1" r="3.300"/><circle cx="1659.5" cy="386.7" r="3.300"/><circle cx="1654.8" cy="384.4" r="3.300"/><circle cx="1658.0" cy="400.3" r="3.300"/><circle cx="1661.4" cy="392.5" r="3.300"/><circle cx="1661.5" cy="397.8" r="3.300"/><circle cx="1657.1" cy="383.7" r="3.300"/><circle cx="1661.1" cy="387.2" r="3.300"/><circle cx="1640.8" cy="397.5" r="3.300"/><circle cx="1680.1" cy="398.8" r="3.300"/><circle cx="1677.3" cy="396.1" r="3.300"/><circle cx="1676.2" cy="399.2" r="3.300"/><circle cx="1669.4" cy="384.0" r="3.300"/><circle cx="1677.1" cy="390.7" r="3.300"/><circle cx="1684.4" cy="398.5" r="3.300"/><circle cx="1671.9" cy="400.5" r="3.300"/><circle cx="1676.0" cy="386.6" r="3.300"/><circle cx="1678.4" cy="392.9" r="3.300"/><circle cx="1671.1" cy="396.3" r="3.300"/><circle cx="1615.0" cy="395.7" r="3.300"/><circle cx="1628.6" cy="394.3" r="3.300"/><circle cx="1621.4" cy="386.6" r="3.300"/><circle cx="1628.9" cy="399.8" r="3.300"/><circle cx="1623.7" cy="395.7" r="3.300"/><circle cx="1627.0" cy="389.8" r="3.300"/><circle cx="1631.0" cy="395.5" r="3.300"/><circle cx="1627.1" cy="387.1" r="3.300"/>
</g>
<path d="M1419.300 54.200H1429V571.500H1419.300" fill="none" stroke="#000" stroke-width="4.100"/><path d="M1419.300 312.600H1429" fill="none" stroke="#000" stroke-width="3.300"/>
<path d="M1439 592.500V583.200H1986.600V592.500M1712 583.200V592.500" fill="none" stroke="#000" stroke-width="4"/>
<g font-size="25.600" class="b" text-anchor="middle"><text x="1401" y="66">4</text><text x="1401" y="323.100">2</text><text x="1401" y="580">0</text>
<text x="1437" y="619">-3</text><text x="1712" y="619">0</text><text x="1984.600" y="619">3</text></g>
<text transform="translate(1362.700,451) rotate(-90)" font-size="35" class="b" textLength="260.500" lengthAdjust="spacingAndGlyphs">P-value (-log10)</text>
<g font-size="18.500" stroke-width="0.700"><text x="1450" y="395" fill="#2b8488" stroke="#2b8488"><tspan font-style="italic">p</tspan> &lt; 0.05</text><text x="1450" y="422" fill="#62d6ad" stroke="#62d6ad"><tspan font-style="italic">p</tspan> &gt; 0.05</text></g>
<path d="M1450 403H1518.500" stroke="#9c9c9c" stroke-width="1.200" stroke-dasharray="4.200 3.800" fill="none"/>
<g font-size="13" class="b">
<text x="1574.5" y="98.9">NCAM2</text>
<text x="1624.8" y="182.4">BSN</text>
<text x="1644.9" y="271.5">NFASC</text>
<text x="1586.6" y="292.7">NLGN3</text>
<text x="1669.0" y="310.9">ATP1A3</text>
<text x="1670.0" y="345.5">MBP</text>
<text x="1671.7" y="362.9">PVALB</text>
<text x="1842.6" y="74.8">LMNB1</text>
<text x="1888.7" y="230.8">CALML3</text>
<text x="1806.5" y="291.4">VIM</text>
<text x="1768.2" y="366.9">HNRNPA1</text>
</g>
<path d="M1569.0 95.4H1558.5M1561.5 92.4L1558.5 95.4L1561.5 98.4M1620.0 178.9H1608.8M1611.8 175.9L1608.8 178.9L1611.8 181.9M1640.0 268.0H1628.4M1631.4 265.0L1628.4 268.0L1631.4 271.0M1582.0 288.7H1570.5M1573.5 285.7L1570.5 288.7L1573.5 291.7M1664.2 307.5H1652.1M1655.1 304.5L1652.1 307.5L1655.1 310.5M1665.0 341.7H1653.5M1656.5 338.7L1653.5 341.7L1656.5 344.7M1667.0 359.1H1655.6M1658.6 356.1L1655.6 359.1L1658.6 362.1M1837.8 71.3H1825.8M1828.8 68.3L1825.8 71.3L1828.8 74.3M1883.9 227.3H1871.3M1874.3 224.3L1871.3 227.3L1874.3 230.3M1801.7 287.9H1790.5M1793.5 284.9L1790.5 287.9L1793.5 290.9M1763.4 363.7H1751.6M1754.6 360.7L1751.6 363.7L1754.6 366.7" stroke="#222" stroke-width="1" fill="none"/>
<g font-size="32.800"><text x="1500.500" y="652" textLength="54" lengthAdjust="spacingAndGlyphs">I-IV</text><text x="1858.500" y="652" textLength="105" lengthAdjust="spacingAndGlyphs">Crus II</text></g>
<path d="M1606 641.400H1824M1712 633.400V650.400" stroke="#000" stroke-width="3.600" fill="none"/>
<path d="M1594.5 641.400L1610 634.200V648.600ZM1835 641.400L1819.5 634.200V648.600Z" fill="#000"/>
<text x="1580.500" y="704.600" font-size="34.700" class="b" textLength="277" lengthAdjust="spacingAndGlyphs">log2 fold change</text>
</g>

<g id="captions" fill="#888888" stroke="#888888" stroke-width="0.4" font-size="36.3" font-weight="500">
<text x="203.500" y="771">背侧小脑叶的</text>
<text x="421.500" y="771" textLength="45" lengthAdjust="spacingAndGlyphs" stroke-width="1.200">R1</text>
<text x="467.500" y="771">值</text>
<text x="724" y="771">成人与儿童在小脑叶</text>
<text x="1054.500" y="771" textLength="62.500" lengthAdjust="spacingAndGlyphs" stroke-width="1.200">I-IV</text>
<text x="1119" y="771">和</text>
<text x="1156.500" y="771" textLength="92" lengthAdjust="spacingAndGlyphs" stroke-width="1.200">Crus I</text>
<text x="1249" y="771">的</text>
<text x="1288" y="771" textLength="76.500" lengthAdjust="spacingAndGlyphs" stroke-width="1.200">MTV</text>
<text x="1366" y="771">值</text>
<text x="1465" y="771">小脑叶</text>
<text x="1575.500" y="771" textLength="62.500" lengthAdjust="spacingAndGlyphs" stroke-width="1.200">I-IV</text>
<text x="1639.500" y="771">和</text>
<text x="1676.500" y="771" textLength="102.500" lengthAdjust="spacingAndGlyphs" stroke-width="1.200">Crus II</text>
<text x="1781" y="771">的蛋白质量</text>
</g>
<g id="title" font-size="49.1" font-weight="500" stroke="#000" stroke-width="0.25">
<text x="29.500" y="878">图</text>
<text x="75.500" y="878" font-weight="400" stroke-width="1.100">2.</text>
<text x="142" y="878">成人和儿童定量磁共振和蛋白质组学验证了小脑结构的组织梯度及其发育梯度。</text>
</g>

</svg>
</body>
</html>
